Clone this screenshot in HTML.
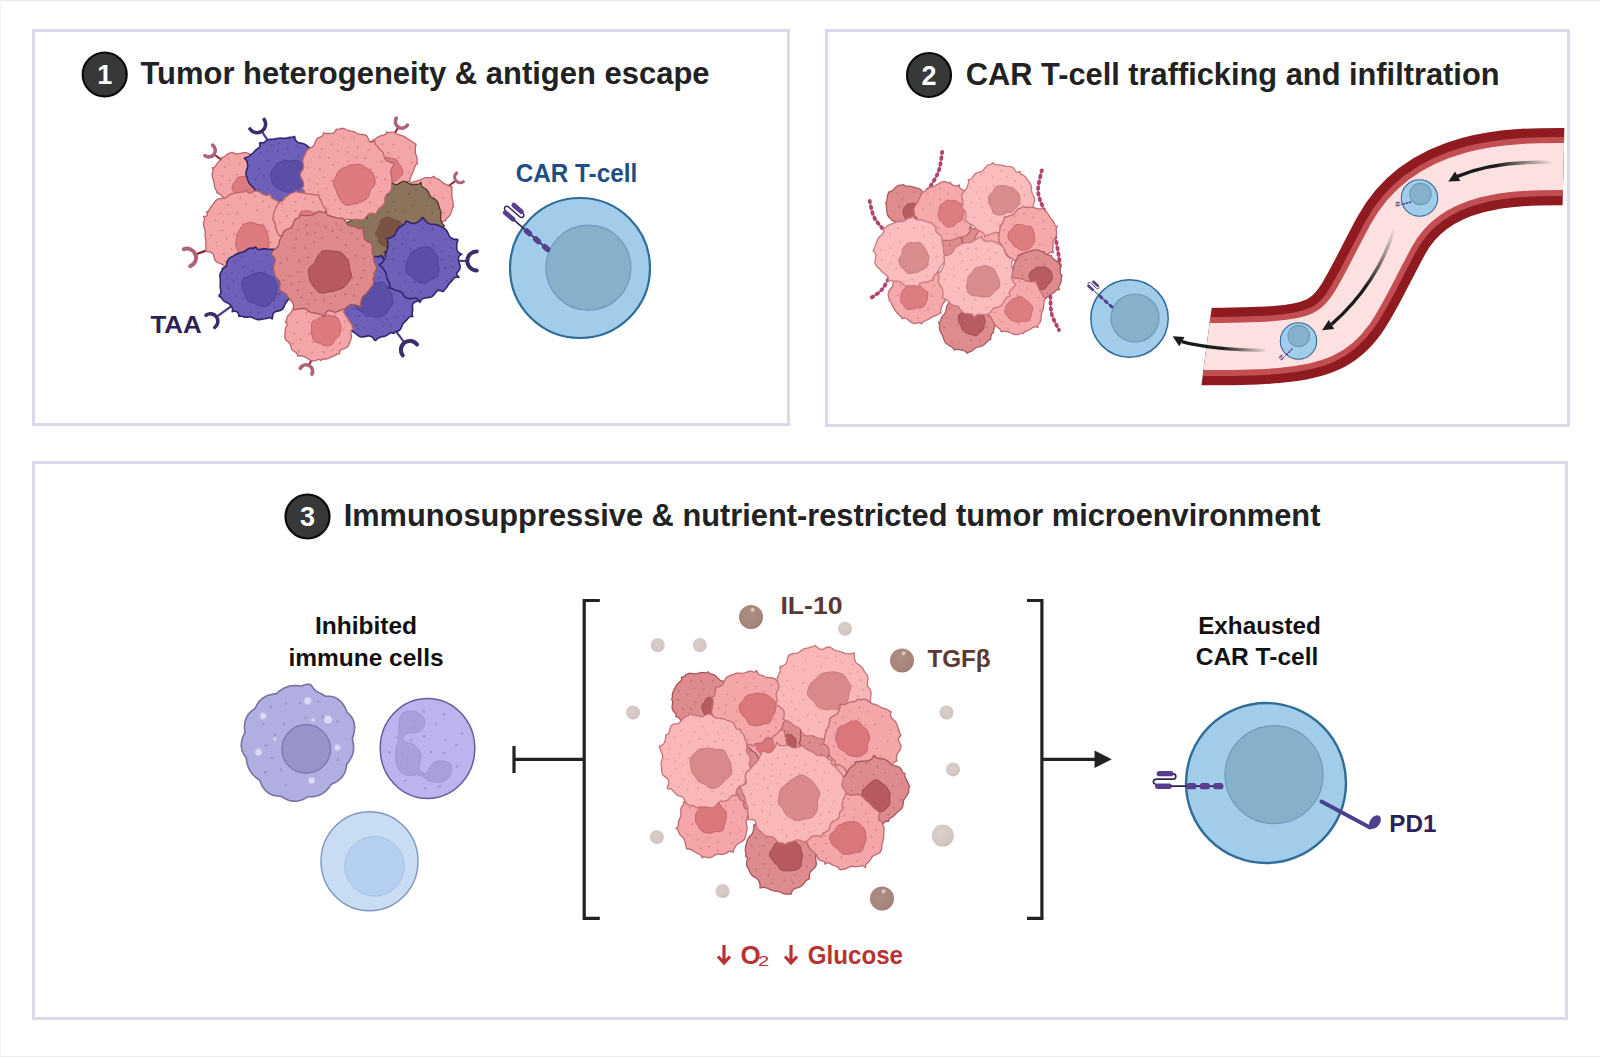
<!DOCTYPE html><html><head><meta charset="utf-8"><style>html,body{margin:0;padding:0;background:#fff;}#c{position:relative;width:1600px;height:1057px;overflow:hidden;background:#fff;}.box{position:absolute;box-sizing:border-box;border:3px solid #dbd8e9;background:#fff;}svg{position:absolute;left:0;top:0;}</style></head><body><div id="c"><div style="position:absolute;left:0;top:0;width:1600px;height:1px;background:#e9e9e9"></div><div style="position:absolute;left:0;top:0;width:1px;height:1057px;background:#f3f3f3"></div><div style="position:absolute;left:0;top:1056px;width:1600px;height:1px;background:#ececec"></div><div class="box" style="left:32px;top:29px;width:758px;height:397px"></div><div class="box" style="left:825px;top:29px;width:745px;height:398px"></div><div class="box" style="left:32px;top:461px;width:1536px;height:559px"></div><svg width="1600" height="1057" viewBox="0 0 1600 1057"><defs><linearGradient id="fadeR" gradientUnits="userSpaceOnUse" x1="1553" y1="162" x2="1460" y2="178"><stop offset="0" stop-color="#1b1b1b" stop-opacity="0"/><stop offset="0.6" stop-color="#1b1b1b" stop-opacity="1"/></linearGradient><linearGradient id="fadeM" gradientUnits="userSpaceOnUse" x1="1394" y1="228" x2="1335" y2="318"><stop offset="0" stop-color="#1b1b1b" stop-opacity="0"/><stop offset="0.6" stop-color="#1b1b1b" stop-opacity="1"/></linearGradient><linearGradient id="fadeL" gradientUnits="userSpaceOnUse" x1="1268" y1="350" x2="1185" y2="340"><stop offset="0" stop-color="#1b1b1b" stop-opacity="0"/><stop offset="0.55" stop-color="#1b1b1b" stop-opacity="1"/></linearGradient><radialGradient id="ballD" cx="0.45" cy="0.4" r="0.65"><stop offset="0" stop-color="#ac8c84"/><stop offset="0.8" stop-color="#a6847b"/><stop offset="1" stop-color="#98736a"/></radialGradient><radialGradient id="ballL" cx="0.45" cy="0.4" r="0.65"><stop offset="0" stop-color="#d9cfcb"/><stop offset="0.8" stop-color="#d3c6c2"/><stop offset="1" stop-color="#bfb0ab"/></radialGradient></defs><circle cx="104.7" cy="74.5" r="22" fill="#383838" stroke="#0a0a0a" stroke-width="2.2"/><text x="104.7" y="84.1" font-family='"Liberation Sans", sans-serif' font-size="27.0" font-weight="bold" fill="#ffffff" text-anchor="middle" >1</text><text x="140.4" y="84.4" font-family='"Liberation Sans", sans-serif' font-size="32.0" font-weight="bold" fill="#222222" text-anchor="start" textLength="569.2" lengthAdjust="spacingAndGlyphs" >Tumor heterogeneity &amp; antigen escape</text><circle cx="929.0" cy="75.0" r="22" fill="#383838" stroke="#0a0a0a" stroke-width="2.2"/><text x="929.0" y="84.6" font-family='"Liberation Sans", sans-serif' font-size="27.0" font-weight="bold" fill="#ffffff" text-anchor="middle" >2</text><text x="965.8" y="84.6" font-family='"Liberation Sans", sans-serif' font-size="32.0" font-weight="bold" fill="#222222" text-anchor="start" textLength="533.7" lengthAdjust="spacingAndGlyphs" >CAR T-cell trafficking and infiltration</text><circle cx="307.5" cy="516.5" r="22" fill="#383838" stroke="#0a0a0a" stroke-width="2.2"/><text x="307.5" y="526.1" font-family='"Liberation Sans", sans-serif' font-size="27.0" font-weight="bold" fill="#ffffff" text-anchor="middle" >3</text><text x="343.7" y="526.0" font-family='"Liberation Sans", sans-serif' font-size="32.0" font-weight="bold" fill="#222222" text-anchor="start" textLength="976.7" lengthAdjust="spacingAndGlyphs" >Immunosuppressive &amp; nutrient-restricted tumor microenvironment</text><g><line x1="224.3" y1="162.0" x2="214.0" y2="154.3" stroke="#8a2232" stroke-width="2.0"/><path d="M212.7,145.2 A6.5,6.5 0 0 1 204.9,155.6" fill="none" stroke="#b06378" stroke-width="3.6" stroke-linecap="round"/><line x1="269.4" y1="142.8" x2="261.8" y2="131.3" stroke="#4d3d80" stroke-width="2.2"/><path d="M264.2,119.5 A8.5,8.5 0 0 1 250.0,128.9" fill="none" stroke="#3d2c6c" stroke-width="3.6" stroke-linecap="round"/><line x1="391.3" y1="138.6" x2="398.4" y2="127.2" stroke="#8a2232" stroke-width="2.0"/><path d="M407.4,125.1 A6.5,6.5 0 0 1 396.3,118.2" fill="none" stroke="#b06378" stroke-width="3.6" stroke-linecap="round"/><line x1="445.7" y1="188.3" x2="455.6" y2="180.7" stroke="#8a2232" stroke-width="2.0"/><path d="M463.3,181.7 A5.5,5.5 0 0 1 456.6,173.0" fill="none" stroke="#b06378" stroke-width="3.2" stroke-linecap="round"/><line x1="209.2" y1="249.4" x2="195.5" y2="254.5" stroke="#8a2232" stroke-width="2.2"/><path d="M183.9,249.2 A9.0,9.0 0 0 1 190.2,266.1" fill="none" stroke="#b06378" stroke-width="4.0" stroke-linecap="round"/><line x1="456.3" y1="260.9" x2="467.3" y2="260.9" stroke="#4d3d80" stroke-width="2.2"/><path d="M476.8,270.4 A9.5,9.5 0 0 1 476.8,251.4" fill="none" stroke="#3d2c6c" stroke-width="4.0" stroke-linecap="round"/><line x1="233.6" y1="304.5" x2="216.5" y2="316.9" stroke="#4d3d80" stroke-width="2.2"/><path d="M206.0,315.2 A7.5,7.5 0 0 1 214.8,327.4" fill="none" stroke="#3d2c6c" stroke-width="3.6" stroke-linecap="round"/><line x1="396.2" y1="331.7" x2="404.5" y2="342.7" stroke="#4d3d80" stroke-width="2.2"/><path d="M402.7,355.3 A9.0,9.0 0 0 1 417.1,344.5" fill="none" stroke="#3d2c6c" stroke-width="4.0" stroke-linecap="round"/><line x1="312.3" y1="358.5" x2="308.9" y2="365.4" stroke="#8a2232" stroke-width="2.0"/><path d="M300.2,368.4 A6.5,6.5 0 0 1 311.9,374.1" fill="none" stroke="#b06378" stroke-width="3.6" stroke-linecap="round"/><path d="M262.9,177.0 L262.8,177.7 L263.1,178.4 L264.2,179.3 L263.1,179.9 L262.2,180.5 L261.9,181.1 L261.6,181.8 L261.5,182.5 L261.4,183.1 L261.2,183.8 L261.1,184.5 L260.9,185.2 L260.7,185.8 L260.5,186.5 L260.3,187.2 L260.2,187.9 L260.4,188.8 L260.1,189.5 L259.1,189.7 L258.5,190.2 L258.0,190.7 L257.6,191.3 L257.2,191.8 L256.8,192.4 L256.5,193.0 L256.1,193.6 L255.6,194.1 L255.2,194.7 L254.7,195.2 L254.3,195.8 L253.7,196.2 L253.1,196.6 L252.5,197.0 L251.9,197.3 L251.2,197.6 L250.6,197.8 L249.9,198.0 L249.2,198.2 L248.5,198.4 L247.9,198.6 L247.2,198.8 L246.6,199.2 L246.1,199.7 L245.7,200.6 L245.5,202.4 L244.4,201.4 L243.6,201.3 L243.0,201.6 L242.3,202.0 L241.6,202.4 L241.0,202.7 L240.2,203.1 L239.5,203.3 L238.8,203.4 L238.0,203.5 L237.2,203.5 L236.5,203.3 L235.8,203.1 L235.0,202.9 L234.3,202.6 L233.6,202.2 L233.0,201.9 L232.3,201.5 L231.6,201.2 L231.0,200.9 L230.3,200.6 L229.7,200.3 L229.0,200.1 L228.4,199.8 L227.7,199.6 L227.0,199.3 L226.4,199.0 L225.7,198.7 L225.1,198.4 L224.5,198.1 L223.9,197.7 L223.3,197.2 L222.7,196.8 L222.2,196.4 L221.6,195.9 L221.1,195.4 L220.6,194.9 L220.0,194.5 L219.5,194.0 L218.9,193.6 L218.2,193.2 L217.1,193.1 L216.9,192.3 L216.8,191.5 L216.4,190.9 L216.1,190.2 L215.7,189.6 L215.4,188.9 L215.1,188.3 L214.9,187.6 L214.7,186.8 L214.5,186.1 L214.4,185.4 L214.3,184.7 L214.2,184.0 L214.1,183.3 L214.0,182.6 L213.8,181.9 L213.7,181.2 L213.5,180.5 L213.3,179.8 L213.0,179.1 L212.8,178.4 L212.6,177.7 L212.4,177.0 L212.3,176.3 L212.2,175.5 L212.2,174.8 L212.2,174.0 L212.3,173.3 L212.5,172.6 L212.7,171.9 L212.9,171.2 L213.1,170.5 L213.2,169.7 L212.8,168.8 L212.1,167.8 L213.8,167.6 L214.7,167.1 L215.2,166.6 L215.6,166.0 L215.9,165.4 L216.3,164.7 L216.7,164.1 L217.1,163.6 L217.5,163.0 L217.9,162.4 L218.4,161.9 L218.9,161.4 L219.5,161.0 L220.0,160.5 L220.6,160.1 L221.1,159.6 L221.6,159.1 L221.9,158.4 L221.8,157.1 L222.7,157.2 L223.6,157.2 L224.3,156.9 L224.8,156.5 L225.3,156.0 L225.9,155.5 L226.4,155.0 L227.0,154.5 L227.5,154.1 L228.2,153.7 L228.8,153.4 L229.5,153.2 L230.2,153.0 L230.9,152.7 L231.5,152.3 L232.2,152.2 L233.1,152.9 L233.9,153.2 L234.6,153.5 L235.3,153.6 L236.0,153.8 L236.7,153.9 L237.3,153.9 L238.0,153.9 L238.7,153.8 L239.3,153.6 L240.0,153.5 L240.7,153.3 L241.4,153.1 L242.2,152.9 L242.9,152.8 L243.7,152.7 L244.4,152.6 L245.2,152.6 L245.9,152.7 L246.6,152.8 L247.3,153.0 L248.0,153.2 L248.7,153.5 L249.4,153.8 L250.1,154.2 L250.7,154.5 L251.3,154.9 L252.0,155.2 L252.6,155.6 L253.3,156.0 L253.9,156.4 L254.5,156.8 L255.1,157.2 L255.8,157.6 L256.5,157.9 L257.6,158.0 L257.7,158.9 L257.9,159.8 L258.2,160.5 L258.5,161.2 L258.9,161.8 L259.2,162.5 L259.6,163.1 L259.9,163.8 L260.3,164.4 L260.6,165.1 L261.0,165.7 L261.4,166.3 L261.7,167.0 L262.1,167.6 L262.5,168.3 L262.8,168.9 L263.1,169.6 L263.3,170.4 L263.5,171.1 L263.6,171.8 L263.6,172.6 L263.6,173.3 L263.5,174.1 L263.4,174.8 L263.2,175.6 L263.1,176.3Z" fill="#f4a5a7" stroke="#b8656c" stroke-width="1.3" stroke-linejoin="round"/><g fill="#e0868a"><circle cx="228.3" cy="159.1" r="1.1"/><circle cx="238.1" cy="183.3" r="1.1"/><circle cx="229.8" cy="180.6" r="1.1"/><circle cx="220.7" cy="184.3" r="1.1"/><circle cx="243.7" cy="196.3" r="1.1"/><circle cx="222.4" cy="176.0" r="1.1"/><circle cx="254.7" cy="176.6" r="1.1"/><circle cx="247.2" cy="189.1" r="1.1"/><circle cx="239.7" cy="163.8" r="1.1"/><circle cx="237.1" cy="174.3" r="1.1"/><circle cx="251.3" cy="160.5" r="1.1"/><circle cx="224.8" cy="166.9" r="1.1"/><circle cx="247.0" cy="179.3" r="1.1"/><circle cx="256.4" cy="188.3" r="1.1"/></g><path d="M254.8,187.0 L254.6,187.7 L254.4,188.5 L254.3,189.2 L254.1,189.9 L253.9,190.6 L253.6,191.3 L253.2,191.9 L252.8,192.5 L252.4,193.1 L252.0,193.7 L251.6,194.4 L251.2,195.0 L250.8,195.7 L250.2,196.2 L249.6,196.6 L248.9,197.0 L248.1,197.2 L247.4,197.4 L246.7,197.7 L245.9,198.0 L245.2,198.3 L244.4,198.5 L243.6,198.7 L242.8,198.8 L241.9,198.7 L241.1,198.6 L240.3,198.4 L239.5,198.1 L238.8,197.8 L238.0,197.3 L237.4,196.8 L236.9,196.1 L236.5,195.3 L236.2,194.6 L235.9,193.8 L235.5,193.2 L235.0,192.6 L234.3,192.1 L233.7,191.6 L233.0,191.0 L232.5,190.3 L232.2,189.5 L232.1,188.7 L232.1,187.8 L232.3,187.0 L232.5,186.2 L232.7,185.4 L232.9,184.6 L233.2,183.9 L233.6,183.2 L234.1,182.6 L234.6,182.0 L235.1,181.4 L235.5,180.9 L235.9,180.2 L236.3,179.6 L236.7,178.9 L237.1,178.2 L237.7,177.6 L238.3,177.2 L239.1,176.9 L239.9,176.8 L240.7,176.7 L241.4,176.7 L242.2,176.6 L242.9,176.5 L243.6,176.5 L244.4,176.4 L245.1,176.4 L245.9,176.5 L246.6,176.5 L247.4,176.4 L248.3,176.4 L249.2,176.4 L250.1,176.5 L250.9,176.7 L251.7,177.2 L252.3,177.8 L252.9,178.4 L253.3,179.2 L253.7,179.9 L254.2,180.6 L254.6,181.3 L255.1,182.1 L255.4,182.9 L255.6,183.7 L255.6,184.5 L255.4,185.4 L255.1,186.2Z" fill="#dc7a7e" stroke="#c0646a" stroke-width="1"/><path d="M417.1,160.0 L417.1,160.8 L417.0,161.5 L417.0,162.3 L417.4,163.1 L417.6,164.0 L416.2,164.5 L415.5,165.2 L415.1,165.8 L414.9,166.5 L414.6,167.2 L414.4,167.9 L414.2,168.6 L414.0,169.4 L413.8,170.1 L413.6,170.8 L413.3,171.5 L413.0,172.1 L412.7,172.8 L412.4,173.5 L412.0,174.2 L411.7,174.8 L411.4,175.5 L411.0,176.2 L410.7,177.0 L410.4,177.7 L410.1,178.5 L409.9,179.3 L409.9,180.5 L410.3,182.1 L408.7,181.6 L407.8,181.7 L407.0,182.0 L406.2,182.3 L405.4,182.5 L404.6,182.7 L403.8,182.9 L403.0,183.0 L402.2,183.2 L401.5,183.3 L400.7,183.5 L400.0,183.8 L399.4,184.1 L398.7,184.5 L398.1,185.0 L397.6,185.7 L397.1,187.1 L396.3,187.0 L395.4,186.7 L394.6,186.7 L393.9,186.8 L393.1,187.0 L392.3,187.1 L391.6,187.2 L390.8,187.2 L390.0,187.2 L389.2,187.3 L388.4,187.3 L387.7,187.3 L386.9,187.4 L386.1,187.4 L385.3,187.4 L384.5,187.4 L383.7,187.3 L382.9,187.1 L382.1,186.9 L381.4,186.5 L380.7,186.1 L380.0,185.6 L379.4,185.1 L378.8,184.6 L378.2,184.1 L377.5,183.7 L376.6,183.7 L375.2,184.5 L375.1,183.2 L374.8,182.2 L374.3,181.6 L373.6,181.2 L372.9,180.9 L372.2,180.5 L371.5,180.2 L370.8,179.7 L370.2,179.3 L369.6,178.7 L369.1,178.1 L368.6,177.5 L368.2,176.8 L367.8,176.1 L367.5,175.4 L367.2,174.7 L366.9,174.0 L366.5,173.3 L366.2,172.6 L365.9,171.9 L365.5,171.2 L365.1,170.5 L364.6,169.9 L363.8,169.3 L362.2,169.0 L362.9,168.0 L363.4,167.0 L363.4,166.2 L363.3,165.4 L363.2,164.6 L363.0,163.9 L362.8,163.1 L362.6,162.4 L362.3,161.6 L362.1,160.8 L361.9,160.0 L361.7,159.2 L361.5,158.4 L361.4,157.5 L361.5,156.7 L361.6,155.9 L361.9,155.1 L362.2,154.4 L362.7,153.6 L363.2,153.0 L363.8,152.3 L364.4,151.7 L364.9,151.1 L365.5,150.4 L365.9,149.8 L366.1,149.1 L366.0,148.2 L365.0,146.8 L366.5,146.7 L367.3,146.3 L367.7,145.7 L368.0,145.0 L368.4,144.3 L368.8,143.6 L369.2,143.0 L369.7,142.4 L370.3,141.9 L370.9,141.4 L371.6,141.0 L372.2,140.6 L372.9,140.3 L373.6,139.9 L374.2,139.5 L374.9,139.1 L375.5,138.7 L376.1,138.3 L376.7,137.9 L377.3,137.5 L377.9,137.1 L378.6,136.8 L379.2,136.4 L379.9,136.1 L380.6,135.9 L381.3,135.7 L382.0,135.5 L382.8,135.3 L383.5,135.1 L384.2,134.9 L384.8,134.6 L385.5,134.1 L386.2,133.3 L386.7,131.6 L387.6,132.6 L388.4,132.7 L389.2,132.6 L390.0,132.4 L390.8,132.3 L391.6,132.2 L392.4,132.2 L393.2,132.3 L393.9,132.5 L394.7,132.8 L395.4,133.1 L396.2,133.5 L396.9,133.8 L397.6,134.1 L398.3,134.5 L399.0,134.7 L399.7,135.0 L400.5,135.2 L401.2,135.5 L402.0,135.7 L402.7,135.9 L403.4,136.2 L404.1,136.5 L404.8,136.9 L405.5,137.3 L406.2,137.7 L406.8,138.2 L407.5,138.6 L408.2,139.1 L408.8,139.5 L409.5,139.9 L410.2,140.4 L410.9,140.8 L411.6,141.2 L412.4,141.7 L413.0,142.2 L413.7,142.8 L414.4,143.3 L415.1,143.8 L416.1,144.2 L415.7,145.5 L415.5,146.5 L415.5,147.5 L415.4,148.4 L415.4,149.3 L415.3,150.1 L415.3,151.0 L415.3,151.8 L415.4,152.5 L415.5,153.3 L415.7,154.0 L416.0,154.7 L416.3,155.5 L416.5,156.2 L416.8,156.9 L417.0,157.7 L417.1,158.4 L417.2,159.2Z" fill="#f4a5a7" stroke="#b8656c" stroke-width="1.3" stroke-linejoin="round"/><g fill="#e0868a"><circle cx="387.2" cy="163.1" r="1.1"/><circle cx="397.0" cy="174.2" r="1.1"/><circle cx="393.3" cy="144.5" r="1.1"/><circle cx="380.0" cy="159.7" r="1.1"/><circle cx="375.1" cy="153.1" r="1.1"/><circle cx="411.6" cy="162.7" r="1.1"/><circle cx="383.0" cy="144.2" r="1.1"/><circle cx="408.9" cy="173.1" r="1.1"/><circle cx="392.2" cy="182.0" r="1.1"/><circle cx="398.4" cy="158.0" r="1.1"/><circle cx="388.3" cy="153.0" r="1.1"/><circle cx="385.6" cy="173.2" r="1.1"/><circle cx="379.9" cy="181.0" r="1.1"/><circle cx="375.8" cy="171.2" r="1.1"/><circle cx="410.1" cy="147.7" r="1.1"/><circle cx="369.6" cy="159.2" r="1.1"/><circle cx="400.0" cy="166.9" r="1.1"/></g><path d="M402.5,170.0 L402.8,170.9 L403.0,171.8 L402.9,172.7 L402.7,173.6 L402.3,174.5 L401.7,175.2 L401.1,175.9 L400.5,176.5 L399.9,177.2 L399.4,177.9 L398.8,178.5 L398.2,179.1 L397.6,179.7 L396.8,180.1 L396.1,180.5 L395.3,180.9 L394.6,181.3 L393.8,181.7 L393.0,182.0 L392.2,182.2 L391.3,182.3 L390.4,182.3 L389.6,182.2 L388.7,182.1 L387.9,182.0 L387.0,181.9 L386.2,181.8 L385.3,181.6 L384.5,181.3 L383.7,180.8 L383.1,180.2 L382.6,179.5 L382.2,178.7 L381.8,177.9 L381.3,177.3 L380.8,176.7 L380.2,176.1 L379.6,175.5 L379.1,174.9 L378.7,174.1 L378.5,173.3 L378.3,172.5 L378.3,171.6 L378.3,170.8 L378.3,170.0 L378.3,169.2 L378.3,168.4 L378.5,167.6 L378.8,166.8 L379.2,166.1 L379.5,165.3 L379.9,164.6 L380.1,163.8 L380.3,163.0 L380.5,162.0 L380.8,161.1 L381.1,160.2 L381.7,159.3 L382.4,158.7 L383.2,158.2 L384.0,157.8 L384.9,157.5 L385.9,157.3 L386.8,157.2 L387.8,157.3 L388.7,157.5 L389.6,157.8 L390.4,158.1 L391.2,158.4 L392.0,158.6 L392.8,158.7 L393.6,158.8 L394.5,158.9 L395.3,159.1 L396.1,159.5 L396.7,160.1 L397.2,160.8 L397.6,161.6 L398.0,162.3 L398.3,163.0 L398.8,163.6 L399.3,164.2 L399.8,164.8 L400.3,165.4 L400.7,166.1 L401.1,166.8 L401.5,167.6 L401.8,168.3 L402.1,169.2Z" fill="#dc7a7e" stroke="#c0646a" stroke-width="1"/><path d="M452.9,202.0 L453.0,202.7 L453.1,203.4 L453.1,204.2 L453.2,204.9 L453.6,205.7 L453.9,206.5 L453.0,207.1 L452.6,207.7 L452.3,208.4 L452.1,209.1 L451.9,209.8 L451.7,210.5 L451.5,211.2 L451.3,211.9 L451.1,212.5 L450.8,213.2 L450.5,213.9 L450.2,214.5 L449.9,215.2 L449.4,215.8 L449.0,216.4 L448.5,216.9 L448.0,217.4 L447.4,217.9 L446.9,218.4 L446.4,218.9 L446.0,219.5 L446.0,220.6 L445.1,220.7 L444.3,220.8 L443.6,221.1 L443.1,221.5 L442.5,222.0 L442.0,222.5 L441.5,223.0 L441.0,223.5 L440.4,224.0 L439.9,224.5 L439.3,224.9 L438.6,225.3 L438.0,225.6 L437.3,225.8 L436.6,226.0 L435.8,226.2 L435.1,226.3 L434.4,226.3 L433.7,226.4 L433.0,226.6 L432.3,227.1 L431.8,228.2 L430.9,227.0 L430.1,226.6 L429.4,226.4 L428.7,226.4 L428.0,226.4 L427.3,226.4 L426.6,226.3 L425.9,226.3 L425.2,226.2 L424.5,226.1 L423.9,226.0 L423.2,225.8 L422.5,225.6 L421.9,225.3 L421.2,225.1 L420.6,224.9 L419.9,224.6 L419.3,224.4 L418.6,224.2 L417.9,224.0 L417.3,223.8 L416.6,223.7 L415.9,223.5 L415.2,223.3 L414.5,223.0 L413.8,222.8 L413.1,222.4 L412.5,222.1 L412.0,221.6 L411.4,221.1 L411.0,220.6 L410.5,220.0 L410.2,219.3 L409.8,218.7 L409.6,218.0 L409.3,217.3 L409.0,216.7 L408.6,216.1 L408.1,215.6 L407.2,215.4 L406.1,215.2 L406.6,214.1 L406.5,213.4 L406.0,212.8 L405.5,212.3 L404.8,211.8 L403.9,211.4 L402.3,211.2 L402.6,210.2 L402.6,209.5 L402.3,208.7 L402.1,208.0 L401.8,207.3 L401.7,206.6 L401.5,205.8 L401.5,205.0 L401.5,204.3 L401.6,203.5 L401.6,202.8 L401.7,202.0 L401.8,201.3 L401.9,200.5 L402.0,199.8 L402.2,199.0 L402.3,198.3 L402.4,197.6 L402.6,196.8 L402.7,196.1 L402.9,195.4 L403.2,194.7 L403.5,194.0 L403.8,193.4 L404.1,192.7 L404.5,192.1 L404.9,191.4 L405.2,190.8 L405.4,190.1 L405.2,189.2 L404.7,188.0 L406.4,188.1 L407.2,187.8 L407.7,187.3 L408.2,186.7 L408.6,186.1 L409.0,185.5 L409.4,184.9 L409.9,184.4 L410.4,183.9 L410.9,183.4 L411.5,182.9 L412.1,182.5 L412.7,182.2 L413.4,181.9 L414.1,181.7 L414.8,181.4 L415.5,181.2 L416.2,181.1 L416.9,180.9 L417.5,180.7 L418.2,180.5 L418.8,180.3 L419.5,180.1 L420.1,179.8 L420.7,179.6 L421.3,179.3 L421.9,179.0 L422.6,178.7 L423.2,178.4 L423.9,178.2 L424.5,178.0 L425.2,177.8 L425.9,177.7 L426.6,177.6 L427.3,177.6 L428.0,177.6 L428.7,177.6 L429.4,177.6 L430.1,177.6 L430.8,177.6 L431.5,177.6 L432.3,177.3 L433.2,176.5 L434.0,176.3 L434.5,177.4 L435.1,177.9 L435.8,178.1 L436.4,178.4 L437.1,178.6 L437.8,178.9 L438.4,179.2 L439.0,179.6 L439.6,180.0 L440.2,180.4 L440.7,180.9 L441.3,181.3 L441.8,181.8 L442.4,182.2 L442.9,182.7 L443.5,183.1 L444.1,183.4 L444.7,183.8 L445.4,184.1 L446.1,184.4 L446.8,184.7 L447.5,185.1 L448.2,185.4 L448.9,185.8 L449.7,186.3 L450.5,186.6 L451.8,186.7 L452.2,187.4 L451.8,188.6 L451.7,189.5 L451.8,190.3 L451.8,191.1 L451.9,191.9 L451.9,192.7 L451.8,193.5 L451.8,194.3 L451.8,195.0 L451.8,195.7 L451.9,196.5 L451.9,197.1 L452.1,197.8 L452.2,198.5 L452.4,199.2 L452.5,199.9 L452.7,200.6 L452.8,201.3Z" fill="#f4a5a7" stroke="#b8656c" stroke-width="1.3" stroke-linejoin="round"/><g fill="#e0868a"><circle cx="423.6" cy="209.1" r="1.1"/><circle cx="427.2" cy="222.3" r="1.1"/><circle cx="418.4" cy="200.0" r="1.1"/><circle cx="436.1" cy="213.6" r="1.1"/><circle cx="411.0" cy="214.5" r="1.1"/><circle cx="407.4" cy="205.0" r="1.1"/><circle cx="442.7" cy="197.9" r="1.1"/><circle cx="412.3" cy="188.5" r="1.1"/><circle cx="429.9" cy="182.6" r="1.1"/><circle cx="422.0" cy="190.8" r="1.1"/><circle cx="444.2" cy="213.0" r="1.1"/><circle cx="409.5" cy="196.8" r="1.1"/><circle cx="434.3" cy="196.2" r="1.1"/><circle cx="426.7" cy="200.1" r="1.1"/></g><path d="M436.4,210.0 L436.3,210.8 L436.2,211.6 L436.2,212.4 L436.0,213.2 L435.8,213.9 L435.4,214.6 L434.9,215.3 L434.3,215.8 L433.8,216.4 L433.2,216.9 L432.6,217.4 L432.0,217.8 L431.4,218.2 L430.7,218.4 L430.0,218.7 L429.3,218.9 L428.7,219.1 L428.1,219.4 L427.5,219.8 L426.8,220.3 L426.1,220.9 L425.4,221.3 L424.6,221.6 L423.8,221.8 L422.9,221.8 L422.1,221.7 L421.3,221.5 L420.4,221.3 L419.7,221.0 L418.9,220.5 L418.2,220.0 L417.7,219.4 L417.2,218.6 L416.8,217.9 L416.4,217.2 L416.0,216.6 L415.4,216.0 L414.8,215.4 L414.2,214.8 L413.7,214.1 L413.4,213.3 L413.4,212.5 L413.5,211.6 L413.8,210.8 L414.1,210.0 L414.3,209.3 L414.5,208.5 L414.7,207.8 L414.8,207.1 L415.0,206.4 L415.2,205.6 L415.5,204.9 L415.8,204.2 L416.1,203.5 L416.4,202.8 L416.8,202.1 L417.2,201.4 L417.8,200.8 L418.5,200.3 L419.3,200.0 L420.1,199.9 L420.9,199.8 L421.7,199.7 L422.4,199.7 L423.2,199.5 L423.9,199.4 L424.6,199.3 L425.4,199.3 L426.1,199.3 L426.9,199.4 L427.6,199.5 L428.4,199.6 L429.2,199.7 L430.0,199.8 L430.8,200.0 L431.6,200.3 L432.2,200.7 L432.8,201.3 L433.3,202.0 L433.8,202.6 L434.3,203.3 L434.8,203.8 L435.4,204.4 L436.0,205.1 L436.5,205.8 L436.8,206.6 L436.9,207.5 L436.8,208.3 L436.6,209.2Z" fill="#dc7a7e" stroke="#c0646a" stroke-width="1"/><path d="M391.3,240.0 L391.3,240.8 L391.6,241.5 L392.6,242.4 L391.2,243.0 L390.6,243.7 L390.2,244.4 L389.9,245.1 L389.6,245.7 L389.3,246.4 L389.0,247.0 L388.6,247.7 L388.2,248.3 L387.8,248.9 L387.4,249.4 L386.9,250.0 L386.5,250.6 L386.1,251.1 L385.7,251.7 L385.4,252.3 L385.2,253.0 L385.3,253.9 L386.0,255.3 L385.3,255.6 L384.3,255.8 L383.8,256.3 L383.4,256.9 L383.0,257.5 L382.6,258.2 L382.2,258.8 L381.8,259.3 L381.2,259.9 L380.7,260.3 L380.1,260.7 L379.4,261.1 L378.8,261.4 L378.1,261.7 L377.4,261.9 L376.7,262.2 L376.0,262.4 L375.3,262.6 L374.6,262.8 L373.9,263.0 L373.3,263.2 L372.6,263.4 L371.9,263.6 L371.2,263.8 L370.6,263.9 L369.9,264.1 L369.2,264.2 L368.5,264.3 L367.8,264.4 L367.1,264.4 L366.4,264.4 L365.7,264.4 L365.0,264.4 L364.3,264.4 L363.6,264.4 L362.9,264.4 L362.2,264.4 L361.5,264.4 L360.8,264.4 L360.1,264.4 L359.3,264.5 L358.5,264.7 L357.5,265.5 L356.7,265.4 L356.3,264.3 L355.7,263.8 L355.1,263.3 L354.5,262.9 L353.9,262.5 L353.4,262.0 L352.8,261.5 L352.3,261.0 L351.8,260.5 L351.3,260.0 L350.8,259.6 L350.3,259.1 L349.7,258.7 L349.1,258.3 L348.5,257.9 L347.9,257.6 L347.3,257.2 L346.6,256.9 L346.0,256.5 L345.3,256.1 L344.7,255.6 L344.2,255.1 L343.6,254.6 L343.1,254.1 L342.4,253.6 L341.3,253.4 L341.9,252.2 L342.0,251.3 L342.0,250.5 L342.0,249.7 L342.0,249.0 L341.9,248.2 L341.9,247.5 L341.8,246.8 L341.7,246.1 L341.5,245.5 L341.4,244.8 L341.2,244.1 L341.0,243.5 L340.8,242.8 L340.5,242.1 L340.3,241.4 L340.1,240.7 L340.0,240.0 L339.8,239.3 L339.7,238.6 L339.6,237.8 L339.3,237.1 L338.6,236.2 L337.4,235.2 L338.9,234.7 L339.5,234.1 L339.8,233.4 L339.9,232.6 L340.0,231.9 L340.1,231.1 L340.1,230.3 L339.9,229.4 L339.1,228.2 L339.9,227.7 L340.8,227.2 L341.4,226.7 L341.9,226.1 L342.4,225.5 L343.0,224.9 L343.6,224.4 L344.2,224.0 L344.9,223.6 L345.6,223.2 L346.3,222.8 L347.0,222.5 L347.7,222.2 L348.4,221.9 L349.0,221.6 L349.6,221.2 L350.2,220.8 L350.8,220.5 L351.4,220.1 L351.9,219.7 L352.5,219.2 L353.0,218.8 L353.6,218.4 L354.2,218.0 L354.8,217.7 L355.4,217.4 L356.1,217.1 L356.7,216.9 L357.4,216.7 L358.1,216.5 L358.8,216.3 L359.5,216.2 L360.1,216.0 L360.8,215.7 L361.4,215.1 L362.0,213.7 L362.8,214.9 L363.6,215.4 L364.3,215.5 L365.0,215.6 L365.7,215.6 L366.4,215.6 L367.1,215.7 L367.8,215.9 L368.4,216.0 L369.1,216.2 L369.8,216.5 L370.4,216.7 L371.0,217.0 L371.7,217.2 L372.3,217.5 L373.0,217.7 L373.6,217.9 L374.3,218.0 L375.0,218.1 L375.8,218.1 L376.8,217.7 L378.0,216.9 L378.2,218.2 L378.6,218.8 L379.3,219.2 L379.9,219.5 L380.5,219.9 L381.1,220.3 L381.7,220.8 L382.2,221.3 L382.6,221.9 L383.0,222.5 L383.4,223.1 L383.8,223.7 L384.1,224.4 L384.5,225.0 L384.8,225.6 L385.2,226.2 L385.6,226.8 L386.1,227.3 L386.5,227.8 L387.1,228.4 L387.6,228.9 L388.2,229.4 L388.7,230.0 L389.3,230.5 L389.8,231.2 L390.2,231.8 L390.6,232.5 L391.0,233.2 L391.2,233.9 L391.4,234.7 L391.5,235.4 L391.6,236.2 L391.5,237.0 L391.5,237.7 L391.4,238.5 L391.3,239.2Z" fill="#8c735c" stroke="#4e3626" stroke-width="1.3"/><path d="M440.6,219.0 L440.8,220.1 L441.1,221.2 L441.6,222.3 L442.3,223.5 L443.6,224.8 L444.4,226.2 L442.8,227.1 L441.9,228.0 L441.1,229.0 L440.3,229.9 L439.4,230.8 L438.5,231.7 L437.6,232.5 L436.9,233.3 L436.2,234.2 L435.6,235.0 L435.1,235.9 L434.5,236.8 L433.9,237.6 L433.2,238.4 L432.5,239.2 L431.8,239.9 L431.1,240.6 L430.4,241.4 L429.8,242.2 L429.3,243.1 L428.8,244.0 L428.2,245.0 L427.6,245.8 L426.9,246.6 L426.1,247.2 L425.2,247.8 L424.4,248.5 L424.1,249.8 L422.7,249.6 L421.0,248.9 L419.8,248.8 L418.9,249.2 L418.2,249.9 L417.5,250.7 L416.8,251.7 L416.1,252.6 L415.3,253.5 L414.4,254.2 L413.5,254.6 L412.4,254.9 L411.4,255.0 L410.3,255.0 L409.2,254.9 L408.2,254.8 L407.1,254.8 L406.1,254.9 L405.1,255.0 L404.0,255.1 L403.0,255.2 L402.0,255.2 L400.9,255.2 L399.9,255.1 L398.9,255.0 L397.8,255.0 L396.7,255.2 L395.5,255.8 L394.1,257.2 L393.1,256.7 L392.2,255.8 L391.2,255.4 L390.1,255.1 L389.1,254.6 L388.2,253.9 L387.4,253.1 L386.6,252.3 L385.8,251.6 L384.7,251.3 L383.1,251.9 L382.9,250.3 L382.1,249.5 L381.1,249.2 L379.9,248.9 L378.8,248.6 L377.6,248.3 L376.6,247.7 L375.7,247.1 L374.9,246.3 L374.2,245.4 L373.5,244.5 L372.9,243.6 L372.2,242.7 L371.6,241.8 L370.9,240.9 L370.3,240.0 L369.8,239.0 L369.4,238.0 L369.1,236.9 L369.0,235.7 L368.9,234.6 L368.8,233.4 L368.7,232.3 L368.5,231.3 L368.2,230.3 L367.7,229.4 L367.1,228.4 L366.4,227.5 L365.9,226.5 L365.4,225.5 L365.2,224.4 L365.2,223.3 L365.3,222.2 L365.6,221.1 L366.0,220.1 L366.4,219.0 L366.7,218.0 L366.9,216.9 L366.9,215.9 L366.7,214.8 L365.9,213.7 L366.2,212.6 L367.4,211.8 L368.0,210.9 L368.5,209.9 L368.9,209.0 L369.3,208.0 L369.5,207.1 L369.6,206.0 L369.6,204.9 L369.6,203.7 L369.5,202.5 L369.5,201.3 L369.7,200.2 L370.1,199.2 L370.8,198.3 L371.6,197.5 L372.6,196.9 L373.6,196.3 L374.6,195.8 L375.5,195.2 L376.3,194.5 L377.0,193.8 L377.6,192.9 L378.0,191.8 L378.3,190.4 L377.9,188.3 L379.2,188.2 L380.7,188.2 L381.7,187.9 L382.7,187.5 L383.7,187.0 L384.7,186.6 L385.6,186.1 L386.6,185.6 L387.6,185.2 L388.5,184.8 L389.5,184.3 L390.3,183.5 L390.9,181.7 L392.4,183.0 L393.8,184.1 L395.0,184.5 L396.0,184.6 L397.0,184.5 L398.0,184.1 L398.9,183.6 L399.9,182.9 L400.9,182.3 L401.9,181.8 L403.0,181.4 L404.1,181.3 L405.1,181.5 L406.2,181.9 L407.2,182.5 L408.2,183.1 L409.1,183.7 L410.1,184.1 L411.0,184.4 L412.1,184.5 L413.1,184.6 L414.2,184.5 L415.3,184.5 L416.4,184.5 L417.6,184.4 L419.0,184.0 L421.0,182.3 L421.1,184.7 L421.6,186.1 L422.4,186.9 L423.3,187.5 L424.2,188.0 L425.1,188.5 L426.0,189.2 L426.8,189.9 L427.5,190.7 L428.1,191.6 L428.6,192.7 L429.0,193.7 L429.4,194.7 L429.9,195.7 L430.5,196.5 L431.3,197.2 L432.2,197.8 L433.2,198.3 L434.3,198.9 L435.3,199.5 L436.2,200.2 L437.0,201.1 L437.6,202.0 L438.0,203.0 L438.4,204.0 L438.7,205.1 L438.9,206.2 L439.2,207.2 L439.6,208.3 L440.0,209.3 L440.3,210.3 L440.7,211.4 L440.9,212.4 L441.0,213.5 L440.9,214.6 L440.8,215.8 L440.7,216.8 L440.6,217.9Z" fill="#8c735c" stroke="#4e3626" stroke-width="1.3" stroke-linejoin="round"/><g fill="#7b634e"><circle cx="394.7" cy="242.1" r="1.1"/><circle cx="404.9" cy="238.7" r="1.1"/><circle cx="413.2" cy="205.4" r="1.1"/><circle cx="408.8" cy="194.3" r="1.1"/><circle cx="393.0" cy="201.7" r="1.1"/><circle cx="405.6" cy="211.1" r="1.1"/><circle cx="416.2" cy="189.9" r="1.1"/><circle cx="386.4" cy="237.4" r="1.1"/><circle cx="387.6" cy="212.3" r="1.1"/><circle cx="382.2" cy="203.2" r="1.1"/><circle cx="394.8" cy="188.1" r="1.1"/><circle cx="376.0" cy="217.1" r="1.1"/><circle cx="425.9" cy="227.6" r="1.1"/><circle cx="390.8" cy="229.4" r="1.1"/><circle cx="391.6" cy="219.2" r="1.1"/><circle cx="403.6" cy="250.9" r="1.1"/><circle cx="432.5" cy="212.4" r="1.1"/><circle cx="426.4" cy="206.0" r="1.1"/><circle cx="388.3" cy="195.1" r="1.1"/><circle cx="380.7" cy="223.8" r="1.1"/><circle cx="414.6" cy="240.5" r="1.1"/><circle cx="378.8" cy="232.1" r="1.1"/><circle cx="404.3" cy="229.3" r="1.1"/><circle cx="422.9" cy="240.4" r="1.1"/><circle cx="409.6" cy="222.0" r="1.1"/><circle cx="426.0" cy="219.6" r="1.1"/><circle cx="371.7" cy="227.4" r="1.1"/><circle cx="427.9" cy="198.1" r="1.1"/><circle cx="395.4" cy="210.1" r="1.1"/><circle cx="398.2" cy="224.4" r="1.1"/><circle cx="414.5" cy="228.9" r="1.1"/><circle cx="375.2" cy="209.1" r="1.1"/></g><path d="M407.7,234.0 L408.0,235.2 L408.1,236.4 L408.1,237.6 L407.7,238.8 L407.2,239.9 L406.5,240.9 L405.8,241.9 L405.1,242.8 L404.5,243.8 L403.9,244.8 L403.2,245.8 L402.4,246.7 L401.4,247.4 L400.3,247.8 L399.1,248.0 L397.9,248.1 L396.7,248.2 L395.6,248.3 L394.6,248.4 L393.6,248.6 L392.6,248.8 L391.5,248.9 L390.5,248.9 L389.4,248.9 L388.4,248.8 L387.3,248.8 L386.2,248.8 L385.0,248.8 L383.8,248.7 L382.7,248.4 L381.6,247.9 L380.8,247.1 L380.1,246.1 L379.5,245.1 L379.0,244.1 L378.5,243.1 L378.0,242.1 L377.5,241.2 L377.0,240.2 L376.5,239.3 L376.1,238.3 L375.8,237.2 L375.4,236.2 L375.0,235.1 L374.7,234.0 L374.4,232.8 L374.3,231.7 L374.5,230.5 L374.9,229.4 L375.6,228.4 L376.4,227.5 L377.2,226.7 L377.9,225.8 L378.3,224.8 L378.8,223.7 L379.2,222.6 L379.7,221.4 L380.4,220.4 L381.3,219.6 L382.3,218.9 L383.4,218.4 L384.6,218.1 L385.7,217.8 L386.9,217.5 L388.1,217.5 L389.3,217.6 L390.4,217.9 L391.5,218.4 L392.6,219.0 L393.5,219.6 L394.5,220.1 L395.4,220.5 L396.4,220.7 L397.4,220.9 L398.4,221.2 L399.4,221.6 L400.3,222.1 L401.1,222.8 L401.9,223.5 L402.6,224.2 L403.4,225.0 L404.1,225.8 L404.9,226.6 L405.5,227.6 L406.0,228.5 L406.4,229.6 L406.7,230.7 L407.0,231.8 L407.3,232.9Z" fill="#7a5343" stroke="#6a4636" stroke-width="1"/><path d="M389.3,238.0 L389.3,238.6 L389.4,239.1 L389.4,239.7 L389.5,240.2 L389.5,240.8 L389.4,241.4 L389.4,241.9 L389.3,242.5 L389.2,243.1 L389.1,243.6 L389.0,244.2 L388.8,244.7 L388.6,245.3 L388.4,245.8 L388.2,246.3 L387.9,246.8 L387.7,247.3 L387.4,247.8 L387.0,248.3 L386.7,248.7 L386.4,249.2 L386.0,249.6 L385.6,250.0 L385.2,250.4 L384.8,250.8 L384.3,251.2 L383.9,251.5 L383.5,251.9 L383.0,252.2 L382.6,252.5 L382.1,252.8 L381.6,253.1 L381.1,253.3 L380.7,253.6 L380.2,253.9 L379.7,254.1 L379.2,254.3 L378.7,254.6 L378.3,254.8 L377.8,255.0 L377.3,255.2 L376.8,255.4 L376.3,255.6 L375.8,255.7 L375.3,255.9 L374.7,256.1 L374.2,256.2 L373.7,256.3 L373.2,256.5 L372.7,256.6 L372.1,256.6 L371.6,256.7 L371.1,256.8 L370.5,256.8 L370.0,256.8 L369.5,256.9 L368.9,256.8 L368.4,256.8 L367.8,256.8 L367.3,256.7 L366.8,256.6 L366.2,256.5 L365.7,256.4 L365.2,256.3 L364.7,256.1 L364.2,255.9 L363.7,255.7 L363.2,255.5 L362.7,255.3 L362.2,255.1 L361.7,254.8 L361.3,254.6 L360.8,254.3 L360.4,254.0 L359.9,253.7 L359.5,253.4 L359.0,253.1 L358.6,252.8 L358.2,252.4 L357.8,252.1 L357.4,251.8 L357.0,251.4 L356.6,251.0 L356.2,250.7 L355.8,250.3 L355.5,249.9 L355.1,249.5 L354.8,249.1 L354.4,248.6 L354.1,248.2 L353.8,247.8 L353.5,247.3 L353.2,246.9 L352.9,246.4 L352.7,245.9 L352.4,245.4 L352.2,244.9 L352.0,244.4 L351.8,243.9 L351.6,243.4 L351.5,242.9 L351.4,242.3 L351.3,241.8 L351.2,241.3 L351.1,240.7 L351.0,240.2 L351.0,239.6 L351.0,239.1 L351.0,238.5 L351.0,238.0 L351.1,237.5 L351.1,236.9 L351.2,236.4 L351.3,235.9 L351.4,235.3 L351.5,234.8 L351.6,234.3 L351.7,233.7 L351.9,233.2 L352.0,232.7 L352.2,232.2 L352.3,231.7 L352.5,231.2 L352.7,230.7 L352.9,230.2 L353.1,229.7 L353.3,229.2 L353.5,228.7 L353.7,228.2 L354.0,227.7 L354.2,227.2 L354.5,226.7 L354.8,226.3 L355.1,225.8 L355.4,225.3 L355.7,224.9 L356.0,224.4 L356.4,224.0 L356.7,223.6 L357.1,223.1 L357.5,222.7 L357.9,222.4 L358.4,222.0 L358.8,221.6 L359.3,221.3 L359.7,221.0 L360.2,220.7 L360.7,220.4 L361.2,220.2 L361.8,220.0 L362.3,219.8 L362.8,219.6 L363.4,219.4 L363.9,219.3 L364.5,219.2 L365.0,219.1 L365.6,219.0 L366.1,219.0 L366.7,218.9 L367.3,218.9 L367.8,218.9 L368.4,218.9 L368.9,219.0 L369.5,219.0 L370.0,219.1 L370.5,219.2 L371.1,219.2 L371.6,219.3 L372.1,219.4 L372.7,219.6 L373.2,219.7 L373.7,219.8 L374.2,220.0 L374.7,220.1 L375.2,220.3 L375.7,220.5 L376.2,220.6 L376.7,220.8 L377.2,221.0 L377.7,221.2 L378.1,221.5 L378.6,221.7 L379.1,222.0 L379.5,222.2 L380.0,222.5 L380.4,222.8 L380.8,223.1 L381.3,223.4 L381.7,223.7 L382.1,224.1 L382.5,224.4 L382.8,224.8 L383.2,225.2 L383.6,225.5 L383.9,225.9 L384.3,226.3 L384.6,226.8 L384.9,227.2 L385.2,227.6 L385.5,228.0 L385.8,228.5 L386.0,228.9 L386.3,229.4 L386.5,229.9 L386.8,230.3 L387.0,230.8 L387.2,231.3 L387.4,231.8 L387.6,232.3 L387.8,232.8 L388.0,233.3 L388.2,233.8 L388.4,234.3 L388.5,234.8 L388.7,235.3 L388.8,235.8 L389.0,236.4 L389.1,236.9 L389.2,237.5Z" fill="#8c735c"/><path d="M406.6,234.0 L407.2,235.1 L407.4,236.3 L407.1,237.4 L406.2,238.4 L405.3,239.2 L404.6,240.1 L404.4,241.1 L404.4,242.4 L404.4,243.7 L403.9,244.9 L403.0,245.6 L401.7,245.9 L400.4,246.1 L399.3,246.2 L398.2,246.5 L397.3,246.8 L396.3,247.0 L395.2,247.1 L394.3,247.1 L393.4,247.5 L392.5,248.1 L391.5,248.9 L390.5,249.4 L389.4,249.5 L388.3,249.1 L387.4,248.4 L386.5,247.7 L385.6,247.3 L384.6,247.1 L383.6,246.8 L382.7,246.3 L381.9,245.6 L381.2,244.9 L380.4,244.3 L379.4,243.7 L378.5,243.1 L377.8,242.2 L377.6,241.1 L377.8,239.9 L378.0,238.7 L377.9,237.8 L377.3,236.9 L376.3,236.1 L375.4,235.1 L374.9,234.0 L375.0,232.9 L375.5,231.8 L376.2,230.8 L376.7,229.9 L377.1,228.9 L377.4,228.0 L377.9,227.0 L378.4,226.1 L378.8,225.2 L379.2,224.1 L379.6,223.0 L380.1,221.9 L380.9,221.1 L382.0,220.7 L383.3,220.7 L384.5,220.6 L385.5,220.3 L386.3,219.6 L387.2,218.8 L388.2,218.1 L389.3,218.0 L390.4,218.2 L391.5,218.7 L392.6,219.2 L393.6,219.5 L394.5,219.9 L395.4,220.6 L396.1,221.5 L396.6,222.4 L397.3,223.2 L398.1,223.5 L399.2,223.5 L400.5,223.4 L401.8,223.6 L402.7,224.2 L403.3,225.1 L403.6,226.1 L404.0,227.1 L404.5,228.0 L405.0,228.9 L405.3,229.9 L405.5,230.9 L405.7,231.9 L406.1,232.9Z" fill="#7a5343"/><path d="M319.4,172.0 L317.9,173.0 L317.2,174.0 L316.9,174.9 L316.9,175.9 L317.0,176.9 L317.0,177.9 L317.1,178.9 L317.3,180.0 L317.9,181.2 L318.9,182.5 L317.1,183.1 L316.4,183.9 L316.1,184.9 L315.9,185.9 L315.8,187.0 L315.6,188.0 L315.3,189.1 L315.0,190.0 L314.4,190.9 L313.7,191.7 L312.9,192.4 L312.0,193.1 L311.1,193.7 L310.2,194.3 L309.4,194.9 L308.7,195.6 L308.1,196.4 L307.5,197.3 L307.0,198.2 L306.4,199.1 L305.8,199.9 L305.1,200.7 L304.3,201.4 L303.5,201.9 L302.6,202.4 L301.6,202.9 L300.7,203.3 L299.8,203.7 L298.8,204.2 L297.9,204.7 L297.0,205.2 L296.1,205.6 L295.1,206.0 L294.2,206.4 L293.3,207.0 L292.5,208.2 L291.1,206.8 L289.9,205.9 L288.8,205.3 L287.7,205.0 L286.8,204.9 L285.8,204.9 L284.9,205.1 L284.0,205.4 L283.0,205.8 L282.0,206.1 L281.0,206.4 L280.0,206.6 L279.0,206.7 L278.0,206.6 L277.1,206.3 L276.1,206.0 L275.2,205.7 L274.2,205.4 L273.3,205.0 L272.4,204.7 L271.4,204.4 L270.5,204.0 L269.6,203.6 L268.7,203.2 L267.9,202.8 L266.8,202.6 L265.4,203.1 L265.2,201.5 L264.9,200.2 L264.2,199.4 L263.5,198.9 L262.5,198.6 L261.4,198.4 L260.2,198.4 L258.5,198.7 L257.6,198.1 L257.4,196.9 L256.9,196.0 L256.5,195.0 L256.1,194.0 L255.9,192.9 L255.7,191.9 L255.4,190.9 L255.1,189.9 L254.7,189.1 L254.1,188.3 L253.4,187.6 L252.6,186.9 L251.8,186.2 L251.1,185.5 L250.3,184.7 L249.7,183.9 L249.2,183.0 L248.7,182.1 L248.3,181.1 L247.9,180.2 L247.5,179.2 L247.2,178.2 L246.8,177.2 L246.5,176.2 L246.2,175.2 L246.0,174.1 L246.0,173.1 L246.2,172.0 L246.4,171.0 L246.7,169.9 L247.1,168.9 L247.4,167.9 L247.6,166.9 L247.7,165.9 L247.7,164.8 L247.5,163.7 L247.3,162.6 L246.9,161.4 L246.1,160.0 L244.4,158.2 L246.1,157.6 L247.7,157.1 L248.8,156.4 L249.8,155.7 L250.7,154.9 L251.6,154.2 L252.4,153.5 L253.2,152.8 L253.9,152.1 L254.6,151.3 L255.3,150.6 L256.0,149.9 L256.8,149.3 L257.6,148.7 L258.4,148.1 L259.2,147.5 L259.9,146.8 L260.1,145.6 L259.5,143.2 L260.4,142.7 L261.6,142.5 L263.2,143.0 L264.1,142.6 L264.9,141.9 L265.6,141.2 L266.4,140.6 L267.3,140.1 L268.3,139.7 L269.3,139.5 L270.3,139.4 L271.4,139.4 L272.4,139.3 L273.4,139.3 L274.4,139.1 L275.3,138.9 L276.3,138.7 L277.2,138.5 L278.2,138.3 L279.1,138.2 L280.1,138.1 L281.1,138.2 L282.0,138.3 L283.0,138.4 L284.0,138.4 L284.9,138.4 L285.9,138.2 L286.9,138.0 L287.9,137.8 L289.0,137.6 L290.0,137.4 L291.1,137.3 L292.1,137.3 L293.2,137.1 L294.6,136.4 L294.9,138.5 L295.5,139.9 L296.2,140.8 L296.9,141.6 L297.7,142.2 L298.5,142.6 L299.4,142.9 L300.4,143.1 L301.4,143.3 L302.5,143.5 L303.5,143.8 L304.5,144.1 L305.4,144.6 L306.3,145.2 L307.1,145.8 L307.8,146.4 L308.6,147.1 L309.3,147.8 L310.1,148.6 L310.8,149.3 L311.5,150.0 L312.1,150.9 L312.6,151.7 L313.1,152.7 L313.4,153.7 L313.7,154.7 L313.9,155.7 L314.2,156.7 L314.5,157.6 L315.1,158.5 L315.9,159.2 L317.2,159.8 L319.5,160.1 L318.7,161.5 L318.6,162.6 L318.7,163.7 L318.9,164.7 L318.9,165.8 L318.7,166.9 L318.4,167.9 L318.1,169.0 L317.9,170.0 L318.1,171.0Z" fill="#6e60b8" stroke="#30256f" stroke-width="1.6" stroke-linejoin="round"/><g fill="#5b4ea5"><circle cx="298.9" cy="185.6" r="1.1"/><circle cx="272.2" cy="179.3" r="1.1"/><circle cx="287.5" cy="148.6" r="1.1"/><circle cx="268.3" cy="188.7" r="1.1"/><circle cx="280.3" cy="188.8" r="1.1"/><circle cx="308.5" cy="179.5" r="1.1"/><circle cx="292.5" cy="193.6" r="1.1"/><circle cx="291.5" cy="180.5" r="1.1"/><circle cx="282.9" cy="171.9" r="1.1"/><circle cx="305.3" cy="190.6" r="1.1"/><circle cx="298.9" cy="155.8" r="1.1"/><circle cx="259.4" cy="168.7" r="1.1"/><circle cx="310.7" cy="162.8" r="1.1"/><circle cx="284.4" cy="159.9" r="1.1"/><circle cx="260.8" cy="153.0" r="1.1"/><circle cx="255.1" cy="179.2" r="1.1"/><circle cx="297.7" cy="146.8" r="1.1"/><circle cx="280.3" cy="199.7" r="1.1"/><circle cx="267.6" cy="160.8" r="1.1"/><circle cx="278.1" cy="151.1" r="1.1"/><circle cx="271.4" cy="145.3" r="1.1"/><circle cx="295.7" cy="163.4" r="1.1"/><circle cx="277.2" cy="163.9" r="1.1"/><circle cx="258.8" cy="190.0" r="1.1"/><circle cx="295.9" cy="173.0" r="1.1"/><circle cx="311.1" cy="170.7" r="1.1"/><circle cx="278.9" cy="143.1" r="1.1"/><circle cx="263.7" cy="175.9" r="1.1"/><circle cx="282.4" cy="181.3" r="1.1"/></g><path d="M306.0,176.0 L306.3,177.2 L306.5,178.5 L306.5,179.7 L306.1,180.9 L305.4,182.0 L304.7,183.0 L303.8,183.9 L303.0,184.7 L302.2,185.6 L301.4,186.4 L300.6,187.2 L299.7,187.9 L298.9,188.7 L298.0,189.4 L297.2,190.1 L296.3,190.9 L295.4,191.8 L294.4,192.5 L293.3,193.1 L292.1,193.4 L290.8,193.5 L289.6,193.2 L288.4,192.8 L287.3,192.4 L286.2,191.9 L285.1,191.6 L284.0,191.3 L282.9,191.0 L281.9,190.6 L280.9,190.1 L279.9,189.5 L279.0,188.8 L278.0,188.2 L277.1,187.5 L276.0,186.9 L274.9,186.2 L273.9,185.4 L273.1,184.5 L272.5,183.4 L272.1,182.2 L271.9,180.9 L271.8,179.7 L271.6,178.4 L271.4,177.2 L271.1,176.0 L270.9,174.7 L270.9,173.5 L271.1,172.2 L271.5,171.0 L272.2,169.9 L272.9,168.9 L273.7,167.9 L274.5,167.0 L275.3,166.0 L276.1,165.1 L276.9,164.3 L277.8,163.6 L278.8,162.9 L279.8,162.4 L280.9,162.0 L282.0,161.5 L283.0,161.2 L284.1,160.8 L285.2,160.6 L286.3,160.5 L287.4,160.6 L288.5,160.8 L289.5,161.0 L290.6,161.1 L291.6,161.0 L292.8,160.8 L294.0,160.5 L295.4,160.2 L296.7,160.2 L298.0,160.4 L299.2,160.8 L300.4,161.5 L301.4,162.2 L302.3,163.1 L303.2,164.1 L304.0,165.1 L304.7,166.2 L305.2,167.4 L305.4,168.7 L305.4,170.0 L305.3,171.3 L305.3,172.5 L305.4,173.7 L305.6,174.8Z" fill="#5a4ea6" stroke="#4d4296" stroke-width="1"/><path d="M391.4,176.0 L391.7,177.3 L391.9,178.6 L391.9,179.9 L391.9,181.3 L391.7,182.6 L391.7,183.9 L391.7,185.3 L391.7,186.6 L391.7,188.0 L391.4,189.3 L390.9,190.6 L390.0,191.7 L388.9,192.7 L387.8,193.6 L386.7,194.6 L385.8,195.6 L385.3,196.7 L385.0,198.0 L384.9,199.5 L384.8,201.0 L384.6,202.4 L384.1,203.7 L383.4,204.8 L382.5,205.8 L381.4,206.7 L380.4,207.6 L379.4,208.5 L378.5,209.4 L377.7,210.5 L376.9,211.7 L376.5,213.3 L375.1,213.8 L373.1,213.3 L371.5,213.3 L370.1,213.5 L368.9,214.1 L367.9,214.8 L367.0,215.9 L366.2,217.0 L365.2,218.1 L364.2,219.1 L363.0,219.7 L361.7,219.9 L360.3,219.9 L358.8,219.7 L357.4,219.5 L356.1,219.4 L354.8,219.5 L353.5,219.6 L352.3,219.6 L351.0,219.6 L349.7,219.5 L348.5,219.3 L347.2,219.2 L346.0,220.0 L344.7,221.6 L343.5,219.9 L342.2,219.7 L340.9,220.1 L339.6,220.5 L338.3,220.6 L337.0,220.5 L335.8,219.9 L334.7,219.1 L333.6,218.2 L332.6,217.3 L331.5,216.7 L330.3,216.2 L329.1,216.0 L327.8,215.8 L326.5,215.6 L325.3,215.2 L324.1,214.8 L322.9,214.2 L321.8,213.7 L320.5,213.3 L319.1,213.0 L317.6,212.8 L315.8,212.9 L313.1,213.9 L312.7,212.3 L313.1,209.8 L313.1,208.0 L312.9,206.4 L312.7,204.9 L312.2,203.6 L311.4,202.7 L310.4,201.9 L309.2,201.2 L307.9,200.5 L306.7,199.7 L305.8,198.7 L305.3,197.5 L305.0,196.2 L304.9,194.8 L304.8,193.4 L304.7,192.1 L304.3,190.9 L303.5,189.8 L301.7,189.0 L302.9,187.3 L303.4,185.9 L303.5,184.6 L303.5,183.4 L303.3,182.1 L302.9,180.9 L302.3,179.7 L301.6,178.5 L300.9,177.3 L300.4,176.0 L300.2,174.7 L300.5,173.4 L301.1,172.1 L301.9,170.9 L302.7,169.8 L303.3,168.6 L303.6,167.4 L303.6,166.1 L303.4,164.8 L303.0,163.4 L302.8,162.0 L302.8,160.6 L303.0,159.3 L303.4,158.0 L304.0,156.8 L304.5,155.6 L305.0,154.4 L305.5,153.1 L306.1,151.9 L306.7,150.8 L307.6,149.7 L308.7,148.9 L309.9,148.2 L311.2,147.6 L312.4,146.9 L313.4,146.1 L314.1,145.0 L314.7,143.8 L315.1,142.4 L315.6,141.0 L316.3,139.7 L317.2,138.6 L318.3,137.8 L319.5,137.3 L320.8,136.8 L322.0,136.1 L322.9,135.1 L323.3,133.0 L325.0,133.2 L326.6,133.6 L328.0,133.5 L329.4,133.4 L330.8,133.3 L332.1,133.2 L333.4,132.9 L334.5,132.2 L335.4,130.4 L336.5,129.1 L337.9,129.4 L339.2,129.0 L340.6,128.5 L341.9,128.3 L343.3,128.5 L344.7,128.9 L346.0,129.5 L347.3,130.0 L348.6,130.5 L349.9,130.8 L351.2,131.1 L352.4,131.3 L353.7,131.6 L354.9,132.1 L356.1,132.7 L357.2,133.3 L358.4,133.8 L359.6,134.2 L360.8,134.4 L362.2,134.5 L363.5,134.5 L364.8,134.8 L366.0,135.3 L367.0,136.3 L367.7,137.5 L368.4,138.9 L368.9,140.3 L369.6,141.5 L370.5,142.2 L372.0,142.2 L374.8,140.8 L374.8,142.7 L375.2,144.2 L376.0,145.2 L376.9,146.0 L377.7,146.9 L378.5,147.8 L379.3,148.8 L380.2,149.6 L381.1,150.5 L381.9,151.4 L382.7,152.4 L383.3,153.5 L383.7,154.7 L384.0,156.0 L384.2,157.2 L384.7,158.3 L385.3,159.4 L386.4,160.3 L387.7,161.1 L389.3,161.9 L391.2,162.7 L394.1,163.4 L393.9,164.9 L392.6,166.6 L391.8,168.1 L391.3,169.5 L390.9,170.9 L390.7,172.2 L390.7,173.4 L391.0,174.7Z" fill="#f4a5a7" stroke="#b8656c" stroke-width="1.3" stroke-linejoin="round"/><g fill="#e0868a"><circle cx="370.9" cy="169.2" r="1.1"/><circle cx="319.8" cy="157.5" r="1.1"/><circle cx="360.5" cy="211.7" r="1.1"/><circle cx="368.5" cy="150.0" r="1.1"/><circle cx="331.8" cy="180.7" r="1.1"/><circle cx="348.7" cy="179.6" r="1.1"/><circle cx="357.1" cy="157.3" r="1.1"/><circle cx="347.0" cy="152.1" r="1.1"/><circle cx="337.9" cy="151.3" r="1.1"/><circle cx="328.8" cy="157.9" r="1.1"/><circle cx="348.2" cy="161.1" r="1.1"/><circle cx="335.4" cy="200.0" r="1.1"/><circle cx="336.2" cy="188.2" r="1.1"/><circle cx="353.9" cy="137.5" r="1.1"/><circle cx="320.6" cy="201.1" r="1.1"/><circle cx="355.1" cy="169.0" r="1.1"/><circle cx="333.4" cy="165.0" r="1.1"/><circle cx="381.7" cy="161.7" r="1.1"/><circle cx="318.3" cy="192.1" r="1.1"/><circle cx="324.3" cy="177.6" r="1.1"/><circle cx="331.2" cy="144.4" r="1.1"/><circle cx="357.8" cy="147.2" r="1.1"/><circle cx="356.7" cy="204.1" r="1.1"/><circle cx="339.9" cy="208.6" r="1.1"/><circle cx="340.4" cy="175.0" r="1.1"/><circle cx="367.8" cy="194.9" r="1.1"/><circle cx="343.7" cy="138.0" r="1.1"/><circle cx="369.9" cy="202.6" r="1.1"/><circle cx="380.9" cy="191.7" r="1.1"/><circle cx="308.3" cy="167.6" r="1.1"/><circle cx="377.0" cy="177.3" r="1.1"/><circle cx="351.5" cy="213.1" r="1.1"/><circle cx="348.5" cy="195.7" r="1.1"/><circle cx="368.4" cy="184.3" r="1.1"/><circle cx="319.9" cy="169.2" r="1.1"/><circle cx="309.6" cy="179.5" r="1.1"/><circle cx="385.0" cy="179.4" r="1.1"/><circle cx="365.2" cy="158.3" r="1.1"/><circle cx="358.4" cy="186.6" r="1.1"/><circle cx="327.8" cy="208.6" r="1.1"/><circle cx="362.0" cy="178.9" r="1.1"/><circle cx="321.7" cy="149.2" r="1.1"/><circle cx="326.8" cy="188.5" r="1.1"/><circle cx="309.3" cy="190.0" r="1.1"/><circle cx="358.0" cy="196.1" r="1.1"/><circle cx="363.1" cy="168.8" r="1.1"/><circle cx="343.5" cy="167.7" r="1.1"/><circle cx="317.5" cy="183.9" r="1.1"/></g><path d="M374.8,184.0 L374.2,185.4 L373.3,186.7 L372.3,187.9 L371.3,188.9 L370.4,190.0 L369.9,191.1 L369.6,192.3 L369.4,193.6 L369.2,195.0 L368.7,196.4 L368.0,197.5 L367.1,198.5 L366.0,199.3 L364.8,200.0 L363.6,200.6 L362.4,201.2 L361.2,201.8 L360.0,202.3 L358.7,202.8 L357.4,203.2 L356.0,203.4 L354.7,203.7 L353.3,204.1 L351.8,204.5 L350.3,204.9 L348.7,205.1 L347.1,205.2 L345.6,204.8 L344.2,204.1 L343.0,203.1 L342.0,201.9 L341.0,200.6 L340.2,199.3 L339.4,198.1 L338.7,196.9 L338.0,195.6 L337.5,194.3 L337.0,193.0 L336.6,191.7 L336.2,190.5 L335.7,189.2 L335.0,188.0 L334.3,186.8 L333.7,185.4 L333.3,184.0 L333.2,182.5 L333.5,181.1 L334.1,179.8 L334.9,178.5 L335.6,177.3 L336.2,176.1 L336.8,174.8 L337.3,173.5 L337.8,172.3 L338.6,171.1 L339.6,170.1 L340.8,169.4 L342.1,168.7 L343.3,168.2 L344.6,167.6 L345.7,167.0 L346.9,166.4 L348.1,165.8 L349.3,165.3 L350.6,164.9 L352.0,164.8 L353.3,164.6 L354.7,164.5 L356.1,164.4 L357.5,164.3 L358.9,164.3 L360.4,164.4 L361.7,164.8 L363.0,165.5 L364.2,166.3 L365.4,167.2 L366.5,168.0 L367.7,168.8 L368.9,169.6 L370.2,170.4 L371.4,171.4 L372.4,172.5 L373.2,173.8 L373.8,175.2 L374.3,176.6 L374.6,178.1 L374.9,179.6 L375.1,181.0 L375.1,182.5Z" fill="#dc7a7e" stroke="#c0646a" stroke-width="1"/><path d="M289.8,232.0 L289.8,233.2 L289.9,234.5 L290.2,235.7 L290.5,237.0 L290.7,238.3 L290.8,239.6 L290.7,240.9 L290.3,242.1 L289.7,243.2 L289.2,244.4 L289.5,245.8 L288.3,246.7 L285.9,247.2 L284.7,247.9 L284.0,248.9 L283.6,250.0 L283.3,251.1 L282.9,252.3 L282.4,253.4 L281.8,254.4 L281.1,255.3 L280.4,256.2 L279.6,257.2 L278.9,258.1 L278.3,259.2 L277.8,260.3 L277.5,261.7 L277.6,263.5 L277.3,265.0 L275.0,264.4 L273.4,264.3 L272.1,264.5 L270.8,264.7 L269.6,265.0 L268.5,265.5 L267.6,266.2 L266.8,267.1 L266.1,268.1 L265.3,269.2 L264.5,270.3 L263.6,271.2 L262.5,271.9 L261.4,272.4 L260.2,272.8 L259.1,273.1 L257.9,273.4 L256.7,273.7 L255.5,274.0 L254.3,274.3 L253.1,274.5 L251.9,274.5 L250.6,274.3 L249.4,274.0 L248.2,273.6 L247.0,273.3 L245.8,273.6 L244.5,275.2 L243.4,273.8 L242.3,273.3 L241.0,273.4 L239.8,273.7 L238.5,273.9 L237.3,273.8 L236.1,273.3 L235.1,272.7 L234.1,271.8 L233.1,270.9 L232.2,270.0 L231.3,269.2 L230.3,268.6 L229.3,268.1 L228.2,267.7 L227.1,267.2 L226.1,266.7 L225.0,266.2 L224.0,265.6 L223.0,265.0 L222.0,264.4 L220.9,263.9 L219.7,263.5 L218.6,263.0 L217.4,262.5 L216.3,261.8 L215.5,260.9 L214.8,259.9 L214.4,258.7 L214.1,257.4 L213.8,256.1 L213.5,254.9 L212.9,253.9 L212.1,253.1 L210.9,252.4 L209.4,251.8 L207.3,251.5 L205.5,250.9 L206.0,249.3 L206.0,248.0 L205.9,246.7 L205.8,245.4 L205.9,244.1 L206.0,242.8 L206.0,241.5 L205.8,240.3 L205.6,239.2 L205.4,238.0 L205.2,236.8 L205.1,235.6 L205.1,234.4 L205.2,233.2 L205.2,232.0 L205.1,230.8 L204.9,229.6 L204.5,228.4 L204.1,227.1 L203.7,225.8 L203.4,224.5 L203.4,223.2 L203.7,221.9 L204.1,220.7 L204.6,219.5 L204.4,218.2 L203.4,216.5 L206.3,216.2 L207.4,215.3 L207.4,213.9 L206.3,212.0 L208.1,211.5 L208.9,210.5 L209.5,209.4 L210.1,208.3 L210.8,207.2 L211.5,206.2 L212.3,205.3 L213.1,204.3 L213.8,203.2 L214.5,202.2 L215.3,201.2 L216.1,200.2 L217.2,199.5 L218.4,199.0 L219.7,198.7 L221.2,198.5 L222.6,198.4 L224.0,198.3 L225.2,198.1 L226.3,197.6 L227.2,197.0 L228.1,196.2 L229.0,195.4 L229.9,194.6 L230.9,194.0 L232.0,193.6 L233.2,193.3 L234.4,193.1 L235.6,193.0 L236.7,192.9 L237.9,192.7 L239.0,192.5 L240.1,192.2 L241.3,192.1 L242.4,192.0 L243.6,191.9 L244.7,191.6 L245.8,190.4 L247.0,191.0 L248.1,192.7 L249.2,193.2 L250.3,193.1 L251.5,192.6 L252.7,192.0 L254.0,191.4 L255.3,191.0 L256.6,190.9 L257.8,191.0 L258.9,191.5 L259.9,192.2 L260.9,192.9 L261.9,193.6 L263.0,194.3 L264.0,194.7 L265.2,195.1 L266.4,195.3 L267.8,195.2 L269.6,194.6 L270.9,194.8 L271.1,196.7 L271.8,197.8 L272.8,198.6 L273.8,199.2 L275.0,199.7 L276.1,200.2 L277.3,200.8 L278.3,201.6 L279.1,202.5 L279.7,203.6 L280.1,204.9 L280.4,206.2 L280.7,207.6 L281.0,208.8 L281.5,209.8 L282.3,210.7 L283.3,211.5 L284.5,212.2 L285.7,213.0 L286.8,213.8 L287.7,214.8 L288.3,215.9 L288.7,217.1 L288.8,218.4 L288.8,219.7 L288.8,221.0 L288.9,222.3 L289.1,223.5 L289.3,224.7 L289.6,225.9 L289.8,227.1 L289.9,228.3 L289.9,229.5 L289.8,230.8Z" fill="#f4a5a7" stroke="#b8656c" stroke-width="1.3" stroke-linejoin="round"/><g fill="#e0868a"><circle cx="234.4" cy="258.0" r="1.1"/><circle cx="226.3" cy="238.8" r="1.1"/><circle cx="263.1" cy="201.4" r="1.1"/><circle cx="262.5" cy="260.6" r="1.1"/><circle cx="257.2" cy="210.1" r="1.1"/><circle cx="274.1" cy="222.8" r="1.1"/><circle cx="257.1" cy="237.4" r="1.1"/><circle cx="216.4" cy="242.5" r="1.1"/><circle cx="223.3" cy="222.4" r="1.1"/><circle cx="210.9" cy="235.2" r="1.1"/><circle cx="244.3" cy="264.9" r="1.1"/><circle cx="281.8" cy="232.0" r="1.1"/><circle cx="271.2" cy="242.7" r="1.1"/><circle cx="220.7" cy="213.4" r="1.1"/><circle cx="268.5" cy="231.3" r="1.1"/><circle cx="231.2" cy="248.8" r="1.1"/><circle cx="215.5" cy="220.4" r="1.1"/><circle cx="245.9" cy="256.4" r="1.1"/><circle cx="242.3" cy="224.0" r="1.1"/><circle cx="248.0" cy="230.9" r="1.1"/><circle cx="224.0" cy="254.0" r="1.1"/><circle cx="237.4" cy="213.3" r="1.1"/><circle cx="242.7" cy="239.3" r="1.1"/><circle cx="276.8" cy="213.1" r="1.1"/><circle cx="240.0" cy="198.0" r="1.1"/><circle cx="252.9" cy="268.2" r="1.1"/><circle cx="263.4" cy="224.8" r="1.1"/><circle cx="270.1" cy="251.2" r="1.1"/><circle cx="225.4" cy="261.8" r="1.1"/><circle cx="254.9" cy="196.1" r="1.1"/><circle cx="254.2" cy="258.2" r="1.1"/><circle cx="246.2" cy="204.0" r="1.1"/><circle cx="233.2" cy="223.4" r="1.1"/><circle cx="257.8" cy="247.8" r="1.1"/><circle cx="282.2" cy="221.0" r="1.1"/><circle cx="222.2" cy="230.7" r="1.1"/><circle cx="228.2" cy="204.9" r="1.1"/><circle cx="234.1" cy="234.1" r="1.1"/><circle cx="279.2" cy="249.9" r="1.1"/><circle cx="252.5" cy="224.3" r="1.1"/><circle cx="269.3" cy="206.8" r="1.1"/><circle cx="228.8" cy="214.1" r="1.1"/></g><path d="M268.7,240.0 L268.9,241.2 L269.1,242.4 L269.2,243.7 L269.2,244.9 L268.9,246.1 L268.3,247.2 L267.4,248.2 L266.3,248.9 L265.2,249.6 L264.1,250.1 L263.1,250.7 L262.2,251.3 L261.4,252.0 L260.5,252.6 L259.7,253.3 L258.8,253.9 L257.9,254.6 L257.0,255.3 L256.0,256.1 L255.0,256.8 L253.8,257.5 L252.6,258.0 L251.4,258.2 L250.1,258.0 L248.9,257.7 L247.7,257.2 L246.6,256.7 L245.4,256.3 L244.2,256.0 L243.0,255.7 L241.7,255.3 L240.5,254.7 L239.5,253.9 L238.7,252.8 L238.1,251.7 L237.5,250.5 L237.1,249.3 L236.6,248.2 L236.2,247.1 L235.8,245.9 L235.6,244.7 L235.6,243.5 L235.8,242.3 L236.0,241.1 L236.3,240.0 L236.5,238.9 L236.7,237.8 L236.7,236.8 L236.8,235.6 L237.0,234.5 L237.3,233.5 L237.8,232.5 L238.4,231.5 L239.0,230.6 L239.6,229.6 L240.2,228.6 L240.8,227.6 L241.5,226.6 L242.3,225.6 L243.2,224.8 L244.3,224.2 L245.4,223.7 L246.6,223.3 L247.7,222.9 L248.9,222.6 L250.1,222.3 L251.4,222.3 L252.6,222.4 L253.8,222.8 L254.9,223.3 L256.0,223.8 L257.1,224.3 L258.2,224.5 L259.5,224.7 L260.8,224.8 L262.0,225.1 L263.2,225.6 L264.2,226.4 L265.0,227.5 L265.5,228.6 L265.9,229.9 L266.3,231.0 L266.7,232.2 L267.2,233.3 L267.6,234.3 L268.0,235.4 L268.3,236.5 L268.5,237.7 L268.6,238.8Z" fill="#dc7a7e" stroke="#c0646a" stroke-width="1"/><path d="M325.7,218.0 L325.4,218.7 L325.2,219.4 L325.0,220.1 L324.9,220.9 L324.7,221.6 L324.6,222.3 L324.5,223.0 L324.4,223.7 L324.2,224.4 L324.0,225.1 L323.8,225.7 L323.6,226.4 L323.3,227.1 L323.0,227.7 L322.7,228.3 L322.3,229.0 L322.1,229.7 L322.1,230.5 L322.6,231.6 L321.9,232.1 L320.9,232.3 L320.4,232.8 L320.0,233.4 L319.6,234.1 L319.3,234.7 L319.0,235.4 L318.6,236.1 L318.2,236.7 L317.7,237.3 L317.2,237.8 L316.6,238.3 L316.0,238.8 L315.4,239.2 L314.7,239.5 L314.0,239.8 L313.3,240.1 L312.6,240.3 L311.9,240.5 L311.1,240.6 L310.4,240.8 L309.7,241.0 L309.1,241.3 L308.4,241.5 L307.7,241.8 L307.1,242.1 L306.4,242.4 L305.8,242.8 L305.1,243.1 L304.4,243.4 L303.7,243.7 L303.0,244.0 L302.2,244.2 L301.5,244.4 L300.8,244.5 L300.0,244.7 L299.2,244.7 L298.5,244.8 L297.7,244.8 L296.9,244.8 L296.1,244.8 L295.4,244.8 L294.6,244.8 L293.7,244.9 L292.8,245.6 L291.8,245.8 L291.4,244.5 L290.8,243.8 L290.1,243.4 L289.5,242.9 L288.8,242.5 L288.2,242.0 L287.6,241.4 L287.1,240.9 L286.6,240.3 L286.1,239.7 L285.6,239.1 L285.1,238.6 L284.6,238.0 L284.0,237.5 L283.5,237.1 L282.9,236.6 L282.3,236.2 L281.6,235.9 L280.8,235.6 L279.8,235.5 L278.6,235.5 L278.7,234.4 L278.4,233.7 L277.9,233.1 L277.5,232.5 L277.1,231.8 L276.7,231.2 L276.4,230.5 L276.2,229.7 L276.0,229.0 L275.9,228.2 L275.8,227.4 L275.7,226.7 L275.6,225.9 L275.5,225.2 L275.3,224.5 L275.2,223.8 L275.0,223.1 L274.7,222.4 L274.5,221.7 L274.1,221.0 L273.6,220.3 L272.7,219.6 L272.8,218.8 L273.2,218.0 L273.3,217.2 L273.3,216.5 L273.3,215.7 L273.4,215.0 L273.6,214.2 L273.7,213.5 L274.0,212.7 L274.2,212.0 L274.5,211.3 L274.7,210.6 L275.0,209.9 L275.3,209.2 L275.6,208.5 L275.9,207.8 L276.2,207.1 L276.5,206.4 L276.8,205.8 L277.2,205.1 L277.6,204.5 L278.1,203.9 L278.6,203.4 L279.1,202.8 L279.7,202.3 L280.3,201.9 L280.9,201.5 L281.6,201.1 L282.2,200.7 L282.8,200.3 L283.4,199.9 L283.9,199.4 L284.4,198.9 L284.7,198.1 L284.6,196.7 L285.6,197.0 L286.4,196.8 L287.0,196.4 L287.5,195.9 L288.1,195.4 L288.6,194.9 L289.2,194.4 L289.9,194.0 L290.5,193.6 L291.2,193.3 L291.9,193.1 L292.6,192.9 L293.4,192.7 L294.1,192.5 L294.8,192.2 L295.4,191.5 L296.0,190.1 L297.0,191.7 L297.8,192.3 L298.5,192.5 L299.3,192.6 L300.0,192.7 L300.7,192.7 L301.4,192.8 L302.2,192.8 L302.9,192.9 L303.6,193.0 L304.3,193.1 L305.0,193.2 L305.7,193.4 L306.4,193.5 L307.1,193.7 L307.9,193.8 L308.6,194.0 L309.3,194.1 L310.1,194.2 L310.8,194.3 L311.6,194.4 L312.4,194.5 L313.2,194.7 L314.0,194.8 L314.8,195.0 L315.7,195.1 L316.6,195.1 L318.0,194.7 L318.9,194.9 L318.8,196.3 L319.1,197.2 L319.5,197.9 L319.9,198.7 L320.3,199.4 L320.7,200.1 L321.0,200.8 L321.3,201.6 L321.6,202.3 L321.9,203.0 L322.2,203.7 L322.6,204.4 L322.9,205.1 L323.3,205.7 L323.7,206.3 L324.2,207.0 L324.6,207.6 L325.0,208.3 L325.4,208.9 L325.8,209.6 L326.0,210.4 L326.3,211.1 L326.4,211.9 L326.5,212.6 L326.5,213.4 L326.5,214.2 L326.6,214.9 L327.0,215.7 L327.3,216.4 L326.2,217.3Z" fill="#f4a5a7" stroke="#b8656c" stroke-width="1.3" stroke-linejoin="round"/><g fill="#e0868a"><circle cx="300.1" cy="221.0" r="1.1"/><circle cx="295.3" cy="210.9" r="1.1"/><circle cx="313.0" cy="202.1" r="1.1"/><circle cx="306.5" cy="228.6" r="1.1"/><circle cx="314.9" cy="230.3" r="1.1"/><circle cx="286.9" cy="216.1" r="1.1"/><circle cx="295.4" cy="201.8" r="1.1"/><circle cx="304.2" cy="238.4" r="1.1"/><circle cx="291.0" cy="226.8" r="1.1"/><circle cx="290.5" cy="236.8" r="1.1"/><circle cx="282.2" cy="203.9" r="1.1"/><circle cx="308.8" cy="218.7" r="1.1"/><circle cx="320.8" cy="217.6" r="1.1"/><circle cx="305.4" cy="198.9" r="1.1"/><circle cx="314.5" cy="212.2" r="1.1"/><circle cx="279.8" cy="222.7" r="1.1"/></g><path d="M318.6,222.0 L318.6,222.7 L318.6,223.5 L318.7,224.3 L318.7,225.1 L318.6,225.9 L318.4,226.6 L318.0,227.3 L317.5,228.0 L317.0,228.5 L316.5,229.1 L315.9,229.7 L315.4,230.2 L314.8,230.8 L314.2,231.2 L313.5,231.6 L312.8,231.8 L312.0,232.0 L311.3,232.2 L310.6,232.4 L309.9,232.7 L309.2,233.1 L308.4,233.5 L307.6,233.8 L306.7,234.0 L305.9,233.9 L305.1,233.6 L304.4,233.2 L303.7,232.7 L303.0,232.2 L302.4,231.6 L301.9,231.1 L301.3,230.6 L300.8,230.0 L300.3,229.4 L299.9,228.8 L299.4,228.2 L299.0,227.6 L298.5,227.1 L298.0,226.4 L297.7,225.8 L297.4,225.0 L297.4,224.3 L297.5,223.5 L297.7,222.7 L298.0,222.0 L298.3,221.3 L298.4,220.7 L298.5,220.0 L298.5,219.3 L298.5,218.6 L298.6,217.8 L298.7,217.1 L298.9,216.3 L299.1,215.6 L299.4,214.7 L299.6,213.9 L300.0,213.1 L300.4,212.3 L301.0,211.6 L301.7,211.1 L302.6,210.9 L303.5,210.8 L304.4,210.8 L305.2,210.9 L306.0,210.9 L306.8,210.8 L307.6,210.8 L308.4,210.7 L309.2,210.7 L310.0,210.9 L310.7,211.2 L311.4,211.5 L312.1,211.9 L312.7,212.3 L313.3,212.8 L314.0,213.2 L314.5,213.6 L315.1,214.1 L315.5,214.7 L316.0,215.3 L316.4,215.9 L316.8,216.5 L317.2,217.1 L317.7,217.7 L318.1,218.3 L318.4,219.0 L318.6,219.7 L318.7,220.5 L318.7,221.3Z" fill="#dc7a7e" stroke="#c0646a" stroke-width="1"/><path d="M292.8,283.0 L293.2,284.0 L293.6,285.1 L293.9,286.2 L294.0,287.2 L294.0,288.3 L293.8,289.4 L293.5,290.4 L293.3,291.4 L293.4,292.6 L294.6,294.0 L293.4,294.8 L291.7,295.4 L290.7,296.1 L290.1,297.0 L289.5,297.9 L289.0,298.7 L288.3,299.5 L287.7,300.3 L287.0,301.1 L286.4,301.9 L285.8,302.7 L285.3,303.6 L284.9,304.5 L284.5,305.5 L284.1,306.5 L283.6,307.4 L283.1,308.3 L282.4,309.2 L281.6,309.8 L280.7,310.3 L279.6,310.7 L278.5,310.9 L277.4,311.1 L276.4,311.4 L275.4,311.7 L274.6,312.1 L273.8,312.8 L273.2,313.7 L272.7,315.0 L272.6,317.1 L272.2,318.9 L270.6,317.8 L269.4,317.8 L268.4,318.0 L267.3,318.2 L266.3,318.5 L265.3,318.6 L264.3,318.8 L263.2,319.0 L262.2,319.2 L261.2,319.4 L260.1,319.5 L259.1,319.6 L258.0,319.6 L257.0,319.4 L256.0,319.1 L255.0,318.7 L254.0,318.2 L253.0,317.8 L252.1,317.4 L251.1,317.1 L250.1,317.0 L249.1,317.0 L248.1,317.0 L247.0,317.1 L245.9,317.2 L244.8,317.1 L243.8,316.9 L242.8,316.6 L241.8,316.3 L240.7,316.1 L239.3,316.5 L238.7,315.4 L238.5,313.7 L237.9,312.7 L237.1,312.0 L236.3,311.5 L235.2,311.2 L233.9,311.3 L232.2,311.6 L232.6,309.6 L232.4,308.3 L231.9,307.4 L231.4,306.5 L230.9,305.6 L230.2,304.9 L229.5,304.2 L228.6,303.6 L227.7,303.1 L226.6,302.5 L225.6,302.0 L224.5,301.3 L223.6,300.6 L222.8,299.8 L222.2,298.9 L221.6,298.0 L220.8,297.1 L219.2,296.5 L219.2,295.3 L220.5,293.7 L220.9,292.5 L220.9,291.4 L220.8,290.3 L220.6,289.3 L220.4,288.3 L220.2,287.2 L220.2,286.2 L220.2,285.1 L220.2,284.1 L220.3,283.0 L220.4,282.0 L220.4,280.9 L220.3,279.9 L220.2,278.8 L220.1,277.7 L220.0,276.6 L219.9,275.5 L220.0,274.4 L220.3,273.4 L220.8,272.4 L221.4,271.4 L222.0,270.5 L222.5,269.6 L222.4,268.4 L223.5,267.7 L225.0,267.3 L225.8,266.5 L226.3,265.7 L226.6,264.7 L226.8,263.6 L227.0,262.5 L227.3,261.4 L227.7,260.4 L228.3,259.5 L229.0,258.7 L229.8,258.0 L230.7,257.4 L231.6,256.9 L232.6,256.4 L233.5,255.9 L234.4,255.3 L235.3,254.8 L236.1,254.3 L237.1,253.8 L238.0,253.4 L239.0,253.1 L239.9,252.8 L240.9,252.6 L241.9,252.3 L242.9,252.1 L243.8,251.7 L244.7,251.3 L245.5,250.8 L246.3,250.2 L247.2,249.5 L248.1,249.0 L249.0,248.5 L249.9,248.2 L251.0,248.1 L252.0,248.1 L253.0,248.1 L254.0,248.0 L254.9,247.1 L256.0,247.3 L257.0,248.9 L258.0,249.4 L258.9,249.6 L259.9,249.5 L260.9,249.3 L261.9,249.1 L262.9,248.9 L263.9,248.8 L264.9,248.8 L266.0,248.9 L267.0,249.0 L268.0,249.2 L269.0,249.3 L270.1,249.3 L271.2,249.4 L272.4,249.4 L273.5,249.4 L274.6,249.6 L275.8,249.8 L276.9,250.1 L278.0,250.3 L279.5,250.1 L281.6,249.1 L280.7,252.2 L280.7,254.0 L281.1,255.2 L281.6,256.2 L282.3,257.0 L283.1,257.7 L283.9,258.3 L284.8,258.9 L285.6,259.6 L286.4,260.3 L287.2,261.1 L287.9,261.9 L288.7,262.6 L289.8,263.2 L291.8,263.4 L290.8,265.2 L290.7,266.4 L291.0,267.5 L291.5,268.4 L292.2,269.3 L293.3,270.1 L295.1,270.6 L293.9,272.2 L293.2,273.5 L292.8,274.7 L292.5,275.8 L292.1,276.9 L291.9,278.0 L291.8,279.0 L291.8,280.0 L292.0,281.0 L292.3,282.0Z" fill="#6e60b8" stroke="#30256f" stroke-width="1.6" stroke-linejoin="round"/><g fill="#5b4ea5"><circle cx="251.5" cy="290.8" r="1.1"/><circle cx="275.5" cy="284.6" r="1.1"/><circle cx="265.4" cy="271.7" r="1.1"/><circle cx="255.5" cy="303.2" r="1.1"/><circle cx="277.8" cy="276.0" r="1.1"/><circle cx="233.7" cy="281.2" r="1.1"/><circle cx="275.6" cy="262.7" r="1.1"/><circle cx="274.0" cy="301.0" r="1.1"/><circle cx="228.9" cy="288.3" r="1.1"/><circle cx="279.4" cy="294.2" r="1.1"/><circle cx="261.7" cy="261.6" r="1.1"/><circle cx="253.1" cy="278.9" r="1.1"/><circle cx="266.9" cy="290.5" r="1.1"/><circle cx="267.2" cy="255.0" r="1.1"/><circle cx="254.6" cy="253.0" r="1.1"/><circle cx="266.8" cy="279.8" r="1.1"/><circle cx="243.1" cy="267.4" r="1.1"/><circle cx="285.0" cy="286.6" r="1.1"/><circle cx="243.2" cy="298.5" r="1.1"/><circle cx="252.7" cy="270.5" r="1.1"/><circle cx="266.8" cy="305.5" r="1.1"/><circle cx="244.3" cy="277.3" r="1.1"/><circle cx="250.4" cy="312.5" r="1.1"/><circle cx="242.0" cy="286.0" r="1.1"/><circle cx="241.7" cy="256.7" r="1.1"/><circle cx="231.9" cy="272.9" r="1.1"/><circle cx="235.0" cy="261.8" r="1.1"/><circle cx="235.4" cy="296.4" r="1.1"/><circle cx="284.2" cy="266.8" r="1.1"/><circle cx="258.9" cy="312.9" r="1.1"/></g><path d="M276.9,289.0 L276.7,290.2 L276.5,291.3 L276.4,292.5 L276.3,293.7 L276.2,294.9 L275.9,296.1 L275.4,297.2 L274.7,298.2 L273.9,299.1 L273.1,300.0 L272.3,300.8 L271.5,301.8 L270.7,302.7 L270.0,303.8 L269.1,304.7 L268.0,305.5 L266.9,306.1 L265.6,306.4 L264.4,306.5 L263.1,306.4 L261.8,306.3 L260.6,306.0 L259.4,305.7 L258.3,305.3 L257.2,304.8 L256.2,304.3 L255.2,303.8 L254.2,303.3 L253.2,303.0 L252.1,302.7 L250.9,302.4 L249.8,302.1 L248.8,301.5 L247.9,300.7 L247.2,299.7 L246.7,298.6 L246.3,297.5 L246.0,296.5 L245.5,295.4 L245.0,294.4 L244.5,293.4 L244.0,292.4 L243.6,291.3 L243.2,290.2 L242.9,289.0 L242.7,287.8 L242.4,286.5 L242.1,285.2 L241.8,283.8 L241.8,282.4 L242.0,281.0 L242.7,279.8 L243.6,278.8 L244.9,278.0 L246.2,277.4 L247.5,276.9 L248.7,276.4 L249.8,275.9 L250.8,275.3 L251.7,274.7 L252.8,274.2 L253.8,273.7 L254.9,273.4 L256.0,273.1 L257.2,272.9 L258.3,272.7 L259.4,272.6 L260.6,272.5 L261.7,272.6 L262.8,272.9 L263.9,273.3 L264.9,273.8 L266.0,274.3 L267.0,274.7 L268.1,275.0 L269.2,275.3 L270.4,275.7 L271.4,276.3 L272.4,277.0 L273.2,277.9 L273.9,278.9 L274.5,280.0 L275.1,281.0 L275.6,282.0 L276.2,283.1 L276.7,284.2 L277.1,285.4 L277.2,286.6 L277.2,287.8Z" fill="#5a4ea6" stroke="#4d4296" stroke-width="1"/><path d="M417.8,297.0 L418.2,298.2 L419.3,299.5 L419.1,300.7 L416.0,301.6 L414.3,302.5 L413.3,303.4 L412.7,304.4 L412.4,305.5 L412.4,306.6 L412.5,307.7 L412.7,308.9 L412.7,310.1 L412.6,311.2 L412.3,312.3 L412.1,313.5 L412.3,314.9 L412.8,316.4 L410.5,316.5 L409.3,317.1 L408.4,317.8 L407.7,318.7 L407.0,319.6 L406.3,320.4 L405.5,321.1 L404.7,321.9 L403.9,322.6 L403.2,323.4 L402.6,324.3 L402.1,325.4 L401.6,326.6 L401.2,327.8 L400.6,328.9 L399.9,329.9 L399.0,330.6 L397.9,331.1 L396.7,331.3 L395.5,331.6 L394.5,332.1 L393.9,333.5 L392.4,332.9 L391.0,332.6 L390.0,333.0 L389.1,333.7 L388.2,334.4 L387.2,335.1 L386.2,335.7 L385.1,336.1 L384.0,336.4 L382.9,336.6 L381.7,336.8 L380.6,337.1 L379.5,337.5 L378.3,338.0 L377.2,338.8 L376.0,340.2 L374.8,340.5 L373.6,338.5 L372.5,337.4 L371.4,336.7 L370.4,336.2 L369.3,335.9 L368.1,335.9 L366.9,336.1 L365.6,336.4 L364.3,336.7 L363.0,337.0 L361.7,337.0 L360.5,336.8 L359.4,336.3 L358.3,335.7 L357.4,334.9 L356.4,334.2 L355.4,333.4 L354.4,332.7 L353.5,332.1 L352.5,331.4 L351.6,330.6 L350.8,329.7 L350.1,328.7 L349.4,327.7 L348.6,326.9 L347.3,326.5 L344.9,327.2 L345.6,324.9 L345.4,323.5 L344.6,322.7 L343.6,322.0 L342.7,321.2 L341.9,320.3 L341.3,319.3 L341.0,318.1 L340.8,316.9 L340.8,315.6 L340.7,314.4 L340.6,313.2 L340.3,312.1 L339.9,311.0 L339.5,310.0 L339.1,309.0 L338.7,307.9 L338.4,306.9 L338.2,305.8 L338.0,304.7 L337.7,303.6 L337.3,302.6 L336.8,301.5 L336.1,300.4 L335.5,299.3 L335.0,298.2 L334.7,297.0 L334.7,295.8 L335.0,294.7 L335.6,293.5 L336.3,292.4 L337.0,291.4 L337.5,290.3 L337.8,289.3 L337.7,288.1 L337.3,286.8 L336.2,285.3 L333.7,283.3 L334.9,282.3 L336.6,281.7 L337.7,280.8 L338.5,279.9 L339.3,279.0 L340.2,278.1 L341.0,277.2 L341.7,276.3 L342.5,275.4 L343.2,274.6 L344.0,273.7 L344.9,273.0 L345.8,272.3 L346.7,271.6 L347.5,270.8 L348.1,269.9 L348.1,268.3 L347.8,266.3 L349.6,266.5 L350.6,265.9 L351.3,265.0 L352.2,264.2 L353.1,263.5 L354.2,263.1 L355.5,263.0 L356.7,262.9 L357.9,262.8 L358.9,262.3 L359.6,261.1 L359.6,258.1 L361.3,259.3 L362.7,259.7 L363.8,259.4 L364.8,258.9 L365.8,258.4 L366.9,258.0 L368.0,257.7 L369.2,257.5 L370.3,257.3 L371.4,257.1 L372.6,256.9 L373.7,256.6 L374.8,256.5 L376.0,256.5 L377.2,256.6 L378.3,256.8 L379.5,256.6 L380.8,255.4 L381.9,256.1 L382.7,258.2 L383.7,259.0 L384.8,259.2 L386.0,259.0 L387.2,258.8 L388.5,258.6 L389.7,258.6 L390.9,258.9 L391.9,259.3 L392.9,259.9 L393.9,260.6 L394.8,261.3 L395.8,262.0 L396.8,262.5 L397.8,263.1 L398.8,263.6 L399.8,264.2 L400.8,264.9 L401.7,265.6 L402.7,266.2 L404.2,266.3 L405.8,266.3 L405.4,268.4 L406.0,269.5 L407.0,270.2 L408.2,270.7 L409.5,271.2 L410.7,271.8 L411.7,272.6 L412.5,273.6 L413.0,274.7 L413.3,275.9 L413.5,277.2 L413.7,278.5 L413.9,279.7 L414.2,280.9 L414.6,282.0 L415.0,283.1 L415.4,284.2 L415.6,285.4 L415.8,286.5 L415.8,287.7 L415.9,288.9 L415.9,290.1 L416.1,291.2 L416.4,292.4 L416.8,293.5 L417.2,294.6 L417.6,295.8Z" fill="#6e60b8" stroke="#30256f" stroke-width="1.6" stroke-linejoin="round"/><g fill="#5b4ea5"><circle cx="385.0" cy="266.7" r="1.1"/><circle cx="389.3" cy="284.4" r="1.1"/><circle cx="386.0" cy="308.9" r="1.1"/><circle cx="367.5" cy="316.6" r="1.1"/><circle cx="404.7" cy="316.6" r="1.1"/><circle cx="376.5" cy="316.4" r="1.1"/><circle cx="358.0" cy="292.7" r="1.1"/><circle cx="352.6" cy="308.9" r="1.1"/><circle cx="371.9" cy="290.9" r="1.1"/><circle cx="345.3" cy="280.7" r="1.1"/><circle cx="373.7" cy="269.7" r="1.1"/><circle cx="352.0" cy="287.7" r="1.1"/><circle cx="345.7" cy="294.3" r="1.1"/><circle cx="353.1" cy="299.0" r="1.1"/><circle cx="408.1" cy="296.0" r="1.1"/><circle cx="402.6" cy="281.9" r="1.1"/><circle cx="398.0" cy="275.4" r="1.1"/><circle cx="368.6" cy="283.3" r="1.1"/><circle cx="390.4" cy="273.5" r="1.1"/><circle cx="382.5" cy="325.8" r="1.1"/><circle cx="391.8" cy="303.5" r="1.1"/><circle cx="386.5" cy="319.0" r="1.1"/><circle cx="383.2" cy="294.0" r="1.1"/><circle cx="400.5" cy="290.0" r="1.1"/><circle cx="374.6" cy="306.5" r="1.1"/><circle cx="373.3" cy="329.3" r="1.1"/><circle cx="364.5" cy="308.8" r="1.1"/><circle cx="350.5" cy="274.0" r="1.1"/><circle cx="347.0" cy="314.5" r="1.1"/><circle cx="361.9" cy="278.4" r="1.1"/><circle cx="364.6" cy="327.7" r="1.1"/><circle cx="391.4" cy="325.3" r="1.1"/><circle cx="359.7" cy="316.0" r="1.1"/><circle cx="366.8" cy="264.3" r="1.1"/><circle cx="378.9" cy="277.9" r="1.1"/><circle cx="393.4" cy="294.2" r="1.1"/><circle cx="396.4" cy="317.0" r="1.1"/><circle cx="356.7" cy="324.8" r="1.1"/></g><path d="M392.6,300.0 L392.7,301.3 L392.7,302.6 L392.4,303.9 L391.9,305.1 L391.1,306.2 L390.3,307.2 L389.4,308.2 L388.7,309.2 L388.0,310.2 L387.4,311.3 L386.8,312.4 L386.0,313.4 L385.2,314.3 L384.2,315.1 L383.1,315.7 L381.9,316.3 L380.8,316.8 L379.6,317.2 L378.4,317.5 L377.1,317.7 L375.9,317.7 L374.6,317.4 L373.4,317.0 L372.3,316.6 L371.1,316.3 L370.0,316.0 L368.8,315.9 L367.6,315.8 L366.4,315.5 L365.3,315.1 L364.3,314.4 L363.3,313.6 L362.5,312.8 L361.6,312.0 L360.6,311.3 L359.4,310.6 L358.2,309.9 L357.0,309.1 L355.9,308.1 L355.1,306.9 L354.6,305.6 L354.4,304.2 L354.3,302.8 L354.4,301.4 L354.5,300.0 L354.7,298.7 L355.1,297.3 L355.6,296.1 L356.2,294.9 L357.1,293.8 L357.9,292.8 L358.7,291.9 L359.4,290.9 L360.0,289.9 L360.6,288.8 L361.3,287.7 L362.1,286.8 L363.1,286.0 L364.2,285.5 L365.4,285.1 L366.6,284.8 L367.8,284.6 L368.9,284.3 L370.0,284.0 L371.1,283.8 L372.3,283.6 L373.4,283.5 L374.6,283.4 L375.8,283.3 L377.0,283.0 L378.3,282.7 L379.7,282.4 L381.2,282.2 L382.6,282.3 L383.9,282.8 L385.0,283.7 L385.9,284.8 L386.5,286.1 L387.1,287.3 L387.7,288.5 L388.4,289.6 L389.1,290.5 L389.9,291.5 L390.6,292.6 L391.2,293.7 L391.6,294.9 L391.9,296.2 L392.2,297.4 L392.4,298.7Z" fill="#5a4ea6" stroke="#4d4296" stroke-width="1"/><path d="M351.5,330.0 L351.1,330.8 L350.9,331.6 L350.8,332.4 L350.9,333.2 L351.1,334.1 L351.3,335.0 L351.4,335.8 L351.5,336.7 L351.4,337.6 L351.2,338.4 L351.0,339.2 L350.7,340.0 L350.3,340.8 L350.0,341.6 L349.7,342.4 L349.4,343.3 L349.1,344.1 L348.8,345.0 L348.4,345.7 L347.8,346.5 L347.1,347.1 L346.3,347.7 L345.4,348.2 L344.4,348.5 L343.4,348.9 L342.4,349.2 L341.5,349.6 L340.7,350.1 L340.1,350.7 L339.7,351.5 L339.7,352.8 L339.4,353.9 L338.1,353.8 L337.2,354.1 L336.4,354.6 L335.6,355.1 L334.7,355.5 L333.9,355.9 L333.0,356.3 L332.1,356.6 L331.3,357.0 L330.4,357.4 L329.6,357.9 L328.7,358.3 L327.8,358.6 L326.8,358.8 L325.8,359.0 L324.8,359.0 L323.8,359.0 L322.9,359.1 L321.9,359.4 L321.1,360.6 L320.0,359.8 L319.0,359.5 L318.0,359.6 L317.0,360.0 L316.0,360.4 L314.9,360.7 L313.9,360.9 L312.8,361.0 L311.8,360.9 L310.8,360.5 L309.9,360.0 L309.0,359.5 L308.1,358.9 L307.3,358.3 L306.5,357.7 L305.7,357.3 L304.8,356.9 L303.9,356.6 L303.0,356.3 L302.0,356.0 L301.1,355.8 L300.0,355.7 L298.6,356.0 L297.4,355.9 L297.4,354.3 L297.0,353.4 L296.3,352.8 L295.6,352.3 L294.8,351.8 L294.0,351.2 L293.2,350.7 L292.6,350.1 L292.0,349.4 L291.5,348.6 L291.2,347.8 L291.0,346.9 L290.8,346.0 L290.6,345.2 L290.3,344.4 L289.9,343.6 L289.4,343.0 L288.8,342.4 L288.1,341.8 L287.3,341.2 L286.6,340.5 L285.9,339.8 L285.4,339.1 L285.1,338.3 L284.9,337.5 L284.8,336.6 L284.9,335.8 L284.9,334.9 L285.0,334.1 L285.1,333.2 L285.1,332.4 L285.1,331.6 L285.1,330.8 L285.2,330.0 L285.3,329.2 L285.5,328.4 L285.8,327.6 L286.2,326.9 L286.6,326.1 L286.9,325.4 L287.0,324.6 L286.9,323.8 L286.3,322.8 L285.1,321.7 L286.3,321.1 L286.6,320.4 L286.7,319.5 L286.7,318.6 L286.9,317.8 L287.2,317.0 L287.7,316.2 L288.2,315.5 L288.8,314.9 L289.4,314.2 L290.0,313.6 L290.6,312.9 L291.1,312.1 L291.6,311.4 L292.0,310.7 L292.6,309.9 L293.2,309.2 L293.8,308.6 L294.5,308.0 L295.3,307.5 L296.1,306.9 L296.8,306.3 L297.4,305.6 L297.8,304.5 L297.7,302.8 L299.1,303.1 L300.1,302.7 L300.9,302.1 L301.7,301.5 L302.6,301.0 L303.6,300.6 L304.6,300.4 L305.7,300.4 L306.9,300.5 L308.0,300.7 L309.1,300.9 L310.2,301.0 L311.2,301.1 L312.2,301.0 L313.1,300.9 L314.1,300.8 L315.1,300.6 L316.0,300.5 L317.0,300.4 L318.0,300.4 L319.0,300.4 L320.0,300.5 L320.9,300.5 L321.9,300.5 L323.0,300.3 L324.1,299.6 L325.1,299.9 L325.9,300.7 L326.8,301.2 L327.7,301.5 L328.6,302.0 L329.4,302.5 L330.2,303.1 L330.9,303.7 L331.6,304.3 L332.4,304.9 L333.1,305.3 L334.0,305.6 L334.9,305.9 L335.9,306.0 L337.0,306.1 L338.0,306.3 L339.1,306.5 L340.0,306.9 L340.8,307.4 L341.5,308.0 L342.2,308.6 L343.0,309.1 L344.4,309.2 L344.0,310.6 L343.8,311.9 L344.0,312.8 L344.4,313.5 L344.9,314.2 L345.4,314.8 L346.0,315.5 L346.5,316.2 L346.9,316.9 L347.3,317.6 L347.7,318.3 L348.1,319.1 L348.4,319.8 L348.9,320.5 L349.3,321.2 L349.9,321.9 L350.5,322.7 L351.1,323.4 L351.6,324.2 L352.0,324.9 L352.2,325.8 L352.4,326.6 L352.8,327.4 L353.9,328.2 L352.4,329.2Z" fill="#f4a5a7" stroke="#b8656c" stroke-width="1.3" stroke-linejoin="round"/><g fill="#e0868a"><circle cx="294.5" cy="333.5" r="1.1"/><circle cx="340.1" cy="343.2" r="1.1"/><circle cx="312.2" cy="352.4" r="1.1"/><circle cx="300.5" cy="339.6" r="1.1"/><circle cx="335.1" cy="314.5" r="1.1"/><circle cx="309.3" cy="333.7" r="1.1"/><circle cx="335.5" cy="330.5" r="1.1"/><circle cx="323.7" cy="335.7" r="1.1"/><circle cx="306.6" cy="313.2" r="1.1"/><circle cx="323.7" cy="352.2" r="1.1"/><circle cx="293.1" cy="343.6" r="1.1"/><circle cx="343.6" cy="330.0" r="1.1"/><circle cx="326.1" cy="310.7" r="1.1"/><circle cx="297.3" cy="322.7" r="1.1"/><circle cx="331.7" cy="339.2" r="1.1"/><circle cx="309.0" cy="322.3" r="1.1"/><circle cx="320.0" cy="326.7" r="1.1"/><circle cx="298.8" cy="351.4" r="1.1"/><circle cx="315.3" cy="313.4" r="1.1"/><circle cx="345.0" cy="321.3" r="1.1"/><circle cx="328.8" cy="322.5" r="1.1"/><circle cx="316.8" cy="303.8" r="1.1"/><circle cx="312.5" cy="341.8" r="1.1"/><circle cx="330.0" cy="303.6" r="1.1"/><circle cx="302.5" cy="304.6" r="1.1"/><circle cx="332.7" cy="350.0" r="1.1"/><circle cx="322.3" cy="317.6" r="1.1"/></g><path d="M340.8,330.0 L340.5,331.0 L340.2,332.0 L339.9,333.0 L339.7,333.9 L339.4,334.9 L339.0,335.8 L338.5,336.6 L337.8,337.4 L337.0,338.0 L336.2,338.6 L335.5,339.2 L334.9,339.9 L334.4,340.7 L333.9,341.7 L333.3,342.7 L332.7,343.7 L331.9,344.5 L330.9,345.1 L329.9,345.5 L328.8,345.7 L327.7,345.8 L326.6,345.8 L325.5,345.7 L324.4,345.4 L323.3,345.1 L322.3,344.6 L321.4,344.2 L320.5,343.7 L319.5,343.3 L318.5,343.0 L317.5,342.7 L316.4,342.3 L315.3,341.9 L314.4,341.2 L313.7,340.3 L313.2,339.3 L312.8,338.2 L312.5,337.2 L312.3,336.1 L312.0,335.1 L311.8,334.1 L311.6,333.1 L311.5,332.0 L311.6,331.0 L311.7,330.0 L311.7,329.0 L311.7,328.0 L311.7,327.0 L311.5,325.9 L311.5,324.7 L311.6,323.6 L312.0,322.5 L312.6,321.6 L313.5,320.9 L314.5,320.4 L315.5,319.9 L316.5,319.5 L317.4,319.0 L318.2,318.4 L319.0,317.9 L319.8,317.4 L320.7,317.0 L321.7,316.6 L322.6,316.4 L323.6,316.1 L324.5,315.9 L325.5,315.6 L326.5,315.4 L327.6,315.2 L328.6,315.1 L329.7,315.2 L330.7,315.4 L331.8,315.7 L332.8,316.0 L333.9,316.3 L335.0,316.6 L336.1,317.1 L337.1,317.7 L338.0,318.4 L338.6,319.4 L339.1,320.5 L339.5,321.6 L339.8,322.6 L340.2,323.7 L340.5,324.7 L340.8,325.7 L341.1,326.8 L341.1,327.9 L341.1,328.9Z" fill="#dc7a7e" stroke="#c0646a" stroke-width="1"/><path d="M375.2,264.0 L375.9,265.5 L376.4,267.0 L376.5,268.5 L376.1,270.0 L375.2,271.4 L374.3,272.7 L374.1,274.1 L375.5,276.0 L373.4,277.0 L373.0,278.4 L373.3,280.0 L373.6,281.7 L373.5,283.3 L373.0,284.7 L372.2,286.0 L371.2,287.2 L370.2,288.4 L369.3,289.6 L368.5,290.8 L367.6,292.0 L366.7,293.2 L365.5,294.2 L364.4,295.1 L363.3,296.1 L362.3,297.2 L361.7,298.6 L361.3,300.2 L360.9,302.0 L360.7,304.0 L361.0,306.7 L357.9,305.5 L355.5,304.9 L353.5,304.6 L351.7,304.5 L350.2,304.7 L349.0,305.4 L347.9,306.3 L346.8,307.3 L345.7,308.2 L344.5,308.8 L343.1,309.3 L341.8,309.7 L340.5,310.1 L339.2,310.7 L337.9,311.4 L336.6,311.9 L335.2,312.2 L333.7,312.0 L332.2,311.5 L330.7,310.9 L329.3,310.5 L328.0,310.6 L326.7,311.6 L325.4,314.1 L324.0,316.8 L322.5,315.0 L321.1,314.5 L319.7,314.2 L318.3,313.8 L316.9,313.4 L315.5,313.1 L314.1,312.9 L312.7,312.8 L311.2,312.5 L309.9,312.0 L308.7,311.2 L307.5,310.2 L306.4,309.3 L305.1,308.6 L303.7,308.4 L302.1,308.5 L300.4,308.8 L298.6,309.0 L296.7,309.3 L294.5,310.0 L293.2,309.0 L293.5,306.0 L293.2,304.0 L292.5,302.5 L291.6,301.3 L290.6,300.3 L289.7,299.3 L288.8,298.2 L288.0,297.0 L287.3,295.8 L286.5,294.6 L285.5,293.7 L284.2,292.9 L282.8,292.2 L281.4,291.4 L280.3,290.4 L279.7,289.0 L279.6,287.4 L279.8,285.7 L280.1,284.1 L280.0,282.6 L279.6,281.3 L278.7,280.2 L277.6,279.1 L276.5,278.0 L275.6,276.7 L275.0,275.4 L274.6,274.0 L274.3,272.6 L274.0,271.2 L273.7,269.8 L273.4,268.3 L273.3,266.9 L273.5,265.4 L274.0,264.0 L274.6,262.6 L275.1,261.2 L275.2,259.8 L274.8,258.4 L273.7,256.8 L271.8,255.0 L271.2,253.3 L272.3,252.0 L273.3,250.7 L274.5,249.5 L275.9,248.4 L277.2,247.3 L278.2,246.2 L278.8,244.9 L279.1,243.5 L279.3,242.0 L279.6,240.6 L280.1,239.2 L280.8,237.9 L281.5,236.7 L282.1,235.4 L282.7,234.0 L283.3,232.6 L284.1,231.3 L285.1,230.3 L286.4,229.5 L287.9,228.9 L289.5,228.5 L290.8,227.9 L291.9,226.9 L292.6,225.6 L293.1,224.0 L293.6,222.2 L294.3,220.6 L295.3,219.4 L296.6,218.6 L298.0,218.0 L299.3,217.2 L300.2,215.6 L301.5,214.8 L303.6,215.7 L305.2,215.7 L306.7,215.5 L308.2,215.3 L309.7,215.3 L311.2,215.2 L312.6,214.9 L313.9,214.3 L315.2,213.4 L316.6,212.4 L318.0,211.7 L319.5,211.4 L321.0,211.7 L322.5,212.3 L324.0,212.6 L325.5,211.5 L326.9,214.1 L328.2,215.4 L329.5,215.9 L330.9,216.1 L332.2,216.3 L333.6,216.8 L334.9,217.3 L336.1,217.8 L337.5,218.1 L338.9,218.2 L340.4,218.2 L341.8,218.2 L343.2,218.7 L344.3,219.5 L345.2,220.8 L346.0,222.3 L346.7,223.7 L347.6,224.8 L348.7,225.5 L350.1,225.9 L351.6,226.1 L353.1,226.3 L354.5,226.7 L355.8,227.3 L357.0,228.0 L358.4,228.6 L360.6,228.5 L363.9,227.4 L362.8,230.4 L363.0,232.1 L363.5,233.5 L363.9,235.0 L364.1,236.6 L364.3,238.1 L364.8,239.4 L365.8,240.4 L367.1,241.2 L368.7,242.0 L370.3,242.9 L371.6,243.9 L372.3,245.2 L372.5,246.7 L372.5,248.2 L372.3,249.8 L372.3,251.3 L372.5,252.7 L372.9,254.1 L373.3,255.5 L373.6,256.9 L373.7,258.3 L373.8,259.7 L374.1,261.1 L374.5,262.6Z" fill="#de898c" stroke="#a9555c" stroke-width="1.3" stroke-linejoin="round"/><g fill="#c76b70"><circle cx="297.6" cy="272.0" r="1.1"/><circle cx="306.5" cy="225.1" r="1.1"/><circle cx="322.3" cy="250.6" r="1.1"/><circle cx="349.3" cy="269.1" r="1.1"/><circle cx="313.8" cy="241.8" r="1.1"/><circle cx="332.0" cy="251.6" r="1.1"/><circle cx="305.3" cy="247.9" r="1.1"/><circle cx="335.4" cy="296.3" r="1.1"/><circle cx="327.4" cy="270.3" r="1.1"/><circle cx="315.4" cy="300.2" r="1.1"/><circle cx="315.4" cy="274.0" r="1.1"/><circle cx="345.5" cy="294.2" r="1.1"/><circle cx="289.9" cy="275.9" r="1.1"/><circle cx="355.3" cy="255.7" r="1.1"/><circle cx="345.7" cy="244.9" r="1.1"/><circle cx="297.6" cy="290.4" r="1.1"/><circle cx="340.6" cy="279.9" r="1.1"/><circle cx="362.9" cy="245.8" r="1.1"/><circle cx="357.7" cy="238.8" r="1.1"/><circle cx="311.3" cy="293.2" r="1.1"/><circle cx="316.5" cy="263.3" r="1.1"/><circle cx="337.3" cy="237.4" r="1.1"/><circle cx="363.8" cy="270.3" r="1.1"/><circle cx="321.9" cy="238.4" r="1.1"/><circle cx="283.2" cy="280.0" r="1.1"/><circle cx="339.6" cy="257.6" r="1.1"/><circle cx="294.2" cy="248.0" r="1.1"/><circle cx="353.8" cy="295.7" r="1.1"/><circle cx="341.4" cy="229.8" r="1.1"/><circle cx="351.8" cy="233.3" r="1.1"/><circle cx="364.8" cy="258.5" r="1.1"/><circle cx="335.6" cy="264.4" r="1.1"/><circle cx="321.2" cy="282.6" r="1.1"/><circle cx="330.1" cy="278.4" r="1.1"/><circle cx="307.8" cy="257.5" r="1.1"/><circle cx="313.4" cy="285.2" r="1.1"/><circle cx="299.3" cy="261.3" r="1.1"/><circle cx="357.5" cy="284.7" r="1.1"/><circle cx="332.6" cy="230.9" r="1.1"/><circle cx="325.6" cy="226.7" r="1.1"/><circle cx="287.3" cy="259.1" r="1.1"/><circle cx="352.5" cy="277.9" r="1.1"/><circle cx="296.1" cy="238.8" r="1.1"/><circle cx="361.6" cy="277.9" r="1.1"/><circle cx="336.3" cy="223.8" r="1.1"/><circle cx="307.1" cy="233.7" r="1.1"/><circle cx="291.6" cy="283.9" r="1.1"/><circle cx="301.4" cy="297.4" r="1.1"/><circle cx="324.0" cy="299.9" r="1.1"/><circle cx="280.5" cy="262.9" r="1.1"/><circle cx="317.1" cy="223.8" r="1.1"/><circle cx="299.6" cy="281.9" r="1.1"/><circle cx="330.8" cy="303.9" r="1.1"/><circle cx="308.4" cy="303.9" r="1.1"/><circle cx="333.1" cy="286.5" r="1.1"/><circle cx="298.0" cy="229.8" r="1.1"/><circle cx="325.0" cy="259.3" r="1.1"/><circle cx="348.5" cy="259.9" r="1.1"/><circle cx="314.9" cy="232.5" r="1.1"/></g><path d="M350.8,272.0 L351.2,273.5 L351.4,275.0 L351.3,276.5 L350.9,278.0 L350.2,279.3 L349.3,280.6 L348.4,281.8 L347.6,283.0 L346.8,284.2 L345.9,285.4 L344.9,286.4 L343.8,287.4 L342.6,288.1 L341.3,288.7 L339.9,289.2 L338.6,289.7 L337.3,290.1 L336.0,290.6 L334.7,291.0 L333.4,291.3 L332.1,291.6 L330.7,291.7 L329.3,291.9 L327.9,292.1 L326.4,292.5 L324.8,292.8 L323.2,293.1 L321.5,293.1 L319.9,292.7 L318.4,292.0 L317.2,291.0 L316.1,289.8 L315.1,288.5 L314.2,287.3 L313.2,286.1 L312.3,284.9 L311.4,283.6 L310.6,282.3 L310.0,280.9 L309.5,279.4 L309.3,277.9 L309.0,276.5 L308.8,275.0 L308.5,273.5 L308.4,272.0 L308.4,270.5 L308.8,269.0 L309.5,267.6 L310.6,266.4 L311.8,265.4 L312.9,264.4 L313.9,263.5 L314.7,262.5 L315.3,261.3 L315.8,260.1 L316.3,258.8 L316.9,257.4 L317.6,256.1 L318.5,254.9 L319.5,253.8 L320.6,252.8 L321.9,251.9 L323.2,251.1 L324.7,250.6 L326.2,250.4 L327.7,250.4 L329.3,250.6 L330.7,250.9 L332.2,251.2 L333.6,251.3 L335.2,251.3 L336.7,251.4 L338.3,251.5 L339.8,251.9 L341.2,252.5 L342.5,253.5 L343.6,254.6 L344.6,255.8 L345.5,257.0 L346.4,258.2 L347.3,259.4 L348.1,260.7 L348.6,262.1 L349.0,263.5 L349.2,265.0 L349.3,266.5 L349.5,267.9 L349.8,269.2 L350.3,270.6Z" fill="#b65a60" stroke="#9a474e" stroke-width="1"/><path d="M458.4,260.0 L458.6,261.1 L458.9,262.2 L459.3,263.3 L459.7,264.4 L460.0,265.6 L460.1,266.8 L460.1,267.9 L459.7,269.0 L459.2,270.0 L458.5,271.0 L457.7,271.9 L457.0,272.9 L456.7,273.9 L457.1,275.3 L459.0,277.3 L455.9,277.2 L454.5,277.7 L453.6,278.4 L453.0,279.3 L452.4,280.2 L451.7,281.0 L451.0,281.8 L450.2,282.5 L449.5,283.3 L448.8,284.1 L448.2,285.0 L447.6,285.9 L447.0,286.8 L446.4,287.7 L445.7,288.5 L444.9,289.2 L444.2,290.0 L443.7,291.3 L442.5,291.4 L440.7,290.6 L439.3,290.4 L438.3,290.5 L437.3,290.9 L436.5,291.5 L435.8,292.3 L435.1,293.3 L434.3,294.3 L433.6,295.2 L432.7,296.0 L431.8,296.7 L430.8,297.1 L429.7,297.4 L428.6,297.5 L427.5,297.6 L426.4,297.7 L425.3,297.9 L424.3,298.1 L423.2,298.4 L422.1,299.0 L421.0,300.2 L419.8,302.5 L418.7,300.0 L417.7,298.9 L416.6,298.5 L415.5,298.3 L414.4,298.2 L413.3,298.2 L412.1,298.4 L410.9,298.5 L409.7,298.6 L408.5,298.5 L407.3,298.3 L406.3,297.8 L405.3,297.1 L404.5,296.2 L403.7,295.2 L403.0,294.1 L402.3,293.2 L401.5,292.4 L400.6,291.8 L399.6,291.3 L398.5,291.0 L397.3,290.7 L396.1,290.4 L395.0,290.0 L393.9,289.5 L392.9,288.9 L391.8,288.4 L390.3,288.1 L389.0,287.8 L389.7,285.6 L389.7,284.2 L389.3,283.0 L388.8,282.0 L388.2,281.1 L387.7,280.1 L387.2,279.1 L386.9,278.0 L386.6,276.9 L386.4,275.8 L386.2,274.7 L386.0,273.6 L385.7,272.6 L385.3,271.6 L384.7,270.7 L384.0,269.7 L383.3,268.8 L382.6,267.8 L381.7,266.8 L380.3,265.9 L379.2,264.8 L381.4,263.4 L382.6,262.2 L383.4,261.1 L384.1,260.0 L384.6,259.0 L385.0,257.9 L385.3,256.9 L385.5,255.9 L385.6,254.9 L385.7,253.9 L385.9,252.9 L386.2,251.9 L386.6,250.9 L386.9,250.0 L387.3,249.0 L387.6,248.1 L387.8,247.1 L387.8,246.0 L387.8,244.8 L387.8,243.7 L387.7,242.4 L387.6,241.1 L387.1,239.6 L387.3,238.3 L389.2,238.2 L390.5,237.8 L391.6,237.3 L392.6,236.8 L393.4,236.1 L394.2,235.4 L394.8,234.6 L395.3,233.6 L395.8,232.6 L396.3,231.5 L396.9,230.5 L397.5,229.5 L398.2,228.6 L399.0,227.9 L399.9,227.2 L400.8,226.5 L401.8,225.9 L402.7,225.3 L403.6,224.6 L404.5,223.8 L405.3,222.8 L405.8,221.0 L407.3,221.5 L408.8,222.3 L410.1,222.8 L411.3,223.1 L412.5,223.3 L413.6,223.4 L414.7,223.4 L415.7,223.1 L416.7,222.7 L417.7,222.1 L418.8,221.4 L419.9,220.6 L421.0,219.5 L422.2,217.5 L423.4,217.8 L424.4,219.9 L425.5,221.0 L426.5,222.0 L427.5,222.7 L428.4,223.3 L429.4,223.8 L430.4,224.1 L431.5,224.2 L432.6,224.3 L433.7,224.3 L434.9,224.4 L436.0,224.5 L437.1,224.8 L438.1,225.2 L439.1,225.6 L440.1,226.1 L441.1,226.6 L442.1,227.1 L443.1,227.7 L444.1,228.2 L445.0,228.9 L445.8,229.6 L446.6,230.5 L447.2,231.4 L447.7,232.5 L448.2,233.6 L448.6,234.7 L449.1,235.7 L449.7,236.5 L450.4,237.3 L451.3,238.0 L452.4,238.6 L453.6,239.1 L455.1,239.4 L457.5,239.4 L457.8,240.6 L457.0,242.3 L456.8,243.6 L456.8,244.9 L456.7,246.1 L456.7,247.3 L456.8,248.4 L456.9,249.4 L457.2,250.5 L457.7,251.5 L458.4,252.4 L459.9,253.3 L461.6,254.2 L459.6,255.6 L458.8,256.8 L458.5,257.9 L458.4,258.9Z" fill="#6e60b8" stroke="#30256f" stroke-width="1.6" stroke-linejoin="round"/><g fill="#5b4ea5"><circle cx="448.9" cy="256.1" r="1.1"/><circle cx="425.2" cy="283.6" r="1.1"/><circle cx="423.7" cy="248.0" r="1.1"/><circle cx="432.1" cy="255.0" r="1.1"/><circle cx="393.5" cy="248.8" r="1.1"/><circle cx="414.1" cy="239.9" r="1.1"/><circle cx="404.8" cy="261.2" r="1.1"/><circle cx="452.8" cy="267.4" r="1.1"/><circle cx="414.6" cy="282.2" r="1.1"/><circle cx="437.1" cy="276.4" r="1.1"/><circle cx="444.9" cy="239.0" r="1.1"/><circle cx="411.9" cy="290.7" r="1.1"/><circle cx="422.1" cy="263.5" r="1.1"/><circle cx="393.5" cy="259.6" r="1.1"/><circle cx="437.7" cy="288.5" r="1.1"/><circle cx="446.7" cy="280.7" r="1.1"/><circle cx="433.4" cy="244.7" r="1.1"/><circle cx="425.0" cy="271.2" r="1.1"/><circle cx="405.4" cy="281.4" r="1.1"/><circle cx="399.5" cy="273.2" r="1.1"/><circle cx="422.7" cy="228.3" r="1.1"/><circle cx="402.3" cy="244.0" r="1.1"/><circle cx="444.6" cy="268.0" r="1.1"/><circle cx="412.7" cy="260.4" r="1.1"/><circle cx="395.5" cy="239.6" r="1.1"/><circle cx="420.5" cy="291.8" r="1.1"/><circle cx="433.1" cy="229.2" r="1.1"/><circle cx="414.9" cy="267.9" r="1.1"/><circle cx="441.6" cy="259.7" r="1.1"/><circle cx="410.6" cy="249.1" r="1.1"/><circle cx="451.3" cy="248.2" r="1.1"/><circle cx="408.0" cy="233.0" r="1.1"/><circle cx="433.0" cy="267.1" r="1.1"/><circle cx="441.7" cy="251.6" r="1.1"/></g><path d="M438.0,265.0 L438.4,266.1 L438.7,267.2 L439.0,268.4 L439.0,269.6 L438.9,270.8 L438.6,271.9 L438.2,273.1 L437.8,274.2 L437.3,275.4 L436.6,276.4 L435.8,277.3 L434.8,278.1 L433.7,278.7 L432.5,279.1 L431.4,279.5 L430.3,280.0 L429.3,280.6 L428.3,281.2 L427.2,281.9 L426.1,282.5 L424.9,282.9 L423.6,283.0 L422.4,283.0 L421.1,282.8 L419.9,282.5 L418.7,282.2 L417.6,281.7 L416.5,281.1 L415.5,280.4 L414.6,279.5 L413.8,278.6 L413.1,277.7 L412.3,276.8 L411.4,276.2 L410.4,275.6 L409.2,275.0 L408.0,274.4 L407.0,273.5 L406.4,272.4 L406.0,271.2 L405.9,269.9 L406.1,268.6 L406.3,267.3 L406.5,266.2 L406.6,265.0 L406.7,263.9 L406.9,262.7 L407.2,261.6 L407.6,260.6 L408.1,259.6 L408.6,258.6 L409.0,257.6 L409.4,256.5 L409.8,255.4 L410.3,254.3 L410.9,253.3 L411.7,252.4 L412.6,251.7 L413.7,251.1 L414.7,250.6 L415.7,250.1 L416.8,249.5 L417.8,248.9 L418.8,248.3 L420.0,247.8 L421.1,247.4 L422.4,247.2 L423.6,247.1 L424.9,247.1 L426.2,247.1 L427.5,247.1 L428.8,247.3 L430.0,247.6 L431.2,248.1 L432.3,248.9 L433.2,249.9 L433.9,251.0 L434.6,252.1 L435.3,253.1 L436.0,254.1 L436.7,255.0 L437.4,256.0 L437.9,257.1 L438.1,258.3 L438.1,259.5 L437.9,260.7 L437.7,261.9 L437.6,262.9 L437.7,264.0Z" fill="#5a4ea6" stroke="#4d4296" stroke-width="1"/></g><text x="150.4" y="333.0" font-family='"Liberation Sans", sans-serif' font-size="24.0" font-weight="bold" fill="#2e2158" text-anchor="start" textLength="51.2" lengthAdjust="spacingAndGlyphs" >TAA</text><text x="515.7" y="181.9" font-family='"Liberation Sans", sans-serif' font-size="25.0" font-weight="bold" fill="#1f4e86" text-anchor="start" textLength="121.5" lengthAdjust="spacingAndGlyphs" >CAR T-cell</text><circle cx="580.0" cy="268.0" r="70.0" fill="#a1cdea" stroke="#2f6c98" stroke-width="2.2"/><circle cx="588.4" cy="267.7" r="42.5" fill="#86b1cb" stroke="#6e9bb8" stroke-width="1.2"/><g transform="translate(503.5,211.0) rotate(41.0) scale(1.000)"><path d="M1,-1.5 C-2.5,-2.5 -2.5,-6.3 2,-6.3 L16,-6.3 C19.5,-6.3 19.5,-11 16,-11" fill="#ffffff" stroke="#2b2152" stroke-width="1.4"/><rect x="0" y="-2.4" width="15" height="4.8" rx="2.4" fill="#593d8e"/><rect x="1.5" y="-13.6" width="15" height="4.8" rx="2.4" fill="#593d8e"/><line x1="14" y1="0" x2="61" y2="0" stroke="#2b2152" stroke-width="1.6"/><rect x="28.0" y="-2.8" width="9" height="5.6" rx="2.4" fill="#593d8e"/><rect x="40.0" y="-2.8" width="9" height="5.6" rx="2.4" fill="#593d8e"/><rect x="52.0" y="-2.8" width="9" height="5.6" rx="2.4" fill="#593d8e"/></g><g><path d="M942.2,151.8C941.6,155.1 940.8,165.3 938.5,171.5C936.2,177.7 932.1,183.9 928.7,188.7C925.3,193.4 919.8,198.1 918.0,200.0" fill="none" stroke="#cf7a98" stroke-width="1.4"/><path d="M942.2,151.8C941.6,155.1 940.8,165.3 938.5,171.5C936.2,177.7 932.1,183.9 928.7,188.7C925.3,193.4 919.8,198.1 918.0,200.0" fill="none" stroke="#b3436d" stroke-width="3.8" stroke-linecap="round" stroke-dasharray="1.4 4.4"/><path d="M869.7,201.0C870.5,203.9 871.7,212.9 874.6,218.2C877.5,223.5 883.8,229.7 886.9,233.0C890.0,236.3 892.0,237.2 893.0,238.0" fill="none" stroke="#cf7a98" stroke-width="1.4"/><path d="M869.7,201.0C870.5,203.9 871.7,212.9 874.6,218.2C877.5,223.5 883.8,229.7 886.9,233.0C890.0,236.3 892.0,237.2 893.0,238.0" fill="none" stroke="#b3436d" stroke-width="3.8" stroke-linecap="round" stroke-dasharray="1.4 4.4"/><path d="M1041.8,170.3C1041.2,173.8 1037.7,184.4 1038.1,191.2C1038.5,197.9 1041.6,203.8 1044.3,210.8C1047.0,217.8 1051.6,225.2 1054.1,233.0C1056.5,240.8 1058.0,251.4 1059.0,257.6C1060.0,263.8 1059.8,267.9 1060.0,270.0" fill="none" stroke="#cf7a98" stroke-width="1.4"/><path d="M1041.8,170.3C1041.2,173.8 1037.7,184.4 1038.1,191.2C1038.5,197.9 1041.6,203.8 1044.3,210.8C1047.0,217.8 1051.6,225.2 1054.1,233.0C1056.5,240.8 1058.0,251.4 1059.0,257.6C1060.0,263.8 1059.8,267.9 1060.0,270.0" fill="none" stroke="#b3436d" stroke-width="3.8" stroke-linecap="round" stroke-dasharray="1.4 4.4"/><path d="M895.0,270.0C894.1,271.2 891.6,273.9 889.4,277.2C887.2,280.4 885.1,286.0 882.0,289.5C878.9,293.0 872.8,296.7 870.9,298.1" fill="none" stroke="#cf7a98" stroke-width="1.4"/><path d="M895.0,270.0C894.1,271.2 891.6,273.9 889.4,277.2C887.2,280.4 885.1,286.0 882.0,289.5C878.9,293.0 872.8,296.7 870.9,298.1" fill="none" stroke="#b3436d" stroke-width="3.8" stroke-linecap="round" stroke-dasharray="1.4 4.4"/><path d="M1050.0,285.0C1050.1,287.0 1050.1,292.1 1050.4,297.0C1050.7,301.9 1050.3,308.6 1051.7,314.1C1053.1,319.6 1057.8,327.4 1059.0,330.0" fill="none" stroke="#cf7a98" stroke-width="1.4"/><path d="M1050.0,285.0C1050.1,287.0 1050.1,292.1 1050.4,297.0C1050.7,301.9 1050.3,308.6 1051.7,314.1C1053.1,319.6 1057.8,327.4 1059.0,330.0" fill="none" stroke="#b3436d" stroke-width="3.8" stroke-linecap="round" stroke-dasharray="1.4 4.4"/><path d="M929.4,206.0 L929.1,206.6 L929.0,207.3 L928.9,207.9 L928.9,208.5 L928.9,209.1 L928.8,209.8 L928.7,210.4 L928.6,211.0 L928.4,211.6 L928.1,212.2 L927.8,212.8 L927.5,213.3 L927.1,213.8 L926.7,214.3 L926.3,214.8 L925.9,215.3 L925.5,215.8 L925.1,216.2 L924.8,216.7 L924.4,217.2 L924.1,217.7 L923.8,218.2 L923.5,218.7 L923.2,219.3 L922.9,219.8 L922.7,220.4 L922.3,220.9 L922.0,221.5 L921.8,222.1 L921.8,223.1 L921.0,223.1 L920.2,223.1 L919.6,223.3 L918.9,223.5 L918.3,223.6 L917.7,223.8 L917.1,223.9 L916.5,224.0 L915.9,224.2 L915.4,224.3 L914.8,224.5 L914.3,224.7 L913.8,225.0 L913.2,225.2 L912.7,225.5 L912.2,225.9 L911.7,226.2 L911.2,226.5 L910.6,226.8 L910.0,227.1 L909.5,227.4 L908.9,227.6 L908.2,227.7 L907.6,227.9 L907.0,228.1 L906.4,228.6 L905.7,228.8 L905.1,228.0 L904.5,227.5 L903.9,227.3 L903.4,227.1 L902.8,226.9 L902.2,226.7 L901.6,226.5 L901.0,226.3 L900.5,226.1 L899.9,225.8 L899.4,225.6 L898.9,225.3 L898.4,224.9 L897.9,224.6 L897.4,224.2 L896.9,223.8 L896.5,223.4 L896.1,223.0 L895.7,222.5 L895.3,222.1 L894.9,221.7 L894.5,221.3 L894.0,221.0 L893.5,220.7 L892.9,220.5 L892.0,220.6 L891.6,220.1 L891.5,219.5 L891.1,219.0 L890.6,218.7 L890.1,218.3 L889.6,217.9 L889.2,217.5 L888.7,217.0 L888.4,216.5 L888.1,216.0 L887.8,215.4 L887.6,214.9 L887.4,214.3 L887.2,213.7 L887.1,213.1 L887.0,212.5 L887.0,211.9 L886.9,211.3 L886.8,210.7 L886.7,210.1 L886.7,209.5 L886.6,208.9 L886.5,208.4 L886.4,207.8 L886.4,207.2 L886.4,206.6 L886.4,206.0 L886.4,205.4 L886.4,204.8 L886.3,204.2 L886.0,203.6 L885.6,202.9 L886.3,202.4 L886.7,201.9 L886.9,201.3 L886.9,200.7 L887.0,200.1 L887.1,199.5 L887.1,198.9 L887.1,198.3 L887.2,197.6 L887.3,197.0 L887.4,196.3 L887.5,195.7 L887.7,195.1 L887.9,194.5 L888.2,193.9 L888.4,193.3 L888.4,192.5 L888.7,191.9 L889.7,191.8 L890.4,191.6 L891.0,191.3 L891.5,190.9 L892.0,190.6 L892.5,190.3 L893.0,189.9 L893.5,189.5 L894.0,189.1 L894.4,188.6 L894.8,188.2 L895.3,187.7 L895.7,187.3 L896.2,186.8 L896.7,186.4 L897.2,186.0 L897.7,185.7 L898.3,185.5 L898.9,185.3 L899.6,185.1 L900.2,185.1 L900.9,185.1 L901.5,185.1 L902.1,185.1 L902.8,185.0 L903.3,184.5 L904.0,185.0 L904.7,185.6 L905.3,185.9 L905.9,186.0 L906.4,186.1 L907.0,186.2 L907.6,186.2 L908.1,186.2 L908.7,186.2 L909.3,186.3 L909.8,186.3 L910.4,186.4 L911.0,186.4 L911.5,186.5 L912.1,186.7 L912.6,186.8 L913.2,186.9 L913.7,187.1 L914.3,187.3 L914.8,187.4 L915.4,187.6 L916.0,187.8 L916.5,187.9 L917.1,188.1 L917.7,188.3 L918.3,188.5 L918.8,188.7 L919.4,188.9 L919.9,189.2 L920.5,189.5 L920.9,189.9 L921.4,190.3 L921.8,190.8 L922.1,191.3 L922.5,191.8 L922.8,192.3 L923.1,192.8 L923.5,193.3 L924.2,193.5 L924.9,193.8 L924.4,194.8 L924.3,195.5 L924.5,196.1 L924.8,196.6 L925.1,197.1 L925.4,197.6 L925.7,198.1 L926.1,198.6 L926.4,199.1 L926.8,199.6 L927.1,200.1 L927.4,200.6 L927.7,201.2 L927.9,201.8 L928.1,202.3 L928.3,202.9 L928.5,203.5 L928.9,204.1 L929.6,204.7 L930.5,205.3Z" fill="#df8c8f" stroke="#a95a60" stroke-width="1.3" stroke-linejoin="round"/><g fill="#cb7479"><circle cx="920.9" cy="201.9" r="1.1"/><circle cx="920.1" cy="215.3" r="1.1"/><circle cx="902.1" cy="199.4" r="1.1"/><circle cx="906.6" cy="223.7" r="1.1"/><circle cx="912.4" cy="212.3" r="1.1"/><circle cx="907.6" cy="205.7" r="1.1"/><circle cx="899.0" cy="207.4" r="1.1"/><circle cx="898.9" cy="220.0" r="1.1"/><circle cx="914.3" cy="192.2" r="1.1"/><circle cx="896.6" cy="193.0" r="1.1"/></g><path d="M921.3,212.0 L920.9,212.6 L920.5,213.2 L920.2,213.7 L920.0,214.3 L919.8,214.9 L919.7,215.4 L919.4,216.0 L919.2,216.5 L918.8,217.0 L918.5,217.4 L918.1,217.9 L917.7,218.4 L917.3,218.8 L916.9,219.3 L916.4,219.6 L915.8,219.8 L915.2,219.9 L914.6,220.0 L914.0,220.0 L913.4,220.1 L912.9,220.3 L912.3,220.6 L911.7,220.9 L911.0,221.2 L910.3,221.4 L909.6,221.5 L909.0,221.4 L908.3,221.1 L907.7,220.7 L907.2,220.3 L906.7,219.9 L906.2,219.5 L905.7,219.0 L905.3,218.5 L904.9,217.9 L904.7,217.3 L904.4,216.7 L904.2,216.2 L903.9,215.6 L903.6,215.1 L903.3,214.5 L903.1,213.9 L902.9,213.3 L902.9,212.6 L903.0,212.0 L903.1,211.4 L903.2,210.8 L903.4,210.2 L903.5,209.6 L903.6,208.9 L903.8,208.3 L904.0,207.8 L904.4,207.3 L904.8,206.8 L905.3,206.4 L905.7,205.9 L906.1,205.5 L906.5,205.0 L907.0,204.6 L907.5,204.2 L908.1,203.9 L908.7,203.8 L909.3,203.7 L909.9,203.7 L910.5,203.7 L911.1,203.6 L911.7,203.4 L912.3,203.3 L912.9,203.1 L913.6,203.1 L914.2,203.3 L914.8,203.5 L915.3,203.9 L915.8,204.2 L916.3,204.5 L916.9,204.8 L917.5,205.0 L918.1,205.2 L918.7,205.5 L919.3,205.9 L919.8,206.3 L920.3,206.8 L920.8,207.3 L921.2,207.9 L921.5,208.5 L921.8,209.2 L921.9,209.9 L921.8,210.6 L921.6,211.3Z" fill="#b65c62" stroke="#9e4c52" stroke-width="1"/><path d="M987.6,248.0 L987.7,248.6 L987.8,249.1 L987.8,249.7 L987.8,250.3 L987.7,250.8 L987.5,251.4 L987.4,251.9 L987.1,252.4 L986.8,253.0 L986.5,253.4 L986.2,253.9 L985.8,254.4 L985.5,254.8 L985.2,255.3 L984.9,255.7 L984.7,256.2 L984.5,256.7 L984.4,257.2 L984.5,257.9 L985.0,258.9 L984.3,259.2 L983.8,259.5 L983.5,260.0 L983.3,260.5 L983.1,261.1 L982.9,261.7 L982.6,262.2 L982.3,262.7 L982.0,263.2 L981.6,263.7 L981.2,264.2 L980.8,264.6 L980.3,264.9 L979.8,265.3 L979.3,265.6 L978.8,266.0 L978.3,266.2 L977.8,266.5 L977.2,266.8 L976.7,267.0 L976.1,267.3 L975.6,267.5 L975.0,267.7 L974.4,267.8 L973.9,267.9 L973.3,268.0 L972.7,268.1 L972.1,268.2 L971.5,268.2 L970.9,268.2 L970.3,268.2 L969.7,268.2 L969.2,268.3 L968.6,268.3 L968.0,268.4 L967.4,268.7 L966.8,269.4 L966.1,270.0 L965.6,269.0 L965.0,268.7 L964.4,268.5 L963.9,268.4 L963.3,268.3 L962.7,268.1 L962.1,267.9 L961.6,267.7 L961.1,267.4 L960.6,267.0 L960.1,266.7 L959.7,266.2 L959.2,265.8 L958.8,265.4 L958.4,265.0 L958.0,264.6 L957.6,264.2 L957.1,263.9 L956.7,263.6 L956.2,263.3 L955.8,263.0 L955.2,262.7 L954.7,262.5 L953.9,262.5 L952.5,263.1 L952.9,261.9 L952.8,261.2 L952.5,260.6 L952.2,260.2 L951.9,259.7 L951.6,259.2 L951.3,258.7 L951.1,258.2 L950.9,257.7 L950.6,257.2 L950.4,256.6 L950.2,256.1 L950.0,255.6 L949.7,255.1 L949.5,254.6 L949.3,254.1 L949.1,253.6 L948.9,253.0 L948.7,252.5 L948.5,252.0 L948.3,251.4 L947.8,250.9 L947.4,250.4 L948.0,249.7 L948.3,249.1 L948.4,248.6 L948.6,248.0 L948.7,247.4 L948.8,246.9 L948.9,246.4 L948.9,245.8 L949.0,245.3 L949.0,244.7 L949.0,244.1 L949.0,243.6 L948.9,243.0 L948.9,242.4 L948.8,241.8 L948.8,241.2 L948.8,240.5 L948.9,239.9 L949.0,239.3 L949.2,238.8 L949.5,238.2 L949.7,237.7 L950.1,237.2 L950.5,236.8 L950.9,236.3 L951.4,235.9 L951.9,235.6 L952.3,235.2 L952.7,234.7 L952.7,233.9 L953.0,233.4 L954.0,233.6 L954.7,233.5 L955.2,233.3 L955.7,233.0 L956.1,232.6 L956.6,232.3 L957.0,231.9 L957.5,231.6 L957.9,231.3 L958.4,230.9 L958.8,230.6 L959.3,230.3 L959.8,230.0 L960.3,229.8 L960.8,229.5 L961.3,229.2 L961.8,229.0 L962.3,228.7 L962.9,228.5 L963.4,228.3 L964.0,228.1 L964.5,227.9 L965.1,227.7 L965.7,227.5 L966.2,227.4 L966.8,227.4 L967.4,227.3 L968.0,227.4 L968.6,227.4 L969.2,227.5 L969.8,227.5 L970.4,227.4 L971.0,227.0 L971.5,227.7 L972.0,228.2 L972.5,228.5 L973.1,228.7 L973.6,228.8 L974.2,228.9 L974.8,229.0 L975.3,229.1 L975.9,229.2 L976.5,229.3 L977.1,229.5 L977.7,229.6 L978.3,229.8 L978.9,229.9 L979.6,230.0 L980.4,229.8 L980.7,230.5 L980.9,231.2 L981.2,231.8 L981.6,232.4 L981.9,232.9 L982.2,233.4 L982.5,233.9 L982.8,234.4 L983.1,234.9 L983.4,235.4 L983.7,235.9 L984.0,236.4 L984.3,236.9 L984.6,237.3 L984.9,237.8 L985.2,238.3 L985.5,238.8 L985.7,239.3 L986.0,239.8 L986.3,240.3 L986.6,240.8 L987.3,241.1 L987.7,241.6 L987.0,242.4 L986.9,243.0 L986.9,243.6 L986.9,244.2 L987.0,244.7 L987.1,245.3 L987.2,245.8 L987.3,246.3 L987.4,246.9 L987.5,247.4Z" fill="#df8c8f" stroke="#a95a60" stroke-width="1.3" stroke-linejoin="round"/><g fill="#cb7479"><circle cx="971.7" cy="258.0" r="1.1"/><circle cx="965.2" cy="250.3" r="1.1"/><circle cx="973.4" cy="245.6" r="1.1"/><circle cx="978.2" cy="237.2" r="1.1"/><circle cx="960.2" cy="262.3" r="1.1"/><circle cx="954.9" cy="251.5" r="1.1"/><circle cx="979.4" cy="252.0" r="1.1"/><circle cx="956.9" cy="235.2" r="1.1"/><circle cx="962.5" cy="242.1" r="1.1"/></g><path d="M963.3,245.0 L963.4,245.5 L963.4,246.1 L963.4,246.6 L963.4,247.1 L963.4,247.6 L963.3,248.2 L963.1,248.7 L963.0,249.2 L962.9,249.7 L962.8,250.2 L963.0,250.9 L963.6,251.6 L962.5,251.8 L962.0,252.2 L961.7,252.6 L961.5,253.1 L961.2,253.6 L961.0,254.0 L960.7,254.5 L960.4,254.9 L960.1,255.3 L959.7,255.7 L959.4,256.1 L959.0,256.4 L958.6,256.8 L958.2,257.1 L957.8,257.4 L957.4,257.7 L957.0,258.1 L956.8,258.6 L956.8,259.4 L956.0,259.3 L955.5,259.4 L955.0,259.7 L954.6,260.0 L954.2,260.3 L953.8,260.6 L953.4,260.9 L952.9,261.2 L952.5,261.4 L952.0,261.5 L951.5,261.7 L951.0,261.8 L950.6,262.1 L950.2,262.8 L949.5,262.0 L948.9,261.7 L948.3,261.5 L947.8,261.4 L947.4,261.4 L946.9,261.4 L946.4,261.4 L945.9,261.5 L945.5,261.6 L945.0,261.8 L944.5,262.0 L944.0,262.2 L943.5,262.4 L943.0,262.6 L942.5,262.7 L941.9,262.8 L941.4,262.9 L940.8,262.9 L940.3,262.8 L939.8,262.7 L939.3,262.6 L938.8,262.4 L938.3,262.2 L937.8,262.0 L937.3,261.9 L936.7,261.9 L935.7,262.6 L935.8,261.3 L935.5,260.7 L935.2,260.3 L934.8,260.0 L934.3,259.7 L933.9,259.4 L933.5,259.1 L933.1,258.8 L932.7,258.4 L932.3,258.1 L931.9,257.7 L931.6,257.3 L931.2,256.9 L930.9,256.5 L930.6,256.1 L930.3,255.7 L929.9,255.3 L929.6,254.9 L929.3,254.5 L929.0,254.1 L928.6,253.6 L928.3,253.2 L927.9,252.8 L927.6,252.4 L927.2,251.9 L926.9,251.4 L926.6,251.0 L926.2,250.5 L925.6,250.1 L925.1,249.6 L925.7,248.9 L925.9,248.3 L926.1,247.7 L926.2,247.2 L926.3,246.6 L926.4,246.1 L926.6,245.5 L926.7,245.0 L926.9,244.5 L927.0,244.0 L927.2,243.5 L927.3,243.0 L927.4,242.5 L927.5,242.0 L927.6,241.5 L927.8,241.0 L927.9,240.5 L928.0,240.0 L928.2,239.5 L928.4,239.1 L928.6,238.6 L928.7,238.1 L928.9,237.6 L928.7,237.0 L929.0,236.5 L929.7,236.3 L930.1,236.0 L930.4,235.6 L930.7,235.2 L931.0,234.8 L931.3,234.4 L931.6,234.0 L931.8,233.6 L932.1,233.2 L932.4,232.8 L932.7,232.4 L933.1,232.0 L933.5,231.7 L933.9,231.4 L934.3,231.1 L934.7,230.8 L935.2,230.6 L935.6,230.4 L936.1,230.2 L936.5,230.0 L937.0,229.8 L937.4,229.6 L937.9,229.4 L938.3,229.1 L938.7,228.9 L939.1,228.6 L939.6,228.2 L940.0,227.9 L940.4,227.5 L940.9,227.2 L941.3,226.9 L941.8,226.5 L942.3,226.0 L942.7,225.0 L943.3,225.6 L943.9,226.0 L944.5,226.1 L945.0,226.3 L945.5,226.5 L946.0,226.7 L946.6,226.9 L947.0,227.1 L947.5,227.4 L948.0,227.6 L948.5,227.8 L949.0,228.0 L949.4,228.1 L949.9,228.3 L950.4,228.4 L950.9,228.5 L951.4,228.5 L951.9,228.6 L952.4,228.7 L952.9,228.8 L953.5,229.0 L954.0,229.1 L954.5,229.3 L955.0,229.5 L955.5,229.6 L956.4,229.4 L956.8,229.7 L956.8,230.5 L957.1,231.0 L957.5,231.4 L957.8,231.8 L958.2,232.1 L958.6,232.5 L959.0,232.9 L959.4,233.3 L959.7,233.7 L960.0,234.1 L960.3,234.5 L960.6,235.0 L960.9,235.4 L961.1,235.9 L961.2,236.4 L961.4,237.0 L961.5,237.5 L961.5,238.0 L961.6,238.5 L961.7,239.1 L961.7,239.6 L961.8,240.1 L961.9,240.6 L962.0,241.1 L962.1,241.5 L962.3,242.0 L962.4,242.5 L962.6,243.0 L962.8,243.5 L963.0,244.0 L963.1,244.5Z" fill="#df8c8f" stroke="#a95a60" stroke-width="1.3" stroke-linejoin="round"/><g fill="#cb7479"><circle cx="941.7" cy="257.2" r="1.1"/><circle cx="937.1" cy="246.6" r="1.1"/><circle cx="949.9" cy="245.0" r="1.1"/><circle cx="945.6" cy="237.0" r="1.1"/><circle cx="953.8" cy="255.1" r="1.1"/><circle cx="955.1" cy="234.2" r="1.1"/><circle cx="930.6" cy="239.7" r="1.1"/></g><path d="M1016.3,243.0 L1016.3,243.6 L1016.2,244.2 L1016.0,244.8 L1015.8,245.4 L1015.6,246.0 L1015.4,246.5 L1015.2,247.1 L1014.9,247.6 L1014.7,248.2 L1014.5,248.7 L1014.4,249.3 L1014.2,249.8 L1014.0,250.4 L1013.8,251.0 L1013.7,251.5 L1013.5,252.1 L1013.2,252.6 L1013.0,253.1 L1012.7,253.7 L1012.4,254.2 L1012.0,254.6 L1011.6,255.1 L1011.2,255.5 L1010.8,255.9 L1010.3,256.3 L1009.9,256.7 L1009.6,257.2 L1009.5,257.9 L1009.3,258.6 L1008.3,258.4 L1007.7,258.5 L1007.1,258.7 L1006.6,259.0 L1006.2,259.3 L1005.7,259.6 L1005.2,259.8 L1004.6,260.1 L1004.1,260.3 L1003.6,260.5 L1003.0,260.6 L1002.5,260.7 L1002.0,260.9 L1001.4,261.0 L1000.9,261.1 L1000.3,261.2 L999.8,261.4 L999.3,261.5 L998.8,261.7 L998.3,262.0 L997.8,262.2 L997.2,262.5 L996.7,262.7 L996.1,263.0 L995.6,263.2 L995.0,263.3 L994.4,263.5 L993.8,263.5 L993.2,263.5 L992.6,263.5 L992.1,263.5 L991.4,263.6 L990.7,264.3 L990.3,263.3 L989.9,262.4 L989.5,261.9 L989.0,261.4 L988.5,261.1 L988.1,260.8 L987.6,260.5 L987.1,260.3 L986.6,260.0 L986.1,259.9 L985.6,259.7 L985.0,259.6 L984.5,259.4 L983.9,259.2 L983.3,259.1 L982.8,258.8 L982.3,258.6 L981.7,258.3 L981.3,258.0 L980.8,257.6 L980.4,257.2 L979.9,256.8 L979.4,256.5 L978.7,256.3 L977.7,256.4 L978.1,255.3 L978.1,254.6 L977.9,254.0 L977.6,253.5 L977.3,253.0 L977.0,252.5 L976.8,252.0 L976.5,251.5 L976.3,250.9 L976.1,250.4 L975.9,249.8 L975.8,249.2 L975.7,248.7 L975.6,248.1 L975.5,247.5 L975.4,247.0 L974.9,246.5 L973.7,246.1 L975.0,245.3 L975.4,244.7 L975.6,244.1 L975.6,243.6 L975.5,243.0 L975.5,242.4 L975.4,241.9 L975.3,241.3 L975.2,240.7 L975.1,240.1 L975.1,239.5 L975.0,239.0 L975.1,238.4 L975.1,237.8 L975.2,237.2 L975.4,236.6 L975.6,236.1 L975.9,235.5 L976.1,235.0 L976.4,234.5 L976.7,234.0 L977.1,233.5 L977.4,233.0 L977.7,232.6 L978.0,232.1 L978.3,231.6 L978.6,231.1 L978.9,230.6 L979.2,230.1 L979.6,229.6 L979.9,229.2 L980.3,228.7 L980.7,228.3 L981.1,227.8 L981.5,227.4 L981.9,227.0 L982.2,226.4 L982.3,225.5 L983.1,225.5 L983.8,225.6 L984.4,225.4 L984.9,225.2 L985.4,224.9 L986.0,224.6 L986.5,224.3 L987.0,224.0 L987.5,223.8 L988.1,223.5 L988.6,223.3 L989.2,223.1 L989.7,222.8 L990.2,222.4 L990.7,221.7 L991.5,222.6 L992.1,223.0 L992.7,223.3 L993.3,223.5 L993.9,223.7 L994.5,223.9 L995.0,224.1 L995.5,224.3 L996.1,224.4 L996.6,224.5 L997.1,224.6 L997.7,224.6 L998.2,224.5 L998.8,224.5 L999.3,224.4 L999.9,224.3 L1000.5,224.3 L1001.1,224.3 L1001.7,224.3 L1002.2,224.4 L1002.8,224.5 L1003.3,224.7 L1003.9,225.0 L1004.3,225.3 L1004.8,225.6 L1005.2,226.0 L1005.7,226.4 L1006.1,226.8 L1006.6,227.1 L1007.3,227.1 L1007.7,227.4 L1007.7,228.3 L1008.0,228.9 L1008.3,229.3 L1008.7,229.7 L1009.1,230.0 L1009.5,230.4 L1009.9,230.8 L1010.3,231.2 L1010.7,231.6 L1011.1,232.0 L1011.5,232.4 L1011.8,232.9 L1012.1,233.3 L1012.4,233.8 L1012.7,234.3 L1013.0,234.8 L1013.2,235.3 L1013.5,235.8 L1013.8,236.3 L1014.1,236.8 L1014.5,237.3 L1014.9,237.8 L1015.5,238.2 L1016.6,238.6 L1016.2,239.3 L1016.1,240.0 L1016.1,240.6 L1016.2,241.2 L1016.3,241.8 L1016.4,242.4Z" fill="#f6a9aa" stroke="#c06c72" stroke-width="1.3" stroke-linejoin="round"/><g fill="#e58d90"><circle cx="997.4" cy="233.7" r="1.1"/><circle cx="992.3" cy="253.9" r="1.1"/><circle cx="985.2" cy="240.4" r="1.1"/><circle cx="980.3" cy="250.4" r="1.1"/><circle cx="1005.6" cy="246.5" r="1.1"/><circle cx="998.9" cy="241.9" r="1.1"/><circle cx="1007.7" cy="234.8" r="1.1"/><circle cx="1000.6" cy="253.2" r="1.1"/><circle cx="986.4" cy="230.7" r="1.1"/></g><path d="M973.9,212.0 L973.9,212.8 L974.0,213.7 L974.2,214.5 L974.6,215.4 L975.7,216.4 L975.5,217.3 L974.4,218.0 L973.9,218.7 L973.6,219.5 L973.4,220.3 L973.1,221.1 L972.7,221.9 L972.3,222.6 L971.9,223.4 L971.4,224.1 L971.0,224.8 L970.6,225.5 L970.3,226.3 L970.0,227.1 L969.8,227.9 L969.7,228.9 L969.6,229.9 L969.8,231.2 L969.9,232.3 L968.9,232.7 L968.3,233.4 L967.7,234.1 L967.1,234.7 L966.4,235.3 L965.6,235.7 L964.7,236.1 L963.8,236.4 L962.9,236.6 L961.9,236.8 L961.0,236.9 L960.1,237.1 L959.3,237.3 L958.5,237.5 L957.7,237.8 L956.9,238.1 L956.2,238.5 L955.5,238.9 L954.7,239.2 L954.0,239.6 L953.2,239.8 L952.4,240.1 L951.6,240.2 L950.7,240.3 L949.9,240.4 L949.1,240.4 L948.3,240.4 L947.4,240.4 L946.6,240.3 L945.8,240.3 L945.0,240.3 L944.2,240.3 L943.4,240.3 L942.6,240.2 L941.8,240.1 L941.0,240.0 L940.2,239.9 L939.4,239.7 L938.6,239.5 L937.7,239.7 L936.8,239.8 L936.4,238.5 L935.8,237.8 L935.1,237.3 L934.5,236.9 L933.8,236.6 L933.0,236.4 L932.2,236.2 L931.4,236.0 L930.6,235.9 L929.8,235.7 L928.9,235.5 L928.1,235.2 L927.3,234.9 L926.6,234.5 L925.9,234.1 L925.2,233.6 L924.4,233.2 L923.2,233.1 L921.6,233.5 L922.4,231.5 L922.5,230.4 L922.2,229.6 L921.8,228.8 L921.4,228.2 L920.9,227.5 L920.4,226.8 L920.0,226.1 L919.5,225.4 L919.1,224.7 L918.8,224.0 L918.5,223.2 L918.2,222.4 L918.0,221.6 L917.8,220.8 L917.6,220.0 L917.4,219.3 L917.2,218.5 L916.9,217.7 L916.4,216.9 L915.7,216.2 L914.4,215.5 L914.4,214.6 L914.6,213.7 L914.4,212.9 L914.1,212.0 L913.9,211.1 L913.8,210.2 L913.8,209.3 L913.9,208.4 L914.2,207.6 L914.5,206.7 L915.0,205.9 L915.5,205.1 L916.0,204.4 L916.5,203.6 L917.0,202.9 L917.5,202.2 L917.9,201.5 L918.3,200.7 L918.7,200.0 L919.0,199.2 L919.3,198.5 L919.7,197.7 L920.0,196.9 L920.4,196.2 L920.8,195.5 L921.2,194.7 L921.6,193.9 L921.6,192.9 L922.0,192.1 L923.3,192.1 L924.1,191.7 L924.8,191.2 L925.5,190.7 L926.1,190.2 L926.7,189.7 L927.4,189.1 L928.0,188.7 L928.7,188.2 L929.4,187.8 L930.2,187.4 L930.9,187.1 L931.7,186.8 L932.5,186.6 L933.3,186.3 L934.0,186.1 L934.8,185.8 L935.5,185.5 L936.3,185.1 L937.0,184.7 L937.7,184.3 L938.4,183.8 L939.2,183.3 L939.9,182.8 L940.7,182.4 L941.6,182.0 L942.4,181.8 L943.3,181.6 L944.1,181.6 L945.0,181.7 L945.9,181.9 L946.7,182.2 L947.5,182.5 L948.4,182.8 L949.2,182.8 L950.2,182.1 L950.8,183.4 L951.4,184.3 L952.2,184.7 L952.9,185.1 L953.7,185.3 L954.4,185.5 L955.2,185.7 L956.0,185.9 L956.9,186.0 L957.8,185.9 L959.3,184.9 L959.3,186.6 L959.7,187.6 L960.3,188.2 L960.9,188.7 L961.6,189.2 L962.2,189.6 L962.9,190.1 L963.7,190.4 L964.4,190.8 L965.2,191.2 L965.9,191.7 L966.6,192.1 L967.3,192.7 L967.9,193.3 L968.5,193.9 L968.9,194.6 L969.3,195.4 L969.6,196.2 L969.8,197.0 L970.0,197.9 L970.1,198.7 L970.3,199.6 L970.5,200.4 L970.7,201.2 L970.9,201.9 L971.2,202.6 L971.5,203.4 L971.9,204.1 L972.3,204.8 L972.6,205.6 L973.0,206.3 L973.2,207.1 L973.5,207.9 L973.6,208.7 L973.8,209.5 L973.8,210.4 L973.9,211.2Z" fill="#f6a9aa" stroke="#c06c72" stroke-width="1.3" stroke-linejoin="round"/><g fill="#e58d90"><circle cx="938.5" cy="228.3" r="1.1"/><circle cx="962.2" cy="195.7" r="1.1"/><circle cx="950.5" cy="208.8" r="1.1"/><circle cx="953.9" cy="226.4" r="1.1"/><circle cx="948.3" cy="193.9" r="1.1"/><circle cx="942.4" cy="218.3" r="1.1"/><circle cx="938.9" cy="208.3" r="1.1"/><circle cx="923.2" cy="221.6" r="1.1"/><circle cx="959.6" cy="206.4" r="1.1"/><circle cx="939.7" cy="199.2" r="1.1"/><circle cx="964.1" cy="219.6" r="1.1"/><circle cx="955.4" cy="234.5" r="1.1"/><circle cx="927.8" cy="193.9" r="1.1"/><circle cx="922.7" cy="208.9" r="1.1"/><circle cx="940.1" cy="188.3" r="1.1"/><circle cx="969.1" cy="206.5" r="1.1"/><circle cx="931.8" cy="223.3" r="1.1"/><circle cx="936.8" cy="236.2" r="1.1"/><circle cx="930.5" cy="204.3" r="1.1"/><circle cx="946.6" cy="234.0" r="1.1"/></g><path d="M963.9,213.0 L963.6,213.9 L963.4,214.7 L963.2,215.6 L962.9,216.4 L962.8,217.3 L962.6,218.1 L962.3,219.0 L961.9,219.8 L961.3,220.5 L960.5,221.0 L959.7,221.4 L958.8,221.7 L958.0,222.0 L957.3,222.3 L956.7,222.8 L956.1,223.5 L955.5,224.2 L954.8,224.8 L954.1,225.5 L953.3,226.0 L952.4,226.4 L951.5,226.7 L950.5,227.0 L949.5,227.2 L948.5,227.3 L947.4,227.3 L946.5,226.9 L945.6,226.4 L944.8,225.6 L944.2,224.8 L943.6,224.0 L943.0,223.2 L942.4,222.5 L941.7,221.9 L941.1,221.3 L940.4,220.7 L939.8,220.0 L939.3,219.2 L938.9,218.4 L938.7,217.5 L938.4,216.6 L938.3,215.7 L938.2,214.8 L938.2,213.9 L938.3,213.0 L938.5,212.1 L938.8,211.3 L939.1,210.5 L939.3,209.7 L939.5,208.8 L939.6,207.9 L939.8,207.0 L940.0,206.1 L940.4,205.3 L941.0,204.6 L941.7,204.0 L942.4,203.5 L943.2,203.0 L943.9,202.5 L944.6,202.0 L945.3,201.4 L946.1,200.9 L946.9,200.5 L947.8,200.3 L948.7,200.2 L949.7,200.3 L950.6,200.3 L951.4,200.4 L952.3,200.4 L953.2,200.4 L954.1,200.4 L955.0,200.5 L955.9,200.8 L956.7,201.2 L957.5,201.7 L958.3,202.2 L959.1,202.6 L960.0,203.0 L960.9,203.5 L961.7,204.0 L962.5,204.7 L963.1,205.5 L963.5,206.3 L963.8,207.3 L963.9,208.3 L964.0,209.3 L964.1,210.2 L964.1,211.2 L964.0,212.1Z" fill="#dc7d80" stroke="#c9696e" stroke-width="1"/><path d="M1034.7,200.0 L1034.6,201.0 L1034.4,202.1 L1034.0,203.1 L1033.6,204.1 L1033.3,205.1 L1033.0,206.1 L1032.7,207.0 L1032.5,208.0 L1032.4,209.0 L1032.4,210.1 L1032.8,211.3 L1032.3,212.2 L1031.0,212.9 L1030.3,213.6 L1029.8,214.5 L1029.9,215.7 L1030.8,217.3 L1028.7,217.3 L1027.8,218.0 L1027.3,218.8 L1027.0,219.9 L1026.8,220.9 L1026.5,222.0 L1026.1,222.9 L1025.5,223.8 L1024.8,224.6 L1023.9,225.2 L1022.9,225.6 L1021.9,226.0 L1020.8,226.4 L1019.8,226.7 L1018.9,227.1 L1017.9,227.5 L1017.1,227.9 L1016.2,228.4 L1015.4,228.8 L1014.5,229.3 L1013.7,229.7 L1012.7,230.0 L1011.8,230.3 L1010.9,230.5 L1010.0,230.8 L1009.1,231.2 L1008.3,231.6 L1007.4,232.0 L1006.5,232.5 L1005.7,233.0 L1004.8,233.4 L1003.8,233.7 L1002.9,233.9 L1001.9,233.9 L1000.9,233.7 L999.9,233.3 L998.9,233.0 L998.0,232.6 L997.1,232.4 L996.2,232.3 L995.2,232.4 L994.2,232.7 L993.2,233.1 L992.2,233.6 L991.1,234.0 L990.0,234.4 L988.9,234.7 L987.7,235.1 L986.4,235.8 L984.8,237.0 L984.5,234.7 L983.8,233.5 L983.0,232.8 L982.2,232.2 L981.3,231.7 L980.3,231.3 L979.4,230.8 L978.5,230.3 L977.6,229.8 L976.8,229.2 L976.0,228.5 L975.3,227.8 L974.6,227.1 L973.8,226.3 L973.0,225.7 L972.2,225.1 L971.3,224.5 L970.4,224.0 L969.4,223.4 L968.5,222.8 L967.6,222.1 L966.6,221.4 L965.4,221.0 L965.2,219.8 L965.7,218.3 L965.9,217.0 L965.9,215.8 L965.9,214.6 L965.8,213.6 L965.6,212.6 L965.3,211.7 L964.9,210.8 L964.3,209.9 L963.6,209.1 L962.3,208.3 L961.7,207.4 L962.5,206.1 L962.8,205.1 L962.8,204.0 L962.8,203.0 L962.7,202.0 L962.6,201.0 L962.4,200.0 L962.1,199.0 L961.9,197.9 L961.8,196.9 L961.8,195.8 L962.0,194.8 L962.4,193.8 L962.9,192.9 L963.6,192.0 L964.3,191.2 L965.1,190.3 L965.8,189.5 L966.4,188.7 L966.9,187.9 L967.2,187.0 L967.5,186.1 L967.8,185.1 L968.0,184.2 L968.3,183.2 L968.6,182.3 L968.7,181.2 L968.2,179.6 L969.8,179.5 L970.9,179.1 L971.7,178.5 L972.3,177.7 L972.9,176.9 L973.4,176.1 L974.0,175.3 L974.6,174.5 L975.3,173.8 L976.1,173.2 L977.0,172.8 L978.0,172.4 L979.0,172.2 L980.0,171.9 L980.9,171.6 L981.8,171.3 L982.6,170.7 L983.3,170.1 L984.0,169.2 L984.6,168.4 L985.3,167.4 L986.1,166.6 L986.9,165.8 L987.8,165.2 L988.8,164.8 L989.8,164.6 L990.8,164.3 L991.7,163.9 L992.6,162.6 L993.8,163.6 L994.9,164.4 L996.0,164.7 L997.0,164.8 L998.0,164.8 L999.0,164.9 L1000.0,165.0 L1001.0,165.1 L1002.0,165.4 L1002.9,165.6 L1003.9,165.8 L1004.9,166.0 L1005.9,166.2 L1006.9,166.3 L1007.9,166.3 L1008.9,166.4 L1010.0,166.5 L1011.0,166.7 L1011.9,167.0 L1012.8,167.6 L1013.6,168.3 L1014.3,169.1 L1014.9,170.0 L1015.5,170.9 L1016.2,171.7 L1017.0,172.2 L1018.1,172.3 L1020.1,171.3 L1020.2,172.8 L1020.7,173.8 L1021.5,174.4 L1022.4,174.8 L1023.4,175.3 L1024.3,175.9 L1025.1,176.5 L1025.8,177.3 L1026.4,178.1 L1027.0,178.9 L1027.6,179.8 L1028.2,180.6 L1028.7,181.5 L1029.3,182.3 L1029.9,183.2 L1030.4,184.1 L1030.9,185.0 L1031.2,186.0 L1031.4,187.0 L1031.4,188.1 L1031.5,189.1 L1031.5,190.2 L1031.6,191.2 L1031.8,192.1 L1032.1,193.1 L1032.5,194.0 L1033.0,195.0 L1033.5,195.9 L1034.0,196.9 L1034.4,197.9 L1034.7,199.0Z" fill="#fbbcbd" stroke="#c87a7e" stroke-width="1.3" stroke-linejoin="round"/><g fill="#eda1a3"><circle cx="1003.4" cy="187.2" r="1.1"/><circle cx="1004.0" cy="214.4" r="1.1"/><circle cx="971.2" cy="202.7" r="1.1"/><circle cx="992.8" cy="177.2" r="1.1"/><circle cx="990.4" cy="220.3" r="1.1"/><circle cx="974.0" cy="217.3" r="1.1"/><circle cx="1021.2" cy="187.7" r="1.1"/><circle cx="993.8" cy="185.6" r="1.1"/><circle cx="1021.3" cy="203.8" r="1.1"/><circle cx="979.9" cy="199.2" r="1.1"/><circle cx="1006.6" cy="177.0" r="1.1"/><circle cx="998.5" cy="200.2" r="1.1"/><circle cx="1007.5" cy="223.9" r="1.1"/><circle cx="988.8" cy="202.3" r="1.1"/><circle cx="1014.3" cy="219.4" r="1.1"/><circle cx="982.2" cy="207.3" r="1.1"/><circle cx="976.6" cy="192.1" r="1.1"/><circle cx="1001.0" cy="171.1" r="1.1"/><circle cx="997.3" cy="224.4" r="1.1"/><circle cx="1010.8" cy="207.9" r="1.1"/><circle cx="986.5" cy="188.7" r="1.1"/><circle cx="1012.8" cy="198.7" r="1.1"/><circle cx="1014.8" cy="181.0" r="1.1"/><circle cx="981.1" cy="174.6" r="1.1"/><circle cx="973.6" cy="181.8" r="1.1"/><circle cx="1018.9" cy="211.4" r="1.1"/><circle cx="992.7" cy="212.8" r="1.1"/><circle cx="1011.3" cy="188.0" r="1.1"/><circle cx="1025.2" cy="194.8" r="1.1"/></g><path d="M1019.8,200.0 L1019.7,201.1 L1019.6,202.2 L1019.5,203.3 L1019.1,204.3 L1018.6,205.3 L1017.9,206.2 L1017.1,206.9 L1016.2,207.6 L1015.5,208.3 L1014.8,209.1 L1014.2,209.9 L1013.6,210.7 L1012.9,211.5 L1012.1,212.0 L1011.2,212.4 L1010.1,212.5 L1009.1,212.6 L1008.1,212.6 L1007.2,212.7 L1006.3,213.0 L1005.4,213.4 L1004.5,213.9 L1003.5,214.3 L1002.5,214.7 L1001.4,214.9 L1000.3,215.0 L999.1,215.0 L998.0,214.9 L996.8,214.7 L995.7,214.4 L994.7,213.8 L993.8,213.1 L993.1,212.1 L992.6,211.0 L992.2,209.9 L991.9,208.8 L991.5,207.8 L991.0,206.9 L990.5,206.0 L989.9,205.1 L989.5,204.2 L989.1,203.2 L988.9,202.1 L988.8,201.1 L988.7,200.0 L988.6,198.9 L988.6,197.8 L988.8,196.8 L989.1,195.7 L989.7,194.8 L990.4,194.0 L991.3,193.2 L992.1,192.6 L992.8,191.9 L993.3,191.1 L993.8,190.1 L994.2,189.1 L994.7,188.1 L995.4,187.3 L996.3,186.6 L997.3,186.2 L998.3,185.9 L999.4,185.8 L1000.4,185.7 L1001.5,185.6 L1002.5,185.5 L1003.5,185.4 L1004.5,185.5 L1005.5,185.7 L1006.5,186.0 L1007.4,186.3 L1008.3,186.6 L1009.3,186.9 L1010.3,187.1 L1011.3,187.3 L1012.4,187.6 L1013.3,188.0 L1014.2,188.7 L1015.0,189.4 L1015.7,190.2 L1016.4,191.0 L1017.1,191.8 L1017.8,192.6 L1018.5,193.5 L1019.1,194.5 L1019.6,195.5 L1019.8,196.6 L1019.9,197.8 L1019.9,198.9Z" fill="#d98c8e" stroke="#c97c80" stroke-width="1"/><path d="M1056.4,235.0 L1056.1,235.8 L1055.8,236.6 L1055.4,237.3 L1054.9,238.1 L1054.5,238.8 L1054.0,239.5 L1053.7,240.2 L1053.4,240.9 L1053.2,241.6 L1053.0,242.3 L1053.0,243.1 L1053.0,243.9 L1053.0,244.7 L1053.0,245.6 L1053.1,246.4 L1053.0,247.3 L1052.9,248.1 L1052.8,249.0 L1052.7,249.9 L1053.0,251.1 L1053.5,252.5 L1051.6,252.1 L1050.5,252.4 L1049.7,252.8 L1049.0,253.2 L1048.4,253.7 L1047.8,254.2 L1047.2,254.8 L1046.6,255.3 L1046.1,255.9 L1045.5,256.4 L1045.0,257.0 L1044.4,257.6 L1043.8,258.1 L1043.1,258.6 L1042.5,259.0 L1041.8,259.4 L1041.1,259.8 L1040.4,260.2 L1039.6,260.5 L1038.9,260.8 L1038.2,261.1 L1037.4,261.4 L1036.7,261.7 L1035.9,262.1 L1035.2,262.3 L1034.4,262.6 L1033.6,262.8 L1032.8,262.9 L1032.0,263.0 L1031.2,262.9 L1030.4,262.8 L1029.6,262.7 L1028.8,262.4 L1028.0,262.2 L1027.2,261.9 L1026.5,261.8 L1025.7,261.8 L1024.9,262.4 L1024.1,262.3 L1023.4,261.6 L1022.7,261.3 L1021.9,261.3 L1021.1,261.4 L1020.2,261.4 L1019.4,261.5 L1018.5,261.5 L1017.7,261.4 L1016.9,261.3 L1016.1,261.0 L1015.3,260.7 L1014.6,260.4 L1013.9,260.0 L1013.2,259.5 L1012.5,259.1 L1011.9,258.6 L1011.2,258.2 L1010.5,257.7 L1009.8,257.2 L1009.2,256.7 L1008.5,256.2 L1007.9,255.7 L1007.4,255.1 L1006.8,254.4 L1006.4,253.7 L1006.0,253.0 L1005.6,252.2 L1005.3,251.5 L1005.1,250.7 L1004.8,249.9 L1004.4,249.2 L1004.0,248.6 L1003.1,248.1 L1001.9,247.8 L1002.4,246.7 L1002.3,245.9 L1001.8,245.2 L1001.3,244.5 L1000.8,243.9 L1000.2,243.2 L999.8,242.4 L999.4,241.7 L999.1,240.9 L998.9,240.0 L998.7,239.2 L998.7,238.4 L998.8,237.5 L998.9,236.7 L999.0,235.8 L999.1,235.0 L999.3,234.2 L999.4,233.4 L999.5,232.6 L999.6,231.7 L999.7,230.9 L999.9,230.1 L1000.0,229.3 L1000.1,228.5 L1000.3,227.7 L1000.2,226.8 L999.7,225.8 L1000.8,225.3 L1001.5,224.7 L1002.0,224.0 L1002.4,223.3 L1002.8,222.6 L1003.2,221.9 L1003.6,221.2 L1003.9,220.5 L1004.2,219.7 L1004.4,218.9 L1004.2,217.7 L1004.6,217.0 L1006.0,217.0 L1007.0,216.8 L1007.8,216.5 L1008.6,216.1 L1009.4,215.9 L1010.2,215.6 L1011.0,215.3 L1011.7,215.1 L1012.4,214.8 L1013.1,214.4 L1013.7,214.0 L1014.2,213.5 L1014.7,213.0 L1015.2,212.4 L1015.7,211.7 L1016.2,211.1 L1016.8,210.4 L1017.3,209.8 L1018.0,209.2 L1018.6,208.7 L1019.3,208.4 L1020.1,208.1 L1020.9,207.8 L1021.6,207.6 L1022.4,207.3 L1023.1,206.5 L1023.9,206.4 L1024.8,207.2 L1025.6,207.4 L1026.4,207.5 L1027.2,207.4 L1028.0,207.4 L1028.8,207.3 L1029.6,207.2 L1030.4,207.2 L1031.2,207.2 L1032.0,207.3 L1032.8,207.4 L1033.6,207.6 L1034.3,207.8 L1035.1,208.0 L1035.9,208.2 L1036.6,208.5 L1037.4,208.6 L1038.2,208.8 L1039.0,208.9 L1039.9,209.0 L1040.8,208.9 L1042.0,208.4 L1043.4,207.8 L1043.6,209.2 L1044.2,209.9 L1044.8,210.4 L1045.5,210.9 L1046.1,211.5 L1046.7,212.1 L1047.2,212.8 L1047.7,213.5 L1048.2,214.2 L1048.6,215.0 L1049.0,215.7 L1049.5,216.4 L1049.9,217.1 L1050.4,217.7 L1050.9,218.3 L1051.4,219.0 L1052.0,219.6 L1052.5,220.2 L1053.0,220.9 L1053.4,221.6 L1053.8,222.3 L1054.2,223.1 L1054.5,223.8 L1054.8,224.6 L1055.2,225.3 L1055.9,225.9 L1057.5,226.3 L1056.7,227.5 L1056.2,228.5 L1056.1,229.3 L1056.2,230.1 L1056.4,230.9 L1056.5,231.7 L1056.6,232.5 L1056.6,233.4 L1056.5,234.2Z" fill="#f6a9aa" stroke="#c06c72" stroke-width="1.3" stroke-linejoin="round"/><g fill="#e58d90"><circle cx="1016.8" cy="245.5" r="1.1"/><circle cx="1039.8" cy="244.9" r="1.1"/><circle cx="1024.6" cy="255.5" r="1.1"/><circle cx="1034.3" cy="233.6" r="1.1"/><circle cx="1033.2" cy="217.6" r="1.1"/><circle cx="1029.8" cy="246.1" r="1.1"/><circle cx="1018.7" cy="230.3" r="1.1"/><circle cx="1051.2" cy="237.9" r="1.1"/><circle cx="1005.9" cy="242.9" r="1.1"/><circle cx="1013.0" cy="237.0" r="1.1"/><circle cx="1011.7" cy="224.4" r="1.1"/><circle cx="1043.4" cy="220.7" r="1.1"/><circle cx="1024.0" cy="213.4" r="1.1"/><circle cx="1014.4" cy="216.3" r="1.1"/><circle cx="1029.5" cy="227.2" r="1.1"/><circle cx="1043.5" cy="228.8" r="1.1"/><circle cx="1004.4" cy="230.1" r="1.1"/><circle cx="1034.4" cy="255.1" r="1.1"/></g><path d="M1034.4,237.0 L1034.6,237.9 L1034.7,238.8 L1034.8,239.7 L1034.8,240.7 L1034.7,241.6 L1034.4,242.5 L1033.9,243.3 L1033.4,244.1 L1032.7,244.8 L1032.2,245.5 L1031.6,246.3 L1031.1,247.1 L1030.5,247.9 L1029.8,248.6 L1029.0,249.1 L1028.1,249.5 L1027.2,249.8 L1026.2,249.9 L1025.2,250.0 L1024.3,250.1 L1023.4,250.2 L1022.5,250.2 L1021.5,250.2 L1020.6,250.0 L1019.8,249.6 L1019.0,249.1 L1018.2,248.6 L1017.5,248.1 L1016.8,247.7 L1016.0,247.3 L1015.3,247.0 L1014.6,246.5 L1013.9,246.0 L1013.3,245.4 L1012.8,244.7 L1012.4,244.0 L1011.9,243.3 L1011.4,242.6 L1010.9,242.0 L1010.2,241.3 L1009.6,240.5 L1009.1,239.7 L1008.6,238.9 L1008.3,238.0 L1008.1,237.0 L1007.9,236.0 L1007.9,235.0 L1008.0,234.0 L1008.2,233.1 L1008.7,232.1 L1009.3,231.3 L1010.0,230.6 L1010.8,230.0 L1011.5,229.4 L1012.1,228.7 L1012.7,228.0 L1013.2,227.2 L1013.7,226.4 L1014.4,225.7 L1015.1,225.1 L1016.0,224.7 L1016.9,224.5 L1017.9,224.4 L1018.9,224.4 L1019.8,224.5 L1020.7,224.5 L1021.6,224.6 L1022.4,224.7 L1023.3,224.9 L1024.1,225.2 L1024.9,225.5 L1025.6,225.8 L1026.4,226.0 L1027.3,226.1 L1028.3,226.1 L1029.3,226.2 L1030.3,226.4 L1031.2,226.8 L1031.9,227.4 L1032.5,228.2 L1032.9,229.1 L1033.2,230.0 L1033.4,230.9 L1033.7,231.8 L1033.9,232.7 L1034.0,233.6 L1034.2,234.4 L1034.2,235.3 L1034.3,236.1Z" fill="#dc7d80" stroke="#c9696e" stroke-width="1"/><path d="M1061.6,275.0 L1062.2,275.7 L1061.4,276.4 L1061.2,277.1 L1061.2,277.8 L1061.3,278.6 L1061.3,279.3 L1061.3,280.0 L1061.2,280.8 L1061.1,281.5 L1061.0,282.2 L1060.7,282.9 L1060.5,283.6 L1060.2,284.2 L1059.8,284.9 L1059.5,285.5 L1059.1,286.1 L1058.8,286.8 L1058.6,287.5 L1058.7,288.4 L1059.5,289.7 L1057.8,289.6 L1056.9,289.8 L1056.3,290.3 L1055.8,290.7 L1055.2,291.2 L1054.7,291.7 L1054.2,292.2 L1053.6,292.6 L1053.1,293.0 L1052.5,293.5 L1051.9,293.9 L1051.3,294.2 L1050.8,294.6 L1050.2,295.0 L1049.6,295.5 L1049.1,295.9 L1048.5,296.3 L1048.0,296.7 L1047.4,297.1 L1046.8,297.5 L1046.2,297.9 L1045.6,298.3 L1044.9,298.6 L1044.2,298.8 L1043.5,299.0 L1042.9,299.2 L1042.2,299.4 L1041.5,299.7 L1040.9,300.6 L1040.2,300.4 L1039.3,299.5 L1038.6,299.1 L1037.9,298.9 L1037.2,298.8 L1036.5,298.8 L1035.8,298.8 L1035.1,298.8 L1034.5,298.8 L1033.8,298.9 L1033.1,299.0 L1032.3,299.0 L1031.6,299.1 L1030.9,299.1 L1030.2,299.1 L1029.5,299.0 L1028.8,298.8 L1028.1,298.7 L1027.4,298.4 L1026.7,298.1 L1026.1,297.8 L1025.5,297.4 L1024.9,297.1 L1024.3,296.6 L1023.7,296.2 L1023.1,295.8 L1022.6,295.4 L1022.0,294.9 L1021.5,294.5 L1020.9,294.0 L1020.4,293.6 L1019.9,293.1 L1019.4,292.6 L1018.9,292.1 L1018.4,291.6 L1017.7,291.3 L1016.6,291.3 L1017.1,290.0 L1017.2,289.0 L1017.1,288.3 L1016.9,287.6 L1016.8,286.9 L1016.6,286.2 L1016.4,285.6 L1016.2,285.0 L1015.9,284.4 L1015.6,283.8 L1015.2,283.3 L1014.8,282.7 L1014.4,282.2 L1014.0,281.6 L1013.5,281.0 L1013.0,280.5 L1012.6,279.8 L1012.2,279.2 L1011.8,278.5 L1011.4,277.9 L1010.8,277.2 L1009.5,276.5 L1010.4,275.7 L1011.1,275.0 L1011.4,274.3 L1011.7,273.6 L1011.9,272.9 L1012.1,272.2 L1012.3,271.5 L1012.6,270.9 L1012.8,270.2 L1012.9,269.5 L1013.1,268.9 L1013.3,268.2 L1013.4,267.5 L1013.6,266.8 L1013.7,266.1 L1013.9,265.4 L1014.1,264.8 L1014.3,264.1 L1014.5,263.4 L1014.8,262.7 L1015.1,262.1 L1015.4,261.4 L1015.7,260.8 L1016.1,260.2 L1016.5,259.6 L1016.9,259.0 L1017.3,258.4 L1017.7,257.7 L1018.0,257.0 L1018.1,256.1 L1018.2,255.0 L1019.3,255.2 L1020.1,254.9 L1020.7,254.5 L1021.3,254.1 L1021.9,253.7 L1022.6,253.4 L1023.3,253.0 L1024.0,252.8 L1024.7,252.6 L1025.4,252.4 L1026.1,252.2 L1026.8,252.0 L1027.5,251.9 L1028.2,251.8 L1028.9,251.6 L1029.6,251.4 L1030.2,251.2 L1030.9,251.0 L1031.6,250.8 L1032.3,250.6 L1033.0,250.4 L1033.7,250.2 L1034.4,250.0 L1035.1,249.9 L1035.8,249.8 L1036.5,249.8 L1037.2,249.9 L1037.9,250.1 L1038.6,250.3 L1039.3,250.5 L1040.0,250.8 L1040.6,251.2 L1041.3,251.5 L1041.9,251.8 L1042.6,252.0 L1043.3,251.8 L1044.1,251.6 L1044.4,252.8 L1044.9,253.4 L1045.5,253.8 L1046.1,254.1 L1046.7,254.3 L1047.3,254.6 L1047.9,254.9 L1048.5,255.2 L1049.1,255.4 L1049.7,255.7 L1050.5,255.8 L1051.6,255.4 L1051.6,256.6 L1051.9,257.3 L1052.3,257.8 L1052.8,258.3 L1053.3,258.7 L1053.8,259.1 L1054.4,259.5 L1054.9,259.9 L1055.5,260.3 L1056.1,260.7 L1056.7,261.2 L1057.3,261.6 L1057.9,262.1 L1058.4,262.6 L1058.9,263.2 L1059.3,263.8 L1059.7,264.4 L1060.0,265.1 L1060.2,265.8 L1060.3,266.5 L1060.4,267.2 L1060.4,268.0 L1060.4,268.7 L1060.3,269.5 L1060.3,270.2 L1060.2,270.9 L1060.2,271.6 L1060.2,272.3 L1060.2,273.0 L1060.4,273.6 L1060.8,274.3Z" fill="#df8c8f" stroke="#a95a60" stroke-width="1.3" stroke-linejoin="round"/><g fill="#cb7479"><circle cx="1025.7" cy="259.6" r="1.1"/><circle cx="1044.9" cy="264.3" r="1.1"/><circle cx="1050.6" cy="278.4" r="1.1"/><circle cx="1031.9" cy="271.2" r="1.1"/><circle cx="1039.1" cy="281.7" r="1.1"/><circle cx="1025.7" cy="293.1" r="1.1"/><circle cx="1022.5" cy="275.2" r="1.1"/><circle cx="1034.8" cy="293.3" r="1.1"/><circle cx="1021.1" cy="266.6" r="1.1"/><circle cx="1028.7" cy="285.6" r="1.1"/><circle cx="1042.1" cy="271.9" r="1.1"/><circle cx="1015.9" cy="280.1" r="1.1"/><circle cx="1037.5" cy="257.7" r="1.1"/><circle cx="1047.2" cy="293.2" r="1.1"/></g><path d="M1052.5,278.0 L1052.3,278.8 L1052.0,279.6 L1051.6,280.4 L1051.1,281.0 L1050.6,281.7 L1050.2,282.3 L1049.7,282.9 L1049.3,283.5 L1048.8,284.0 L1048.3,284.6 L1047.8,285.1 L1047.4,285.7 L1047.0,286.3 L1046.6,287.0 L1046.1,287.7 L1045.6,288.4 L1044.9,289.0 L1044.2,289.4 L1043.4,289.5 L1042.5,289.5 L1041.7,289.4 L1040.9,289.3 L1040.1,289.2 L1039.3,289.2 L1038.5,289.3 L1037.7,289.4 L1036.8,289.4 L1036.0,289.3 L1035.1,289.0 L1034.4,288.6 L1033.6,288.2 L1032.9,287.8 L1032.1,287.3 L1031.5,286.7 L1030.9,286.0 L1030.5,285.2 L1030.3,284.4 L1030.3,283.4 L1030.3,282.5 L1030.3,281.7 L1030.3,280.9 L1030.1,280.2 L1029.9,279.5 L1029.6,278.8 L1029.3,278.0 L1029.1,277.2 L1029.1,276.4 L1029.1,275.6 L1029.2,274.8 L1029.4,274.0 L1029.6,273.2 L1030.0,272.4 L1030.5,271.7 L1031.1,271.2 L1031.8,270.7 L1032.5,270.3 L1033.2,269.9 L1033.8,269.5 L1034.4,269.0 L1035.0,268.5 L1035.6,268.0 L1036.3,267.6 L1037.0,267.3 L1037.8,267.1 L1038.6,267.1 L1039.4,267.1 L1040.1,267.2 L1040.9,267.1 L1041.7,267.0 L1042.4,266.9 L1043.3,266.9 L1044.1,266.9 L1044.9,267.1 L1045.7,267.4 L1046.4,267.8 L1047.1,268.2 L1047.8,268.6 L1048.6,269.0 L1049.3,269.5 L1050.0,270.0 L1050.6,270.6 L1051.1,271.4 L1051.5,272.2 L1051.7,273.0 L1051.9,273.9 L1052.1,274.7 L1052.3,275.5 L1052.5,276.3 L1052.6,277.2Z" fill="#b65c62" stroke="#9e4c52" stroke-width="1"/><path d="M945.5,294.0 L945.3,294.8 L945.2,295.6 L945.1,296.3 L944.9,297.1 L944.9,297.9 L944.8,298.6 L944.9,299.4 L945.3,300.3 L945.2,301.1 L944.3,301.7 L943.8,302.4 L943.4,303.1 L943.0,303.8 L942.7,304.4 L942.4,305.1 L942.0,305.8 L941.7,306.5 L941.5,307.3 L941.2,308.0 L941.0,308.8 L940.8,309.6 L940.7,310.5 L940.7,311.5 L941.0,312.8 L940.2,313.2 L939.3,313.5 L938.6,314.0 L937.9,314.5 L937.2,314.9 L936.5,315.3 L935.7,315.6 L934.9,315.9 L934.1,316.2 L933.4,316.5 L932.7,316.8 L931.9,317.1 L931.3,317.5 L930.6,317.9 L929.9,318.3 L929.3,318.7 L928.6,319.1 L927.9,319.5 L927.2,319.9 L926.5,320.2 L925.8,320.5 L925.0,320.8 L924.3,321.1 L923.5,321.4 L922.8,321.9 L922.2,323.0 L921.4,324.0 L920.5,322.9 L919.6,322.6 L918.8,322.7 L918.0,322.9 L917.2,323.1 L916.3,323.3 L915.5,323.4 L914.6,323.5 L913.8,323.4 L913.0,323.2 L912.2,322.8 L911.4,322.4 L910.7,321.9 L910.0,321.4 L909.3,320.8 L908.6,320.3 L908.0,319.7 L907.3,319.3 L906.7,318.8 L906.0,318.5 L905.2,318.2 L904.4,318.0 L903.5,318.1 L902.1,318.8 L901.7,317.8 L901.3,317.0 L900.7,316.4 L900.1,315.9 L899.5,315.4 L898.9,314.8 L898.3,314.3 L897.8,313.7 L897.3,313.0 L896.8,312.4 L896.3,311.8 L895.8,311.1 L895.3,310.5 L894.8,309.8 L894.4,309.2 L893.9,308.5 L893.5,307.8 L893.1,307.1 L892.7,306.4 L892.4,305.7 L892.1,304.9 L891.8,304.2 L891.5,303.4 L891.2,302.7 L890.9,302.0 L890.3,301.3 L889.3,300.7 L889.0,299.9 L889.3,299.0 L889.1,298.1 L888.9,297.3 L888.6,296.5 L888.4,295.7 L888.2,294.8 L888.2,294.0 L888.3,293.2 L888.5,292.3 L888.9,291.5 L889.3,290.7 L889.8,289.9 L890.3,289.2 L890.8,288.5 L891.3,287.8 L891.8,287.1 L892.1,286.4 L892.5,285.7 L892.7,285.0 L893.0,284.2 L893.1,283.5 L893.2,282.7 L893.3,281.9 L893.1,280.9 L892.9,279.8 L893.9,279.5 L894.6,279.0 L895.1,278.4 L895.7,277.8 L896.2,277.2 L896.7,276.6 L897.3,276.0 L897.8,275.5 L898.3,274.9 L898.9,274.3 L899.4,273.7 L899.9,273.2 L900.5,272.6 L901.1,272.1 L901.7,271.6 L902.4,271.1 L903.1,270.8 L903.8,270.5 L904.6,270.2 L905.3,270.0 L906.1,269.9 L906.9,269.7 L907.7,269.6 L908.4,269.4 L909.2,269.2 L909.9,269.0 L910.6,268.7 L911.2,268.3 L911.9,267.9 L912.6,267.5 L913.3,267.1 L914.1,266.7 L914.8,266.4 L915.6,266.1 L916.4,265.9 L917.2,265.8 L918.0,265.8 L918.8,265.8 L919.6,265.9 L920.4,266.0 L921.2,266.0 L922.0,265.9 L922.9,265.5 L924.1,264.1 L924.6,265.6 L925.3,266.4 L926.0,266.7 L926.8,266.9 L927.6,267.2 L928.3,267.4 L929.1,267.7 L929.9,268.0 L930.6,268.4 L931.3,268.8 L932.0,269.2 L932.7,269.6 L933.5,269.9 L934.3,270.2 L935.2,270.3 L936.6,269.9 L937.8,269.8 L937.9,271.1 L938.4,271.8 L939.1,272.3 L939.8,272.8 L940.5,273.3 L941.1,274.0 L941.6,274.7 L942.0,275.5 L942.3,276.3 L942.5,277.2 L942.6,278.2 L942.7,279.1 L942.8,280.0 L942.8,280.9 L942.9,281.7 L943.1,282.5 L943.3,283.3 L943.6,284.0 L943.9,284.8 L944.2,285.5 L944.6,286.2 L945.0,286.9 L945.3,287.7 L945.5,288.4 L945.7,289.2 L945.8,290.0 L945.9,290.8 L945.8,291.6 L945.7,292.4 L945.6,293.2Z" fill="#f6a9aa" stroke="#c06c72" stroke-width="1.3" stroke-linejoin="round"/><g fill="#e58d90"><circle cx="909.3" cy="308.8" r="1.1"/><circle cx="907.6" cy="293.7" r="1.1"/><circle cx="918.3" cy="318.4" r="1.1"/><circle cx="924.2" cy="271.0" r="1.1"/><circle cx="931.9" cy="296.2" r="1.1"/><circle cx="926.9" cy="280.4" r="1.1"/><circle cx="933.9" cy="285.7" r="1.1"/><circle cx="904.5" cy="275.5" r="1.1"/><circle cx="913.2" cy="284.9" r="1.1"/><circle cx="924.3" cy="301.5" r="1.1"/><circle cx="897.8" cy="295.4" r="1.1"/><circle cx="902.6" cy="302.6" r="1.1"/><circle cx="900.6" cy="285.8" r="1.1"/><circle cx="913.3" cy="300.3" r="1.1"/><circle cx="920.0" cy="308.8" r="1.1"/><circle cx="928.3" cy="309.6" r="1.1"/><circle cx="915.5" cy="273.4" r="1.1"/><circle cx="922.1" cy="293.3" r="1.1"/></g><path d="M927.6,297.0 L927.4,297.9 L927.3,298.9 L927.1,299.8 L926.9,300.7 L926.6,301.6 L926.2,302.5 L925.8,303.3 L925.4,304.1 L924.9,304.9 L924.4,305.7 L923.7,306.4 L923.0,307.0 L922.1,307.3 L921.1,307.5 L920.1,307.6 L919.2,307.6 L918.3,307.6 L917.5,307.7 L916.7,307.9 L916.0,308.2 L915.2,308.5 L914.4,308.8 L913.6,308.9 L912.7,309.1 L911.9,309.1 L911.0,309.2 L910.0,309.3 L909.0,309.4 L908.0,309.3 L907.0,309.0 L906.2,308.6 L905.4,307.9 L904.8,307.2 L904.3,306.4 L903.8,305.6 L903.2,304.8 L902.6,304.1 L901.9,303.4 L901.4,302.6 L900.9,301.8 L900.7,300.8 L900.6,299.8 L900.7,298.9 L900.8,297.9 L900.9,297.0 L901.0,296.1 L901.1,295.2 L901.2,294.3 L901.4,293.4 L901.7,292.5 L902.2,291.7 L902.6,291.0 L903.2,290.2 L903.7,289.5 L904.2,288.8 L904.8,288.1 L905.5,287.6 L906.2,287.1 L907.0,286.7 L907.8,286.3 L908.6,286.0 L909.4,285.6 L910.2,285.2 L910.9,284.7 L911.7,284.2 L912.6,283.8 L913.5,283.6 L914.5,283.6 L915.4,283.8 L916.3,284.1 L917.1,284.5 L918.0,284.8 L918.8,285.2 L919.6,285.6 L920.3,286.1 L921.0,286.7 L921.6,287.3 L922.1,288.0 L922.7,288.6 L923.4,289.2 L924.1,289.7 L925.0,290.1 L925.9,290.7 L926.7,291.3 L927.4,292.1 L927.8,293.0 L927.9,294.0 L927.9,295.0 L927.7,296.0Z" fill="#dc7d80" stroke="#c9696e" stroke-width="1"/><path d="M943.6,252.0 L943.8,253.0 L944.1,254.0 L944.9,255.0 L946.8,256.2 L946.6,257.3 L945.6,258.2 L945.3,259.2 L945.1,260.2 L944.8,261.2 L944.4,262.1 L943.8,263.0 L943.1,263.8 L942.4,264.6 L941.6,265.4 L940.9,266.1 L940.3,266.9 L939.8,267.7 L939.3,268.6 L938.9,269.4 L938.5,270.3 L938.0,271.2 L937.5,272.0 L936.9,272.8 L936.3,273.5 L935.6,274.2 L934.9,274.8 L934.2,275.6 L933.7,276.4 L933.3,277.4 L933.2,278.8 L933.1,280.2 L931.7,280.1 L930.7,280.5 L929.8,281.0 L928.9,281.5 L928.0,281.8 L926.9,282.0 L925.9,282.1 L924.8,282.1 L923.8,282.2 L922.8,282.4 L921.9,282.6 L921.1,283.0 L920.2,283.5 L919.5,284.3 L918.8,285.5 L918.4,288.1 L917.0,286.6 L915.9,285.9 L914.8,285.7 L913.9,285.7 L912.9,285.7 L911.9,285.7 L911.0,285.8 L910.0,285.9 L909.0,286.0 L908.1,286.0 L907.1,286.0 L906.1,285.9 L905.2,285.6 L904.3,285.1 L903.4,284.5 L902.6,283.8 L901.8,283.1 L901.1,282.4 L900.3,281.9 L899.5,281.5 L898.6,281.2 L897.7,281.1 L896.7,281.2 L895.7,281.2 L894.6,281.2 L893.6,281.1 L892.6,280.9 L891.6,280.6 L890.6,280.4 L889.1,280.7 L888.2,280.3 L888.4,278.4 L888.1,277.3 L887.6,276.4 L886.9,275.8 L886.2,275.1 L885.4,274.6 L884.6,274.0 L883.9,273.4 L883.1,272.7 L882.4,272.0 L881.7,271.3 L881.1,270.6 L880.4,269.8 L879.7,269.1 L878.9,268.4 L878.1,267.7 L877.3,266.9 L876.6,266.1 L875.9,265.3 L875.4,264.3 L875.1,263.4 L874.9,262.3 L875.0,261.2 L875.2,260.1 L875.4,259.0 L875.7,257.9 L875.8,256.9 L875.9,255.9 L875.8,254.9 L875.6,254.0 L875.1,253.0 L874.5,252.0 L873.2,250.9 L873.5,249.9 L874.1,248.9 L874.4,247.9 L874.8,246.9 L875.1,246.0 L875.5,245.0 L875.9,244.1 L876.3,243.1 L876.6,242.2 L876.9,241.3 L877.3,240.3 L877.7,239.4 L878.1,238.5 L878.7,237.7 L879.3,236.9 L880.0,236.2 L880.8,235.5 L881.6,234.9 L882.3,234.2 L882.9,233.5 L883.4,232.7 L883.7,231.7 L883.5,230.3 L882.9,228.5 L884.4,228.5 L885.2,227.9 L885.9,227.2 L886.6,226.5 L887.4,225.9 L888.2,225.4 L889.1,224.9 L890.1,224.6 L891.0,224.2 L891.9,223.9 L892.8,223.5 L893.7,223.1 L894.5,222.7 L895.4,222.3 L896.3,222.0 L897.2,221.8 L898.2,221.7 L899.2,221.6 L900.1,221.6 L901.1,221.6 L902.0,221.6 L902.9,221.4 L903.7,221.1 L904.6,220.6 L905.4,220.1 L906.3,219.5 L907.2,218.9 L908.1,218.4 L909.0,218.0 L910.0,217.8 L911.0,217.6 L912.0,217.1 L913.1,216.5 L913.9,218.0 L914.8,218.8 L915.7,219.2 L916.6,219.5 L917.5,219.6 L918.5,219.7 L919.5,219.8 L920.4,219.8 L921.4,220.0 L922.4,220.2 L923.3,220.5 L924.3,220.8 L925.2,221.1 L926.1,221.5 L927.1,221.8 L928.1,222.0 L929.1,222.3 L930.1,222.6 L931.0,223.0 L932.0,223.5 L932.8,224.2 L933.5,224.9 L934.1,225.7 L934.8,226.5 L936.0,226.7 L936.1,228.0 L935.7,229.7 L935.8,230.9 L936.3,231.7 L936.9,232.5 L937.7,233.1 L938.5,233.7 L939.3,234.3 L940.1,235.0 L940.8,235.7 L941.3,236.6 L941.7,237.5 L942.0,238.5 L942.1,239.5 L942.2,240.5 L942.3,241.5 L942.4,242.5 L942.5,243.5 L942.7,244.4 L942.9,245.3 L943.2,246.3 L943.4,247.2 L943.5,248.2 L943.6,249.1 L943.6,250.1 L943.6,251.0Z" fill="#fbbcbd" stroke="#c87a7e" stroke-width="1.3" stroke-linejoin="round"/><g fill="#eda1a3"><circle cx="908.8" cy="247.1" r="1.1"/><circle cx="922.6" cy="227.3" r="1.1"/><circle cx="928.9" cy="264.4" r="1.1"/><circle cx="890.2" cy="263.4" r="1.1"/><circle cx="912.2" cy="279.1" r="1.1"/><circle cx="918.4" cy="242.1" r="1.1"/><circle cx="924.3" cy="253.3" r="1.1"/><circle cx="933.0" cy="234.1" r="1.1"/><circle cx="903.3" cy="264.8" r="1.1"/><circle cx="900.1" cy="242.2" r="1.1"/><circle cx="933.4" cy="248.1" r="1.1"/><circle cx="914.9" cy="254.0" r="1.1"/><circle cx="903.6" cy="281.1" r="1.1"/><circle cx="898.2" cy="228.3" r="1.1"/><circle cx="911.4" cy="267.0" r="1.1"/><circle cx="890.4" cy="247.6" r="1.1"/><circle cx="882.3" cy="260.4" r="1.1"/><circle cx="921.4" cy="269.5" r="1.1"/><circle cx="896.3" cy="268.7" r="1.1"/><circle cx="914.3" cy="228.1" r="1.1"/><circle cx="936.6" cy="257.1" r="1.1"/><circle cx="924.0" cy="235.8" r="1.1"/><circle cx="901.9" cy="255.8" r="1.1"/><circle cx="926.6" cy="276.4" r="1.1"/><circle cx="889.9" cy="233.6" r="1.1"/><circle cx="893.3" cy="255.3" r="1.1"/><circle cx="881.0" cy="249.8" r="1.1"/></g><path d="M928.7,258.0 L928.7,259.0 L928.5,260.0 L928.2,261.0 L928.0,262.0 L927.8,263.0 L927.7,264.1 L927.5,265.2 L927.1,266.2 L926.6,267.1 L925.8,267.9 L924.9,268.5 L923.9,269.0 L922.9,269.4 L922.0,269.9 L921.1,270.3 L920.3,270.9 L919.4,271.4 L918.5,271.8 L917.5,272.1 L916.5,272.4 L915.5,272.6 L914.5,272.8 L913.5,273.0 L912.4,273.3 L911.3,273.5 L910.1,273.7 L908.9,273.5 L907.9,273.2 L906.9,272.6 L906.0,271.8 L905.3,271.0 L904.5,270.1 L903.8,269.4 L903.0,268.6 L902.2,267.9 L901.5,267.1 L900.8,266.2 L900.2,265.3 L899.8,264.3 L899.4,263.3 L899.1,262.3 L898.9,261.2 L898.9,260.1 L899.1,259.0 L899.5,258.0 L900.0,257.0 L900.7,256.1 L901.3,255.3 L901.8,254.5 L902.0,253.6 L902.2,252.7 L902.2,251.7 L902.2,250.7 L902.4,249.6 L902.7,248.6 L903.3,247.6 L903.9,246.8 L904.6,246.0 L905.4,245.2 L906.2,244.5 L907.1,243.8 L908.0,243.2 L909.1,242.9 L910.2,242.7 L911.3,242.7 L912.4,242.7 L913.5,242.8 L914.5,242.8 L915.6,242.7 L916.7,242.6 L917.9,242.5 L919.0,242.6 L920.1,242.9 L921.1,243.5 L921.9,244.2 L922.7,245.1 L923.4,246.0 L924.1,246.8 L924.7,247.7 L925.3,248.5 L925.8,249.4 L926.3,250.3 L926.7,251.3 L927.0,252.2 L927.3,253.1 L927.7,254.1 L928.1,255.0 L928.4,256.0 L928.6,257.0Z" fill="#d98c8e" stroke="#c97c80" stroke-width="1"/><path d="M994.8,324.0 L994.9,324.8 L994.9,325.6 L994.8,326.4 L994.6,327.2 L994.3,327.9 L994.0,328.7 L993.7,329.4 L993.4,330.1 L993.3,330.9 L993.7,331.8 L993.4,332.6 L992.5,333.1 L992.0,333.7 L991.6,334.4 L991.4,335.1 L991.1,335.9 L990.9,336.6 L990.7,337.4 L990.6,338.2 L990.8,339.3 L989.9,339.7 L989.0,340.0 L988.4,340.5 L987.8,341.0 L987.3,341.6 L986.8,342.1 L986.2,342.7 L985.7,343.2 L985.1,343.8 L984.6,344.3 L984.0,344.8 L983.3,345.2 L982.7,345.6 L982.0,345.9 L981.3,346.2 L980.5,346.4 L979.8,346.6 L979.0,346.8 L978.3,346.9 L977.6,347.1 L976.9,347.4 L976.2,347.6 L975.6,348.0 L974.9,348.4 L974.3,348.9 L973.7,349.4 L973.0,349.9 L972.4,350.4 L971.7,350.9 L970.9,351.3 L970.2,351.7 L969.4,351.9 L968.6,352.2 L967.8,352.7 L967.0,353.3 L966.2,352.1 L965.4,351.4 L964.7,351.0 L963.9,350.7 L963.2,350.4 L962.5,350.2 L961.7,350.0 L961.0,349.9 L960.2,349.8 L959.5,349.7 L958.7,349.6 L957.9,349.5 L957.1,349.4 L956.3,349.4 L955.3,349.6 L954.2,350.1 L953.9,348.9 L953.3,348.2 L952.7,347.7 L952.1,347.2 L951.4,346.8 L950.7,346.4 L950.0,346.0 L949.3,345.6 L948.6,345.2 L947.9,344.8 L947.2,344.3 L946.6,343.8 L946.0,343.3 L945.5,342.7 L945.0,342.0 L944.6,341.3 L944.2,340.5 L944.0,339.8 L943.7,339.0 L943.5,338.2 L943.2,337.4 L943.0,336.7 L942.7,335.9 L942.4,335.2 L942.0,334.5 L941.7,333.9 L941.3,333.2 L940.8,332.5 L940.5,331.8 L940.1,331.1 L939.8,330.3 L939.6,329.5 L939.5,328.8 L939.4,328.0 L939.4,327.2 L939.5,326.4 L939.6,325.6 L939.6,324.8 L939.5,324.0 L938.8,323.2 L938.6,322.4 L939.8,321.7 L940.3,320.9 L940.7,320.2 L940.9,319.5 L941.2,318.8 L941.5,318.1 L941.8,317.4 L942.2,316.7 L942.7,316.1 L943.1,315.5 L943.6,314.9 L944.1,314.3 L944.5,313.7 L944.9,313.2 L945.3,312.5 L945.5,311.9 L945.7,311.2 L945.9,310.4 L946.0,309.7 L946.2,308.9 L946.3,308.0 L946.5,307.2 L946.7,306.4 L947.0,305.7 L947.4,305.0 L947.9,304.4 L948.4,303.7 L948.7,302.9 L948.7,301.6 L949.8,301.7 L951.0,302.0 L951.9,302.0 L952.7,301.7 L953.4,301.4 L954.1,301.1 L954.7,300.7 L955.3,300.2 L955.9,299.8 L956.6,299.3 L957.2,298.9 L957.9,298.4 L958.6,298.0 L959.3,297.7 L960.0,297.4 L960.7,297.0 L961.5,296.7 L962.1,296.0 L962.9,295.5 L963.8,296.1 L964.6,296.3 L965.4,296.3 L966.2,296.3 L967.0,296.2 L967.8,296.2 L968.6,296.3 L969.4,296.3 L970.2,296.4 L970.9,296.6 L971.7,296.9 L972.4,297.2 L973.2,297.5 L973.9,297.8 L974.6,298.1 L975.3,298.4 L976.0,298.7 L976.8,299.0 L977.5,299.1 L978.3,299.3 L979.1,299.4 L979.9,299.5 L980.7,299.7 L981.6,299.8 L982.4,300.1 L983.2,300.4 L983.9,300.8 L984.5,301.2 L985.1,301.8 L985.7,302.5 L986.1,303.2 L986.5,303.9 L986.9,304.6 L987.3,305.4 L987.7,306.0 L988.3,306.6 L989.5,306.7 L989.7,307.5 L989.4,308.7 L989.5,309.5 L989.8,310.3 L990.1,311.0 L990.4,311.7 L990.6,312.4 L990.9,313.1 L991.1,313.8 L991.3,314.6 L991.4,315.3 L991.6,316.0 L991.7,316.7 L991.9,317.4 L992.2,318.1 L992.5,318.8 L992.8,319.5 L993.2,320.2 L993.6,321.0 L993.9,321.7 L994.3,322.4 L994.6,323.2Z" fill="#df8c8f" stroke="#a95a60" stroke-width="1.3" stroke-linejoin="round"/><g fill="#cb7479"><circle cx="985.9" cy="327.4" r="1.1"/><circle cx="973.9" cy="310.9" r="1.1"/><circle cx="988.6" cy="316.2" r="1.1"/><circle cx="944.2" cy="327.6" r="1.1"/><circle cx="982.4" cy="309.8" r="1.1"/><circle cx="964.9" cy="328.2" r="1.1"/><circle cx="975.4" cy="302.2" r="1.1"/><circle cx="971.2" cy="340.0" r="1.1"/><circle cx="968.7" cy="321.3" r="1.1"/><circle cx="950.1" cy="308.3" r="1.1"/><circle cx="963.2" cy="315.4" r="1.1"/><circle cx="980.1" cy="340.6" r="1.1"/><circle cx="967.5" cy="302.0" r="1.1"/><circle cx="951.8" cy="341.7" r="1.1"/><circle cx="958.0" cy="324.4" r="1.1"/><circle cx="977.8" cy="321.2" r="1.1"/><circle cx="947.1" cy="317.8" r="1.1"/></g><path d="M985.0,322.0 L984.9,322.9 L984.7,323.8 L984.4,324.6 L984.2,325.5 L984.0,326.4 L983.8,327.3 L983.6,328.2 L983.3,329.0 L982.8,329.9 L982.3,330.6 L981.6,331.2 L980.9,331.8 L980.2,332.4 L979.5,333.1 L978.8,333.8 L978.1,334.5 L977.3,335.2 L976.4,335.6 L975.4,335.8 L974.4,335.7 L973.4,335.4 L972.5,335.0 L971.6,334.6 L970.7,334.4 L969.9,334.2 L969.0,334.0 L968.2,333.8 L967.3,333.5 L966.6,333.1 L965.8,332.7 L965.1,332.3 L964.3,331.8 L963.6,331.3 L962.9,330.8 L962.3,330.1 L961.8,329.4 L961.5,328.6 L961.3,327.7 L961.1,326.8 L960.9,326.0 L960.7,325.2 L960.3,324.5 L959.9,323.7 L959.4,322.9 L958.9,322.0 L958.6,321.1 L958.4,320.1 L958.3,319.1 L958.3,318.1 L958.4,317.1 L958.6,316.0 L958.9,315.1 L959.5,314.2 L960.2,313.5 L961.2,312.9 L962.2,312.5 L963.2,312.2 L964.1,312.0 L965.0,311.6 L965.7,311.1 L966.4,310.5 L967.1,309.9 L967.9,309.5 L968.8,309.2 L969.7,309.1 L970.7,309.2 L971.6,309.4 L972.4,309.6 L973.3,309.7 L974.1,309.9 L975.0,310.0 L975.8,310.2 L976.6,310.5 L977.4,310.9 L978.1,311.4 L978.9,311.8 L979.6,312.2 L980.5,312.6 L981.3,313.0 L982.1,313.5 L982.8,314.1 L983.4,314.9 L983.8,315.7 L984.1,316.6 L984.3,317.5 L984.5,318.4 L984.7,319.3 L984.9,320.2 L985.0,321.1Z" fill="#b65c62" stroke="#9e4c52" stroke-width="1"/><path d="M1043.7,306.0 L1043.6,306.8 L1043.4,307.6 L1043.3,308.3 L1043.1,309.1 L1042.9,309.9 L1042.6,310.6 L1042.3,311.3 L1042.1,312.1 L1041.8,312.8 L1041.6,313.5 L1041.5,314.3 L1041.3,315.0 L1041.3,315.8 L1041.2,316.6 L1041.2,317.5 L1041.1,318.3 L1041.0,319.2 L1040.9,320.1 L1040.7,320.9 L1040.4,321.7 L1040.0,322.4 L1039.5,323.1 L1038.9,323.7 L1038.3,324.3 L1037.8,324.9 L1037.5,325.7 L1037.9,327.3 L1036.2,326.8 L1034.9,326.6 L1034.1,326.9 L1033.3,327.2 L1032.7,327.6 L1032.0,328.1 L1031.4,328.5 L1030.8,329.0 L1030.1,329.4 L1029.5,329.8 L1028.8,330.2 L1028.1,330.5 L1027.3,330.8 L1026.6,331.1 L1025.9,331.3 L1025.1,331.6 L1024.5,332.0 L1023.9,332.7 L1023.3,333.6 L1022.3,333.1 L1021.5,333.2 L1020.8,333.5 L1020.0,333.8 L1019.2,334.1 L1018.4,334.4 L1017.6,334.6 L1016.8,334.7 L1016.0,334.7 L1015.2,334.6 L1014.4,334.5 L1013.6,334.2 L1012.8,333.9 L1012.0,333.5 L1011.3,333.2 L1010.6,332.8 L1009.8,332.5 L1009.1,332.2 L1008.4,332.0 L1007.6,331.9 L1006.8,331.7 L1006.0,331.6 L1005.2,331.5 L1004.4,331.4 L1003.6,331.3 L1002.6,331.3 L1001.5,331.8 L1000.8,331.2 L1000.5,330.1 L1000.0,329.4 L999.4,328.9 L998.8,328.3 L998.2,327.8 L997.6,327.2 L997.0,326.7 L996.5,326.1 L995.9,325.5 L995.3,325.0 L994.8,324.4 L994.3,323.7 L993.9,323.1 L993.4,322.4 L993.1,321.7 L992.7,321.0 L992.4,320.2 L992.1,319.5 L991.7,318.8 L991.3,318.1 L990.9,317.5 L990.4,316.8 L989.9,316.2 L989.3,315.5 L988.5,314.9 L987.4,314.4 L985.4,314.1 L986.0,313.0 L986.2,312.0 L986.1,311.2 L986.0,310.3 L986.0,309.4 L986.0,308.6 L986.1,307.7 L986.4,306.8 L986.7,306.0 L987.0,305.2 L987.3,304.4 L987.6,303.6 L987.9,302.8 L988.1,302.0 L988.3,301.2 L988.4,300.4 L988.5,299.6 L988.6,298.8 L988.7,298.0 L988.8,297.2 L989.1,296.4 L989.3,295.6 L989.7,294.9 L990.1,294.2 L990.5,293.5 L991.0,292.8 L991.5,292.2 L992.1,291.6 L992.6,291.0 L993.1,290.3 L993.6,289.7 L994.1,289.1 L994.6,288.5 L995.1,287.9 L995.6,287.3 L996.1,286.6 L996.4,285.8 L996.3,284.5 L997.0,284.0 L998.5,284.6 L999.5,284.6 L1000.4,284.5 L1001.1,284.3 L1001.9,284.0 L1002.6,283.7 L1003.3,283.4 L1003.9,283.1 L1004.5,282.6 L1005.1,282.1 L1005.7,281.6 L1006.3,281.1 L1006.9,280.5 L1007.6,280.0 L1008.2,279.5 L1008.9,279.1 L1009.6,278.7 L1010.3,278.1 L1011.0,276.9 L1011.7,276.2 L1012.7,277.5 L1013.6,278.0 L1014.4,278.2 L1015.2,278.3 L1016.0,278.4 L1016.8,278.4 L1017.6,278.4 L1018.4,278.5 L1019.2,278.5 L1019.9,278.6 L1020.7,278.7 L1021.5,278.9 L1022.3,279.1 L1023.0,279.4 L1023.7,279.7 L1024.4,280.0 L1025.2,280.3 L1025.9,280.6 L1026.6,280.9 L1027.3,281.2 L1028.1,281.4 L1028.9,281.5 L1029.8,281.6 L1030.7,281.7 L1031.6,281.7 L1032.6,281.7 L1033.8,281.6 L1035.4,280.9 L1035.9,281.6 L1036.1,282.8 L1036.5,283.6 L1037.0,284.4 L1037.5,285.1 L1037.9,285.9 L1038.2,286.7 L1038.6,287.6 L1038.9,288.4 L1039.2,289.2 L1039.5,289.9 L1039.9,290.6 L1040.3,291.3 L1040.8,292.0 L1041.3,292.7 L1041.7,293.3 L1042.2,294.0 L1042.7,294.7 L1043.1,295.4 L1043.5,296.2 L1043.9,296.9 L1044.6,297.6 L1046.1,298.1 L1044.9,299.3 L1044.3,300.3 L1044.1,301.1 L1044.0,302.0 L1043.9,302.8 L1043.8,303.6 L1043.8,304.4 L1043.7,305.2Z" fill="#f6a9aa" stroke="#c06c72" stroke-width="1.3" stroke-linejoin="round"/><g fill="#e58d90"><circle cx="1017.5" cy="303.2" r="1.1"/><circle cx="1009.4" cy="318.3" r="1.1"/><circle cx="1001.4" cy="305.8" r="1.1"/><circle cx="1001.4" cy="321.8" r="1.1"/><circle cx="1025.6" cy="305.6" r="1.1"/><circle cx="1003.2" cy="297.7" r="1.1"/><circle cx="1017.9" cy="313.7" r="1.1"/><circle cx="1029.8" cy="320.4" r="1.1"/><circle cx="1038.3" cy="297.8" r="1.1"/><circle cx="1026.6" cy="288.4" r="1.1"/><circle cx="1018.7" cy="324.2" r="1.1"/><circle cx="1007.9" cy="329.2" r="1.1"/><circle cx="1030.4" cy="312.4" r="1.1"/><circle cx="994.8" cy="312.5" r="1.1"/><circle cx="1008.7" cy="283.3" r="1.1"/><circle cx="1019.5" cy="281.7" r="1.1"/><circle cx="1017.5" cy="295.2" r="1.1"/><circle cx="1040.0" cy="310.7" r="1.1"/></g><path d="M1032.4,310.0 L1032.1,310.9 L1032.0,311.8 L1031.8,312.7 L1031.7,313.6 L1031.6,314.6 L1031.4,315.5 L1031.1,316.4 L1030.7,317.3 L1030.3,318.2 L1029.7,319.0 L1029.2,319.8 L1028.5,320.5 L1027.7,321.1 L1026.8,321.5 L1025.7,321.7 L1024.7,321.6 L1023.6,321.4 L1022.7,321.3 L1021.8,321.2 L1021.0,321.2 L1020.2,321.5 L1019.4,321.7 L1018.6,322.0 L1017.7,322.1 L1016.9,322.1 L1016.0,321.9 L1015.2,321.7 L1014.4,321.4 L1013.6,321.1 L1012.7,320.8 L1011.9,320.5 L1011.1,320.1 L1010.3,319.6 L1009.7,319.0 L1009.1,318.3 L1008.5,317.6 L1008.0,316.9 L1007.4,316.2 L1006.7,315.5 L1006.0,314.7 L1005.4,313.9 L1005.0,313.0 L1004.8,312.0 L1004.8,311.0 L1005.0,310.0 L1005.2,309.0 L1005.4,308.1 L1005.7,307.2 L1006.0,306.3 L1006.4,305.4 L1006.9,304.6 L1007.5,303.9 L1008.2,303.2 L1008.8,302.6 L1009.4,302.0 L1010.0,301.3 L1010.6,300.7 L1011.2,300.0 L1011.9,299.5 L1012.7,299.1 L1013.5,298.7 L1014.3,298.5 L1015.2,298.2 L1016.0,297.9 L1016.8,297.5 L1017.6,297.0 L1018.5,296.6 L1019.5,296.4 L1020.4,296.4 L1021.3,296.7 L1022.2,297.2 L1023.0,297.8 L1023.7,298.4 L1024.4,298.9 L1025.1,299.4 L1025.8,299.9 L1026.5,300.3 L1027.2,300.9 L1027.9,301.4 L1028.5,302.1 L1029.1,302.7 L1029.7,303.3 L1030.3,304.0 L1031.0,304.6 L1031.7,305.4 L1032.2,306.2 L1032.5,307.1 L1032.6,308.1 L1032.5,309.1Z" fill="#dc7d80" stroke="#c9696e" stroke-width="1"/><path d="M1011.7,277.0 L1011.8,278.0 L1012.0,279.0 L1012.4,280.0 L1012.9,281.1 L1013.5,282.3 L1014.4,283.5 L1016.0,284.9 L1015.3,285.9 L1013.9,286.7 L1012.9,287.6 L1012.2,288.4 L1011.4,289.3 L1010.7,290.1 L1010.1,291.0 L1009.6,291.9 L1009.3,292.9 L1009.3,294.0 L1010.0,295.6 L1009.5,296.6 L1007.8,296.8 L1006.8,297.4 L1006.1,298.1 L1005.4,298.9 L1004.8,299.7 L1004.3,300.6 L1003.8,301.6 L1003.3,302.5 L1002.8,303.5 L1002.2,304.5 L1001.5,305.3 L1000.7,306.0 L999.8,306.5 L998.7,306.9 L997.6,307.1 L996.5,307.3 L995.4,307.6 L994.4,307.9 L993.6,308.4 L992.8,309.1 L992.1,310.0 L991.4,311.0 L990.6,312.0 L989.8,312.9 L988.9,313.7 L987.9,314.2 L986.9,314.5 L985.8,314.6 L984.6,314.6 L983.5,314.5 L982.4,314.4 L981.3,314.3 L980.2,314.3 L979.1,314.4 L978.1,314.5 L977.0,314.8 L975.9,315.4 L974.7,317.0 L973.6,316.2 L972.7,314.8 L971.7,314.1 L970.6,313.8 L969.6,313.7 L968.5,313.6 L967.4,313.5 L966.3,313.5 L965.2,313.3 L964.2,313.0 L963.2,312.5 L962.3,311.8 L961.5,310.9 L960.8,310.0 L960.1,309.0 L959.5,308.1 L958.7,307.3 L957.9,306.6 L957.0,306.2 L956.0,305.9 L955.0,305.6 L953.8,305.3 L952.8,305.0 L951.7,304.5 L950.8,304.0 L950.0,303.3 L949.2,302.5 L948.5,301.7 L947.8,300.9 L947.0,300.1 L946.2,299.4 L945.1,298.8 L943.4,298.6 L942.3,297.9 L942.9,296.2 L943.0,294.9 L942.9,293.8 L942.8,292.6 L942.7,291.5 L942.6,290.4 L942.4,289.4 L942.0,288.4 L941.6,287.4 L940.9,286.5 L940.3,285.5 L939.6,284.6 L939.0,283.6 L938.6,282.5 L938.4,281.4 L938.4,280.3 L938.6,279.2 L938.8,278.1 L939.0,277.0 L938.9,275.9 L938.0,274.8 L937.4,273.6 L939.4,272.7 L940.3,271.7 L940.9,270.7 L941.3,269.8 L941.9,268.8 L942.4,267.9 L943.0,267.0 L943.5,266.1 L943.9,265.2 L944.2,264.2 L944.3,263.2 L944.4,262.1 L944.3,260.9 L944.3,259.7 L944.2,258.5 L943.9,257.0 L944.2,255.9 L945.9,255.7 L947.2,255.3 L948.3,254.9 L949.4,254.4 L950.4,253.9 L951.2,253.3 L952.0,252.7 L952.6,251.9 L953.1,251.0 L953.6,250.0 L954.2,249.1 L954.8,248.2 L955.5,247.4 L956.3,246.8 L957.2,246.2 L958.1,245.6 L959.0,245.2 L960.0,244.7 L960.9,244.2 L961.8,243.8 L962.8,243.4 L963.8,243.1 L964.8,242.8 L965.8,242.7 L966.9,242.6 L968.0,242.6 L969.0,242.6 L970.0,242.5 L971.0,242.3 L972.0,241.9 L972.9,241.4 L973.9,240.7 L974.9,240.0 L975.9,239.4 L977.0,238.8 L978.1,238.5 L979.2,238.1 L980.4,237.4 L981.6,236.7 L982.5,238.9 L983.4,240.1 L984.4,240.7 L985.4,241.1 L986.4,241.2 L987.5,241.2 L988.6,241.2 L989.8,241.1 L991.0,241.1 L992.1,241.2 L993.2,241.4 L994.3,241.8 L995.3,242.2 L996.4,242.7 L997.4,243.2 L998.4,243.7 L999.4,244.3 L1000.4,244.8 L1001.3,245.4 L1002.2,246.2 L1003.0,247.0 L1003.6,248.0 L1004.1,249.1 L1004.5,250.3 L1004.8,251.5 L1005.1,252.6 L1005.5,253.7 L1006.0,254.6 L1006.6,255.5 L1007.4,256.2 L1008.3,256.9 L1009.2,257.6 L1010.3,258.2 L1011.7,258.7 L1013.7,259.0 L1012.3,260.9 L1011.8,262.3 L1011.7,263.5 L1011.7,264.6 L1011.8,265.7 L1012.0,266.7 L1012.2,267.8 L1012.4,268.8 L1012.6,269.8 L1012.7,270.8 L1012.7,271.9 L1012.5,272.9 L1012.3,274.0 L1012.0,275.0 L1011.8,276.0Z" fill="#fbbcbd" stroke="#c87a7e" stroke-width="1.3" stroke-linejoin="round"/><g fill="#eda1a3"><circle cx="997.1" cy="287.0" r="1.1"/><circle cx="982.0" cy="279.0" r="1.1"/><circle cx="988.6" cy="249.8" r="1.1"/><circle cx="978.1" cy="257.2" r="1.1"/><circle cx="954.3" cy="266.5" r="1.1"/><circle cx="967.7" cy="292.2" r="1.1"/><circle cx="979.3" cy="291.9" r="1.1"/><circle cx="991.3" cy="299.2" r="1.1"/><circle cx="976.3" cy="248.6" r="1.1"/><circle cx="976.4" cy="268.2" r="1.1"/><circle cx="963.5" cy="299.4" r="1.1"/><circle cx="964.2" cy="280.5" r="1.1"/><circle cx="989.0" cy="289.5" r="1.1"/><circle cx="996.1" cy="252.7" r="1.1"/><circle cx="962.5" cy="261.1" r="1.1"/><circle cx="944.6" cy="279.6" r="1.1"/><circle cx="997.4" cy="266.2" r="1.1"/><circle cx="992.9" cy="274.0" r="1.1"/><circle cx="954.0" cy="275.7" r="1.1"/><circle cx="1005.9" cy="283.7" r="1.1"/><circle cx="984.9" cy="265.5" r="1.1"/><circle cx="966.9" cy="269.4" r="1.1"/><circle cx="986.2" cy="307.4" r="1.1"/><circle cx="968.0" cy="248.7" r="1.1"/><circle cx="975.6" cy="299.8" r="1.1"/><circle cx="1006.8" cy="268.6" r="1.1"/><circle cx="971.8" cy="307.8" r="1.1"/><circle cx="958.6" cy="288.3" r="1.1"/><circle cx="960.2" cy="253.4" r="1.1"/><circle cx="970.8" cy="260.3" r="1.1"/><circle cx="1003.6" cy="293.3" r="1.1"/><circle cx="989.7" cy="259.0" r="1.1"/></g><path d="M999.4,282.0 L999.6,283.2 L999.7,284.3 L999.7,285.5 L999.5,286.7 L999.0,287.8 L998.3,288.8 L997.4,289.6 L996.3,290.3 L995.2,290.9 L994.3,291.5 L993.6,292.2 L993.0,293.1 L992.4,294.0 L991.7,294.9 L990.9,295.7 L990.0,296.3 L988.9,296.7 L987.8,296.9 L986.7,296.9 L985.6,297.0 L984.6,297.0 L983.5,297.1 L982.5,297.1 L981.4,296.9 L980.4,296.7 L979.4,296.4 L978.4,296.2 L977.3,296.0 L976.2,295.9 L975.0,295.9 L973.7,295.8 L972.4,295.6 L971.1,295.2 L970.1,294.5 L969.2,293.6 L968.5,292.6 L967.9,291.4 L967.4,290.3 L967.0,289.1 L966.7,287.9 L966.6,286.7 L966.6,285.5 L966.8,284.3 L967.1,283.1 L967.3,282.0 L967.6,280.9 L967.7,279.8 L967.8,278.8 L967.9,277.7 L968.2,276.6 L968.7,275.7 L969.5,274.8 L970.3,274.0 L971.1,273.4 L971.9,272.6 L972.5,271.9 L973.1,271.0 L973.6,270.0 L974.3,269.1 L975.1,268.4 L976.1,267.8 L977.1,267.4 L978.2,267.2 L979.3,267.0 L980.3,266.8 L981.4,266.5 L982.4,266.2 L983.6,265.9 L984.7,265.8 L985.9,265.8 L987.0,266.0 L988.1,266.3 L989.2,266.6 L990.3,267.0 L991.4,267.4 L992.5,267.9 L993.5,268.6 L994.4,269.4 L995.0,270.4 L995.5,271.5 L995.9,272.6 L996.3,273.7 L996.7,274.7 L997.2,275.7 L997.7,276.7 L998.2,277.6 L998.7,278.7 L999.0,279.8 L999.2,280.9Z" fill="#d98c8e" stroke="#c97c80" stroke-width="1"/></g><clipPath id="vclip"><path d="M1565,100 L1562,230 L1300,420 L1199.5,400 L1214,290 L1300,100 Z"/></clipPath><g clip-path="url(#vclip)"><path d="M1568,166.6 C1520.3,166.6 1429.7,163.8 1390.9,236.1 C1335.5,339.2 1351.6,346.6 1195,346.6" fill="none" stroke="#8f1b20" stroke-width="77.4"/><path d="M1568,166.6 C1520.3,166.6 1429.7,163.8 1390.9,236.1 C1335.5,339.2 1351.6,346.6 1195,346.6" fill="none" stroke="#c24e52" stroke-width="59"/><path d="M1568,166.6 C1520.3,166.6 1429.7,163.8 1390.9,236.1 C1335.5,339.2 1351.6,346.6 1195,346.6" fill="none" stroke="#fde1e1" stroke-width="47"/></g><path d="M1553.8,162.5 C1515,161 1485,165 1457.4,176.4" fill="none" stroke="url(#fadeR)" stroke-width="3.4"/><path d="M1448.3,181.5 L1455.1,171.5 L1460.4,180.9 Z" fill="#1b1b1b"/><path d="M1394,228.6 C1385,262 1362,298 1331.4,324.5" fill="none" stroke="url(#fadeM)" stroke-width="3.4"/><path d="M1322.1,330.3 L1328.7,320.1 L1334.2,328.9 Z" fill="#1b1b1b"/><path d="M1265.5,350.5 C1230,350 1205,348 1181.9,341.7" fill="none" stroke="url(#fadeL)" stroke-width="3.4"/><path d="M1172.6,336.3 L1184.5,337.1 L1179.3,346.2 Z" fill="#1b1b1b"/><circle cx="1419.5" cy="198.0" r="18.2" fill="#a1cdea" stroke="#2f6c98" stroke-width="1.1"/><circle cx="1420.5" cy="194.0" r="10.7" fill="#86b1cb" stroke="#6e9bb8" stroke-width="1.2"/><g transform="translate(1396.0,206.0) rotate(-15.0) scale(0.260)"><path d="M1,-1.5 C-2.5,-2.5 -2.5,-6.3 2,-6.3 L16,-6.3 C19.5,-6.3 19.5,-11 16,-11" fill="#ffffff" stroke="#2b2152" stroke-width="1.4"/><rect x="0" y="-2.4" width="15" height="4.8" rx="2.4" fill="#593d8e"/><rect x="1.5" y="-13.6" width="15" height="4.8" rx="2.4" fill="#593d8e"/><line x1="14" y1="0" x2="61" y2="0" stroke="#2b2152" stroke-width="1.6"/><rect x="28.0" y="-2.8" width="9" height="5.6" rx="2.4" fill="#593d8e"/><rect x="40.0" y="-2.8" width="9" height="5.6" rx="2.4" fill="#593d8e"/><rect x="52.0" y="-2.8" width="9" height="5.6" rx="2.4" fill="#593d8e"/></g><circle cx="1298.5" cy="341.0" r="18.2" fill="#a1cdea" stroke="#2f6c98" stroke-width="1.1"/><circle cx="1298.8" cy="336.0" r="10.7" fill="#86b1cb" stroke="#6e9bb8" stroke-width="1.2"/><g transform="translate(1281.0,360.0) rotate(-45.0) scale(0.260)"><path d="M1,-1.5 C-2.5,-2.5 -2.5,-6.3 2,-6.3 L16,-6.3 C19.5,-6.3 19.5,-11 16,-11" fill="#ffffff" stroke="#2b2152" stroke-width="1.4"/><rect x="0" y="-2.4" width="15" height="4.8" rx="2.4" fill="#593d8e"/><rect x="1.5" y="-13.6" width="15" height="4.8" rx="2.4" fill="#593d8e"/><line x1="14" y1="0" x2="61" y2="0" stroke="#2b2152" stroke-width="1.6"/><rect x="28.0" y="-2.8" width="9" height="5.6" rx="2.4" fill="#593d8e"/><rect x="40.0" y="-2.8" width="9" height="5.6" rx="2.4" fill="#593d8e"/><rect x="52.0" y="-2.8" width="9" height="5.6" rx="2.4" fill="#593d8e"/></g><circle cx="1129.5" cy="318.5" r="38.7" fill="#a1cdea" stroke="#2f6c98" stroke-width="1.5"/><circle cx="1135.0" cy="318.0" r="24.0" fill="#86b1cb" stroke="#6e9bb8" stroke-width="1.2"/><g transform="translate(1087.5,285.0) rotate(42.0) scale(0.560)"><path d="M1,-1.5 C-2.5,-2.5 -2.5,-6.3 2,-6.3 L16,-6.3 C19.5,-6.3 19.5,-11 16,-11" fill="#ffffff" stroke="#2b2152" stroke-width="1.4"/><rect x="0" y="-2.4" width="15" height="4.8" rx="2.4" fill="#593d8e"/><rect x="1.5" y="-13.6" width="15" height="4.8" rx="2.4" fill="#593d8e"/><line x1="14" y1="0" x2="61" y2="0" stroke="#2b2152" stroke-width="1.6"/><rect x="28.0" y="-2.8" width="9" height="5.6" rx="2.4" fill="#593d8e"/><rect x="40.0" y="-2.8" width="9" height="5.6" rx="2.4" fill="#593d8e"/><rect x="52.0" y="-2.8" width="9" height="5.6" rx="2.4" fill="#593d8e"/></g><text x="366.0" y="634.4" font-family='"Liberation Sans", sans-serif' font-size="24.0" font-weight="bold" fill="#111111" text-anchor="middle" textLength="102.2" lengthAdjust="spacingAndGlyphs" >Inhibited</text><text x="366.0" y="665.6" font-family='"Liberation Sans", sans-serif' font-size="24.0" font-weight="bold" fill="#111111" text-anchor="middle" textLength="155.2" lengthAdjust="spacingAndGlyphs" >immune cells</text><text x="1259.5" y="634.0" font-family='"Liberation Sans", sans-serif' font-size="24.0" font-weight="bold" fill="#111111" text-anchor="middle" textLength="122.7" lengthAdjust="spacingAndGlyphs" >Exhausted</text><text x="1257.0" y="664.6" font-family='"Liberation Sans", sans-serif' font-size="24.0" font-weight="bold" fill="#111111" text-anchor="middle" textLength="122.6" lengthAdjust="spacingAndGlyphs" >CAR T-cell</text><path d="M306.9,684.3 L307.8,684.2 L308.5,684.3 L309.2,684.3 L309.8,684.5 L310.3,684.7 L310.7,685.0 L311.2,685.4 L311.5,685.7 L311.9,686.1 L312.2,686.6 L312.5,687.0 L312.9,687.5 L313.2,688.0 L313.6,688.5 L314.0,688.9 L314.4,689.4 L314.8,689.9 L315.4,690.3 L316.0,690.8 L316.6,691.2 L317.3,691.7 L318.1,692.1 L318.8,692.5 L319.6,692.9 L320.5,693.4 L321.3,693.8 L322.1,694.2 L323.0,694.7 L323.8,695.2 L324.7,695.7 L325.5,696.1 L326.7,696.2 L327.8,696.2 L329.0,696.2 L330.2,696.3 L331.3,696.5 L332.4,696.7 L333.5,697.0 L334.5,697.3 L335.5,697.8 L336.5,698.3 L337.5,698.9 L338.4,699.5 L339.3,700.2 L340.2,701.0 L341.1,701.9 L341.9,702.8 L342.7,703.7 L343.4,704.7 L344.1,705.8 L344.7,706.8 L345.3,707.9 L345.8,709.1 L346.3,710.2 L346.7,711.3 L347.1,712.4 L348.1,713.2 L348.9,714.0 L349.7,714.8 L350.5,715.7 L351.2,716.5 L351.8,717.4 L352.3,718.4 L352.8,719.3 L353.3,720.3 L353.7,721.4 L354.0,722.4 L354.2,723.5 L354.4,724.6 L354.5,725.7 L354.6,726.9 L354.6,728.1 L354.5,729.2 L354.4,730.4 L354.2,731.6 L354.0,732.8 L353.7,734.0 L353.4,735.2 L353.0,736.4 L352.6,737.6 L352.3,738.8 L352.6,739.9 L352.9,741.2 L353.1,742.4 L353.3,743.7 L353.5,745.0 L353.6,746.3 L353.6,747.7 L353.6,749.0 L353.5,750.4 L353.2,751.7 L353.0,753.0 L352.6,754.3 L352.1,755.6 L351.6,756.8 L351.0,758.0 L350.4,759.1 L349.7,760.2 L349.0,761.2 L348.3,762.2 L347.5,763.1 L346.8,764.1 L346.7,765.3 L346.5,766.4 L346.3,767.6 L346.0,768.7 L345.7,769.8 L345.4,770.9 L345.0,772.0 L344.5,773.1 L344.0,774.1 L343.4,775.1 L342.8,776.0 L342.1,776.9 L341.3,777.8 L340.5,778.6 L339.6,779.4 L338.7,780.2 L337.8,780.8 L336.8,781.5 L335.8,782.1 L334.7,782.7 L333.6,783.2 L332.4,783.8 L331.3,784.3 L330.5,785.3 L329.8,786.4 L329.0,787.4 L328.2,788.4 L327.3,789.4 L326.4,790.4 L325.4,791.3 L324.4,792.1 L323.4,792.9 L322.3,793.6 L321.2,794.2 L320.0,794.8 L318.9,795.3 L317.7,795.7 L316.5,796.0 L315.3,796.2 L314.1,796.4 L312.9,796.6 L311.7,796.7 L310.5,796.7 L309.3,796.7 L308.1,796.7 L307.0,797.4 L305.8,798.0 L304.7,798.6 L303.5,799.2 L302.4,799.7 L301.2,800.1 L300.0,800.5 L298.8,800.8 L297.5,801.0 L296.3,801.2 L295.1,801.2 L293.9,801.2 L292.7,801.1 L291.5,800.9 L290.3,800.7 L289.1,800.3 L287.9,799.9 L286.8,799.5 L285.6,798.9 L284.4,798.3 L283.3,797.7 L282.2,797.0 L281.1,796.3 L279.8,796.3 L278.5,796.2 L277.3,796.0 L276.0,795.8 L274.7,795.6 L273.5,795.2 L272.2,794.8 L271.1,794.4 L269.9,793.8 L268.8,793.2 L267.8,792.5 L266.8,791.7 L265.8,790.7 L264.9,789.7 L264.0,788.7 L263.2,787.5 L262.5,786.3 L261.8,785.0 L261.1,783.7 L260.5,782.3 L259.9,780.9 L259.1,779.9 L258.0,779.1 L256.9,778.3 L255.8,777.4 L254.8,776.5 L253.8,775.5 L252.9,774.5 L252.1,773.5 L251.3,772.5 L250.6,771.5 L249.9,770.4 L249.3,769.3 L248.7,768.2 L248.3,767.1 L247.8,765.9 L247.5,764.8 L247.2,763.6 L246.9,762.4 L246.7,761.3 L246.5,760.1 L246.4,758.9 L246.1,757.8 L245.4,756.8 L244.7,755.8 L244.0,754.7 L243.4,753.6 L242.9,752.5 L242.4,751.3 L242.0,750.1 L241.7,748.8 L241.5,747.5 L241.3,746.1 L241.3,744.7 L241.4,743.2 L241.6,741.8 L241.9,740.3 L242.3,738.8 L242.8,737.3 L243.4,735.9 L244.0,734.4 L244.6,733.0 L244.9,731.6 L244.7,730.1 L244.6,728.6 L244.5,727.1 L244.6,725.7 L244.7,724.3 L244.8,722.9 L245.1,721.6 L245.4,720.4 L245.8,719.2 L246.2,718.1 L246.7,717.0 L247.3,716.0 L247.9,715.0 L248.6,714.1 L249.3,713.2 L250.1,712.4 L250.9,711.6 L251.8,710.8 L252.7,710.1 L253.6,709.4 L254.6,708.8 L255.3,707.9 L255.8,706.9 L256.3,705.8 L256.9,704.8 L257.5,703.8 L258.2,702.8 L258.9,701.8 L259.7,700.8 L260.7,699.9 L261.7,699.0 L262.7,698.2 L263.9,697.4 L265.1,696.8 L266.4,696.1 L267.7,695.6 L269.1,695.1 L270.5,694.7 L271.9,694.4 L273.4,694.1 L274.8,693.9 L276.2,693.7 L277.3,692.8 L278.4,691.8 L279.5,691.0 L280.6,690.1 L281.8,689.4 L282.9,688.7 L284.2,688.0 L285.5,687.4 L286.8,686.9 L288.2,686.4 L289.6,686.1 L291.0,685.8 L292.5,685.7 L293.9,685.6 L295.3,685.5 L296.6,685.6 L298.0,685.7 L299.2,685.8 L300.5,686.0 L301.6,686.0 L302.8,685.5 L303.9,685.1 L305.0,684.8 L306.0,684.5Z" fill="#b1aee2" stroke="#77739f" stroke-width="1.6"/><g fill="#9995cc"><circle cx="325.1" cy="750.3" r="1.3"/><circle cx="265.1" cy="772.5" r="1.3"/><circle cx="299.8" cy="764.1" r="1.3"/><circle cx="283.8" cy="724.2" r="1.3"/><circle cx="285.9" cy="785.1" r="1.3"/><circle cx="300.2" cy="703.0" r="1.3"/><circle cx="263.3" cy="724.0" r="1.3"/><circle cx="315.2" cy="736.8" r="1.3"/><circle cx="300.6" cy="734.9" r="1.3"/><circle cx="305.7" cy="718.0" r="1.3"/><circle cx="313.7" cy="760.4" r="1.3"/><circle cx="287.6" cy="755.3" r="1.3"/><circle cx="275.1" cy="734.8" r="1.3"/><circle cx="323.0" cy="716.8" r="1.3"/><circle cx="318.1" cy="701.8" r="1.3"/><circle cx="270.5" cy="706.9" r="1.3"/><circle cx="265.8" cy="745.8" r="1.3"/><circle cx="337.5" cy="721.4" r="1.3"/><circle cx="272.3" cy="758.0" r="1.3"/><circle cx="312.2" cy="782.7" r="1.3"/><circle cx="286.0" cy="703.7" r="1.3"/><circle cx="285.9" cy="741.4" r="1.3"/><circle cx="281.1" cy="769.6" r="1.3"/><circle cx="337.9" cy="760.0" r="1.3"/></g><circle cx="306.2" cy="749" r="24.3" fill="#9893c8" stroke="#7a74b0" stroke-width="1.2"/><circle cx="307.7" cy="700.8" r="3.6" fill="#dedcf3" stroke="#c4c1ea" stroke-width="1.2"/><circle cx="263.1" cy="716.0" r="3.2" fill="#dedcf3" stroke="#c4c1ea" stroke-width="1.2"/><circle cx="328.0" cy="719.5" r="4.0" fill="#dedcf3" stroke="#c4c1ea" stroke-width="1.2"/><circle cx="258.4" cy="752.3" r="3.5" fill="#dedcf3" stroke="#c4c1ea" stroke-width="1.2"/><circle cx="337.3" cy="747.7" r="3.0" fill="#dedcf3" stroke="#c4c1ea" stroke-width="1.2"/><circle cx="311.6" cy="780.5" r="3.2" fill="#dedcf3" stroke="#c4c1ea" stroke-width="1.2"/><circle cx="313.0" cy="720.0" r="1.6" fill="#dedcf3" stroke="#c4c1ea" stroke-width="1.2"/><circle cx="274.8" cy="739.0" r="1.6" fill="#dedcf3" stroke="#c4c1ea" stroke-width="1.2"/><ellipse cx="427.5" cy="748.4" rx="47.3" ry="50" fill="#bdb3ee" stroke="#665c9a" stroke-width="1.5"/><path d="M399.1,721.9C399.9,717.7 400.9,714.2 403.8,712.5C406.6,710.8 412.7,710.4 416.2,711.7C419.8,713.0 424.0,717.2 424.8,720.3C425.6,723.4 424.1,728.1 420.9,730.5C417.6,732.9 408.2,732.7 405.3,734.4C402.4,736.1 402.2,738.8 403.8,740.6C405.3,742.4 411.8,742.9 414.7,745.3C417.6,747.6 420.1,750.8 420.9,754.7C421.7,758.6 418.6,765.6 419.4,768.8C420.2,771.9 423.0,774.6 425.6,773.4C428.2,772.2 431.1,763.5 435.0,761.7C438.9,759.9 446.3,760.8 449.0,762.5C451.7,764.2 452.2,768.8 451.4,771.9C450.6,775.0 447.9,779.7 444.4,781.2C440.9,782.8 434.5,782.3 430.3,781.2C426.1,780.2 423.6,776.0 419.4,775.0C415.2,774.0 409.1,776.6 405.3,775.0C401.5,773.4 398.3,769.8 396.7,765.6C395.1,761.4 395.5,754.7 395.9,750.0C396.3,745.3 398.6,742.2 399.1,737.5C399.6,732.8 398.3,726.1 399.1,721.9Z" fill="#a99fdb" stroke="#a097d4" stroke-width="1"/><g fill="#a197d6"><circle cx="389.5" cy="752.4" r="1.3"/><circle cx="456.7" cy="766.5" r="1.3"/><circle cx="445.7" cy="740.1" r="1.3"/><circle cx="456.4" cy="745.0" r="1.3"/><circle cx="444.1" cy="714.6" r="1.3"/><circle cx="443.0" cy="767.7" r="1.3"/><circle cx="435.9" cy="724.1" r="1.3"/><circle cx="419.5" cy="755.9" r="1.3"/><circle cx="406.6" cy="764.7" r="1.3"/><circle cx="430.9" cy="752.0" r="1.3"/><circle cx="422.6" cy="772.8" r="1.3"/><circle cx="414.0" cy="727.4" r="1.3"/><circle cx="411.1" cy="740.4" r="1.3"/><circle cx="462.0" cy="733.6" r="1.3"/><circle cx="443.9" cy="753.0" r="1.3"/><circle cx="424.4" cy="736.3" r="1.3"/><circle cx="402.4" cy="753.9" r="1.3"/><circle cx="425.2" cy="788.2" r="1.3"/><circle cx="405.3" cy="780.7" r="1.3"/><circle cx="423.5" cy="711.4" r="1.3"/><circle cx="397.5" cy="737.4" r="1.3"/><circle cx="439.5" cy="786.4" r="1.3"/></g><ellipse cx="369.5" cy="861.2" rx="48.5" ry="49.5" fill="#c8dcf4" stroke="#7f96c0" stroke-width="1.4"/><circle cx="374.5" cy="866.3" r="29.8" fill="#b4cff0" stroke="#a9c2e6" stroke-width="1"/><path d="M514,759.3 H584.2 M514,746 V773" stroke="#222" stroke-width="3.2" fill="none"/><path d="M599.8,600.5 H584.2 V918.4 H599.8" stroke="#222" stroke-width="3.2" fill="none"/><path d="M1027,600.5 H1041.9 V918.4 H1027 M1041.9,759.3 H1096" stroke="#222" stroke-width="3.2" fill="none"/><path d="M1111.8,759.3 L1094.5,750.5 L1094.5,768 Z" fill="#222"/><circle cx="751.0" cy="617.0" r="12" fill="url(#ballD)"/><circle cx="752.6" cy="609.8" r="2.1" fill="#dcc2bc"/><circle cx="902.0" cy="660.5" r="12" fill="url(#ballD)"/><circle cx="903.6" cy="653.3" r="2.1" fill="#dcc2bc"/><circle cx="882.0" cy="898.5" r="12" fill="url(#ballD)"/><circle cx="883.6" cy="891.3" r="2.1" fill="#dcc2bc"/><circle cx="657.7" cy="645.0" r="7" fill="url(#ballL)"/><circle cx="699.8" cy="645.0" r="7" fill="url(#ballL)"/><circle cx="845.0" cy="628.7" r="7" fill="url(#ballL)"/><circle cx="633.0" cy="712.5" r="7" fill="url(#ballL)"/><circle cx="946.5" cy="712.5" r="7" fill="url(#ballL)"/><circle cx="953.0" cy="769.4" r="7" fill="url(#ballL)"/><circle cx="656.8" cy="837.0" r="7" fill="url(#ballL)"/><circle cx="942.8" cy="835.6" r="11" fill="url(#ballL)"/><circle cx="722.6" cy="891.0" r="7" fill="url(#ballL)"/><text x="780.4" y="614.0" font-family='"Liberation Sans", sans-serif' font-size="24.0" font-weight="bold" fill="#5b3832" text-anchor="start" textLength="62.2" lengthAdjust="spacingAndGlyphs" >IL-10</text><text x="927.4" y="666.8" font-family='"Liberation Sans", sans-serif' font-size="24.0" font-weight="bold" fill="#5b3832" text-anchor="start" textLength="63.2" lengthAdjust="spacingAndGlyphs" >TGFβ</text><g><path d="M727.5,700.0 L727.3,700.8 L727.1,701.5 L726.9,702.3 L726.8,703.1 L726.9,703.9 L727.4,704.7 L728.8,705.8 L727.7,706.4 L727.1,707.1 L726.9,707.9 L726.8,708.7 L726.7,709.5 L726.5,710.3 L726.3,711.1 L725.9,711.8 L725.5,712.5 L725.0,713.2 L724.6,713.9 L724.6,714.8 L724.9,716.0 L722.8,715.6 L721.6,715.7 L720.9,716.1 L720.2,716.5 L719.7,717.1 L719.3,717.7 L718.8,718.3 L718.4,719.0 L718.0,719.6 L717.6,720.3 L717.1,720.9 L716.6,721.5 L716.1,722.1 L715.5,722.6 L714.8,723.0 L714.1,723.4 L713.4,723.8 L712.7,724.1 L712.0,724.4 L711.3,724.8 L710.6,725.1 L709.9,725.4 L709.2,725.7 L708.5,726.1 L707.7,726.4 L707.0,726.7 L706.3,726.9 L705.5,727.1 L704.7,727.3 L703.9,727.4 L703.2,727.5 L702.4,727.6 L701.6,727.7 L700.8,727.8 L700.0,727.9 L699.2,728.1 L698.4,728.4 L697.5,728.9 L696.6,729.9 L695.7,729.7 L694.9,729.4 L694.1,729.3 L693.2,729.3 L692.3,729.2 L691.5,729.1 L690.6,728.8 L689.9,728.4 L689.1,728.0 L688.4,727.4 L687.8,726.8 L687.1,726.2 L686.5,725.5 L685.9,724.9 L685.3,724.3 L684.8,723.7 L684.1,723.2 L683.5,722.7 L682.9,722.1 L682.3,721.6 L681.7,721.1 L681.1,720.6 L680.6,720.0 L680.1,719.4 L679.6,718.8 L679.1,718.1 L678.6,717.5 L677.9,717.0 L676.8,716.8 L675.7,716.6 L676.3,715.3 L676.1,714.4 L675.7,713.7 L675.2,713.1 L674.6,712.5 L674.0,711.9 L673.5,711.2 L673.0,710.5 L672.7,709.8 L672.4,709.0 L672.2,708.2 L672.1,707.3 L672.1,706.5 L672.2,705.6 L672.3,704.8 L672.4,704.0 L672.6,703.1 L672.7,702.3 L672.7,701.6 L672.5,700.8 L672.0,700.0 L671.6,699.2 L672.2,698.4 L672.4,697.6 L672.4,696.8 L672.4,696.0 L672.4,695.2 L672.4,694.4 L672.5,693.6 L672.7,692.8 L673.0,692.1 L673.3,691.3 L673.6,690.6 L673.9,689.9 L674.3,689.1 L674.7,688.4 L675.1,687.7 L675.4,687.0 L675.8,686.4 L676.3,685.7 L676.7,685.0 L677.2,684.4 L677.7,683.8 L678.2,683.2 L678.8,682.7 L679.4,682.1 L680.0,681.6 L680.5,681.1 L681.1,680.5 L681.5,679.9 L681.7,678.9 L681.4,677.3 L682.2,676.9 L683.3,677.0 L684.0,676.6 L684.6,676.1 L685.2,675.5 L685.8,674.9 L686.5,674.4 L687.2,674.0 L688.0,673.7 L688.8,673.5 L689.6,673.4 L690.5,673.4 L691.4,673.4 L692.2,673.5 L693.1,673.6 L693.9,673.7 L694.7,673.8 L695.5,673.8 L696.2,673.7 L697.0,673.6 L697.7,673.4 L698.5,673.2 L699.2,673.0 L700.0,672.8 L700.8,672.7 L701.6,672.6 L702.4,672.5 L703.1,672.6 L703.9,672.6 L704.7,672.7 L705.5,672.8 L706.3,672.8 L707.2,672.6 L708.3,671.8 L708.9,672.7 L709.5,673.4 L710.2,673.7 L711.0,673.9 L711.8,674.1 L712.6,674.3 L713.4,674.6 L714.1,675.0 L714.8,675.4 L715.5,675.9 L716.1,676.4 L716.7,677.0 L717.3,677.6 L717.9,678.2 L718.4,678.7 L719.0,679.3 L719.6,679.8 L720.3,680.3 L721.0,680.7 L721.9,681.0 L723.1,681.1 L724.0,681.5 L724.1,682.5 L724.6,683.2 L725.1,683.9 L725.6,684.6 L726.1,685.3 L726.5,686.0 L726.8,686.8 L727.0,687.7 L727.2,688.5 L727.4,689.3 L727.5,690.2 L727.6,691.0 L727.7,691.9 L727.8,692.7 L727.9,693.5 L728.0,694.3 L728.1,695.1 L728.1,696.0 L728.1,696.8 L728.0,697.6 L727.9,698.4 L727.7,699.2Z" fill="#dd8b8e" stroke="#a5555b" stroke-width="1.3" stroke-linejoin="round"/><g fill="#c7727a"><circle cx="709.3" cy="715.8" r="1.1"/><circle cx="712.7" cy="681.3" r="1.1"/><circle cx="702.1" cy="721.7" r="1.1"/><circle cx="701.4" cy="681.2" r="1.1"/><circle cx="682.8" cy="709.1" r="1.1"/><circle cx="718.0" cy="707.9" r="1.1"/><circle cx="709.3" cy="699.5" r="1.1"/><circle cx="691.6" cy="680.9" r="1.1"/><circle cx="687.5" cy="694.5" r="1.1"/><circle cx="718.5" cy="698.6" r="1.1"/><circle cx="705.2" cy="707.7" r="1.1"/><circle cx="690.9" cy="709.1" r="1.1"/><circle cx="686.1" cy="719.4" r="1.1"/><circle cx="678.0" cy="699.9" r="1.1"/><circle cx="703.8" cy="689.0" r="1.1"/><circle cx="678.9" cy="691.4" r="1.1"/><circle cx="694.5" cy="688.3" r="1.1"/><circle cx="695.2" cy="702.2" r="1.1"/></g><path d="M722.1,708.0 L722.4,708.7 L722.6,709.5 L722.6,710.3 L722.6,711.0 L722.3,711.8 L721.9,712.4 L721.5,713.0 L721.0,713.6 L720.5,714.2 L720.0,714.7 L719.5,715.3 L719.0,715.8 L718.4,716.2 L717.8,716.6 L717.1,716.8 L716.3,716.9 L715.6,717.0 L715.0,717.2 L714.3,717.3 L713.7,717.5 L713.0,717.7 L712.3,717.7 L711.7,717.7 L711.0,717.6 L710.3,717.4 L709.7,717.2 L709.1,717.1 L708.4,717.0 L707.7,716.8 L707.0,716.7 L706.3,716.4 L705.7,716.0 L705.2,715.5 L704.8,714.9 L704.5,714.3 L704.2,713.7 L703.8,713.1 L703.5,712.5 L703.2,711.9 L702.9,711.3 L702.6,710.7 L702.4,710.0 L702.2,709.4 L702.0,708.7 L701.9,708.0 L701.8,707.3 L701.7,706.6 L701.8,705.8 L702.0,705.1 L702.4,704.5 L702.9,704.0 L703.4,703.4 L703.9,702.9 L704.2,702.4 L704.5,701.7 L704.8,701.0 L705.1,700.3 L705.5,699.6 L705.9,699.0 L706.5,698.5 L707.2,698.1 L707.9,697.8 L708.6,697.6 L709.4,697.4 L710.1,697.3 L710.9,697.3 L711.6,697.5 L712.4,697.8 L713.0,698.3 L713.6,698.8 L714.2,699.2 L714.7,699.6 L715.3,699.8 L715.9,700.0 L716.5,700.1 L717.2,700.3 L717.8,700.6 L718.4,700.9 L718.9,701.4 L719.3,701.9 L719.7,702.4 L720.1,702.9 L720.5,703.5 L720.8,704.1 L721.1,704.7 L721.3,705.3 L721.5,706.0 L721.7,706.6 L721.9,707.3Z" fill="#b65a60" stroke="#9c474d" stroke-width="1"/><path d="M820.1,750.0 L819.8,750.9 L819.5,751.7 L819.2,752.5 L818.9,753.3 L818.7,754.1 L818.6,754.9 L818.8,755.8 L819.6,756.9 L819.2,757.7 L818.6,758.4 L818.3,759.2 L818.1,760.0 L818.0,760.9 L817.7,761.7 L817.5,762.5 L817.2,763.4 L816.9,764.2 L816.5,765.0 L816.2,765.8 L815.9,766.7 L815.6,767.5 L815.3,768.4 L814.9,769.2 L814.5,770.0 L814.0,770.8 L813.4,771.5 L812.7,772.0 L811.9,772.5 L811.0,772.9 L810.1,773.2 L809.2,773.5 L808.4,773.9 L807.9,774.7 L808.0,776.3 L806.4,775.5 L805.4,775.5 L804.6,775.8 L803.9,776.4 L803.3,777.0 L802.6,777.6 L801.9,778.2 L801.1,778.6 L800.3,779.0 L799.5,779.2 L798.6,779.3 L797.7,779.4 L796.8,779.3 L795.9,779.3 L795.1,779.3 L794.2,779.3 L793.4,779.3 L792.5,779.5 L791.7,780.0 L790.9,781.3 L790.0,781.2 L789.1,780.2 L788.3,779.9 L787.4,779.7 L786.6,779.6 L785.7,779.6 L784.9,779.5 L784.0,779.5 L783.1,779.5 L782.2,779.5 L781.3,779.6 L780.4,779.6 L779.5,779.5 L778.5,779.4 L777.6,779.2 L776.8,778.9 L776.0,778.4 L775.3,777.8 L774.7,777.1 L774.1,776.3 L773.6,775.6 L773.1,774.8 L772.5,774.0 L772.0,773.3 L771.4,772.7 L770.7,772.2 L770.0,771.7 L769.3,771.3 L768.6,770.8 L767.8,770.4 L767.1,769.9 L766.4,769.3 L765.6,768.8 L764.5,768.5 L763.1,768.4 L764.0,766.7 L764.1,765.6 L763.9,764.7 L763.7,763.9 L763.4,763.1 L763.0,762.3 L762.7,761.6 L762.3,760.8 L762.0,760.0 L761.8,759.2 L761.7,758.3 L761.6,757.5 L761.6,756.6 L761.7,755.7 L761.8,754.9 L761.9,754.0 L761.9,753.2 L761.7,752.4 L761.3,751.6 L760.1,750.9 L759.3,750.0 L760.4,749.2 L760.5,748.3 L760.4,747.5 L760.3,746.6 L760.2,745.7 L760.3,744.9 L760.4,744.0 L760.7,743.2 L761.0,742.4 L761.4,741.6 L761.8,740.8 L762.2,740.1 L762.5,739.3 L762.9,738.5 L763.2,737.8 L763.6,737.0 L764.0,736.3 L764.4,735.5 L764.9,734.9 L765.4,734.2 L766.0,733.6 L766.6,733.0 L767.2,732.4 L767.8,731.8 L768.3,731.2 L768.8,730.6 L769.2,729.8 L769.6,729.0 L769.9,728.1 L770.2,727.2 L770.6,726.2 L770.9,725.2 L771.1,724.0 L771.0,722.2 L772.2,722.4 L773.4,722.4 L774.4,722.3 L775.3,722.1 L776.2,722.0 L777.1,721.8 L778.0,721.6 L778.9,721.4 L779.7,721.1 L780.5,720.6 L781.2,719.9 L781.8,718.6 L782.6,718.3 L783.6,718.6 L784.6,718.6 L785.5,718.4 L786.4,718.2 L787.3,718.2 L788.2,718.1 L789.1,718.2 L790.0,718.3 L790.9,718.4 L791.8,718.5 L792.7,718.7 L793.6,718.9 L794.4,719.1 L795.3,719.4 L796.1,719.8 L796.9,720.2 L797.7,720.7 L798.4,721.3 L799.1,721.9 L799.8,722.5 L800.5,723.0 L801.2,723.5 L801.9,724.0 L802.6,724.3 L803.4,724.5 L804.3,724.7 L805.2,724.8 L806.2,724.8 L807.5,724.4 L808.7,724.2 L808.8,725.6 L809.3,726.4 L809.8,727.1 L810.3,727.9 L810.7,728.7 L811.1,729.5 L811.5,730.3 L811.9,731.1 L812.3,731.8 L812.7,732.5 L813.2,733.2 L813.7,733.8 L814.2,734.4 L814.7,735.1 L815.2,735.7 L815.7,736.4 L816.1,737.2 L816.4,737.9 L816.7,738.7 L817.0,739.5 L817.2,740.3 L817.5,741.1 L817.9,741.8 L818.2,742.6 L818.7,743.3 L819.1,744.1 L819.5,744.9 L819.9,745.7 L820.2,746.5 L820.3,747.4 L820.4,748.3 L820.3,749.1Z" fill="#dd8b8e" stroke="#a5555b" stroke-width="1.3" stroke-linejoin="round"/><g fill="#c7727a"><circle cx="788.0" cy="732.6" r="1.1"/><circle cx="800.2" cy="752.9" r="1.1"/><circle cx="772.3" cy="759.2" r="1.1"/><circle cx="796.7" cy="762.2" r="1.1"/><circle cx="765.2" cy="752.0" r="1.1"/><circle cx="781.0" cy="760.6" r="1.1"/><circle cx="802.3" cy="728.8" r="1.1"/><circle cx="779.5" cy="736.2" r="1.1"/><circle cx="790.8" cy="740.0" r="1.1"/><circle cx="799.8" cy="744.2" r="1.1"/><circle cx="773.9" cy="729.9" r="1.1"/><circle cx="802.0" cy="768.5" r="1.1"/><circle cx="810.7" cy="758.5" r="1.1"/><circle cx="781.9" cy="746.5" r="1.1"/><circle cx="809.1" cy="748.1" r="1.1"/><circle cx="769.0" cy="737.9" r="1.1"/><circle cx="788.2" cy="774.9" r="1.1"/><circle cx="789.5" cy="757.4" r="1.1"/><circle cx="777.7" cy="773.2" r="1.1"/><circle cx="792.7" cy="748.2" r="1.1"/><circle cx="808.4" cy="738.2" r="1.1"/></g><path d="M795.8,744.0 L795.8,744.7 L795.7,745.4 L795.5,746.0 L795.3,746.7 L795.0,747.3 L794.7,747.9 L794.4,748.5 L794.2,749.1 L794.0,749.8 L793.7,750.5 L793.3,751.1 L792.9,751.6 L792.3,752.1 L791.7,752.4 L791.0,752.6 L790.3,752.8 L789.6,753.0 L789.0,753.2 L788.3,753.4 L787.7,753.5 L787.0,753.6 L786.3,753.6 L785.7,753.6 L785.0,753.5 L784.3,753.5 L783.6,753.5 L782.9,753.5 L782.2,753.5 L781.5,753.3 L780.9,752.9 L780.4,752.4 L780.0,751.7 L779.6,751.1 L779.3,750.5 L778.9,750.0 L778.4,749.5 L777.8,749.1 L777.1,748.7 L776.5,748.2 L776.0,747.6 L775.6,747.0 L775.3,746.3 L775.1,745.5 L775.0,744.8 L774.9,744.0 L775.0,743.2 L775.1,742.5 L775.4,741.8 L775.9,741.1 L776.4,740.5 L777.0,740.0 L777.5,739.5 L777.9,739.0 L778.3,738.4 L778.7,737.9 L779.1,737.3 L779.5,736.8 L780.0,736.3 L780.6,736.0 L781.2,735.7 L781.8,735.5 L782.5,735.2 L783.1,735.0 L783.7,734.9 L784.4,734.7 L785.0,734.7 L785.7,734.8 L786.3,734.9 L787.0,734.9 L787.6,734.9 L788.3,734.9 L789.0,734.7 L789.8,734.6 L790.6,734.6 L791.3,734.8 L792.0,735.1 L792.6,735.6 L793.1,736.1 L793.6,736.7 L794.1,737.2 L794.6,737.8 L795.1,738.3 L795.6,738.9 L796.0,739.6 L796.2,740.3 L796.2,741.1 L796.2,741.8 L796.1,742.6 L795.9,743.3Z" fill="#b65a60" stroke="#9c474d" stroke-width="1"/><path d="M787.7,745.0 L787.8,745.7 L787.9,746.3 L787.9,747.0 L787.8,747.6 L787.7,748.3 L787.5,748.9 L787.3,749.5 L787.0,750.1 L786.7,750.7 L786.4,751.3 L786.1,751.9 L785.8,752.4 L785.5,753.0 L785.2,753.5 L784.9,754.1 L784.6,754.6 L784.3,755.2 L784.0,755.7 L783.7,756.3 L783.4,756.8 L783.1,757.4 L782.9,758.0 L782.9,758.8 L783.3,760.0 L781.9,759.6 L781.1,759.7 L780.5,760.1 L780.0,760.4 L779.6,760.9 L779.1,761.3 L778.7,761.7 L778.3,762.2 L777.8,762.7 L777.4,763.2 L777.0,763.6 L776.5,764.1 L776.0,764.6 L775.5,765.0 L775.0,765.4 L774.5,765.7 L773.9,766.0 L773.3,766.2 L772.6,766.4 L772.0,766.5 L771.3,766.5 L770.7,766.5 L770.0,766.5 L769.4,766.5 L768.7,766.4 L768.1,766.4 L767.5,766.4 L766.8,766.4 L766.2,766.5 L765.6,766.8 L765.0,767.8 L764.4,767.2 L763.8,766.6 L763.2,766.4 L762.6,766.3 L762.0,766.2 L761.3,766.1 L760.7,766.0 L760.2,765.8 L759.6,765.7 L759.0,765.5 L758.4,765.2 L757.9,765.0 L757.3,764.8 L756.7,764.5 L756.2,764.3 L755.6,764.1 L755.0,763.9 L754.5,763.6 L753.9,763.4 L753.2,763.3 L752.5,763.3 L751.4,763.8 L751.0,763.2 L750.9,762.2 L750.6,761.6 L750.2,761.1 L749.8,760.6 L749.4,760.1 L749.1,759.6 L748.7,759.1 L748.4,758.6 L748.0,758.1 L747.7,757.6 L747.3,757.1 L746.9,756.7 L746.4,756.2 L745.9,755.8 L745.4,755.3 L744.9,754.9 L744.4,754.4 L743.9,753.9 L743.4,753.4 L742.9,752.9 L742.5,752.3 L742.2,751.7 L742.0,751.1 L741.8,750.4 L741.7,749.7 L741.6,749.0 L741.6,748.4 L741.4,747.7 L740.7,747.1 L740.8,746.4 L741.9,745.7 L742.5,745.0 L742.8,744.4 L743.0,743.7 L743.1,743.1 L743.2,742.5 L743.2,741.9 L743.3,741.2 L743.3,740.6 L743.4,740.0 L743.4,739.3 L743.5,738.7 L743.6,738.0 L743.8,737.4 L743.9,736.8 L744.2,736.2 L744.4,735.6 L744.7,735.0 L745.1,734.5 L745.4,733.9 L745.7,733.4 L746.1,732.8 L746.4,732.3 L746.5,731.6 L746.3,730.6 L746.9,730.2 L747.8,730.1 L748.5,729.8 L749.0,729.4 L749.5,729.0 L750.0,728.7 L750.5,728.3 L751.1,728.0 L751.7,727.8 L752.3,727.5 L752.9,727.3 L753.5,727.2 L754.2,727.0 L754.8,726.9 L755.4,726.8 L756.0,726.6 L756.5,726.5 L757.1,726.3 L757.6,726.1 L758.2,725.8 L758.7,725.5 L759.2,725.2 L759.7,724.7 L760.1,724.0 L760.4,722.4 L761.2,723.1 L761.9,723.5 L762.5,723.5 L763.2,723.5 L763.8,723.4 L764.4,723.3 L765.0,723.3 L765.6,723.3 L766.2,723.4 L766.9,723.4 L767.5,723.5 L768.1,723.6 L768.7,723.6 L769.3,723.7 L769.9,723.8 L770.6,723.9 L771.2,723.9 L771.8,724.1 L772.4,724.2 L773.0,724.3 L773.7,724.5 L774.3,724.7 L774.8,725.0 L775.4,725.3 L776.0,725.6 L776.5,725.9 L777.0,726.3 L777.5,726.7 L778.0,727.1 L778.5,727.4 L779.1,727.8 L779.6,728.2 L780.1,728.5 L780.6,728.9 L781.2,729.3 L781.8,729.6 L782.4,730.0 L783.0,730.2 L784.0,730.3 L784.6,730.8 L784.4,731.7 L784.5,732.4 L784.7,733.1 L784.9,733.8 L785.1,734.4 L785.2,735.1 L785.2,735.8 L785.3,736.4 L785.4,737.1 L785.7,737.6 L786.5,738.0 L786.6,738.7 L785.9,739.5 L785.8,740.2 L785.9,740.8 L786.1,741.3 L786.4,741.9 L786.7,742.5 L787.0,743.1 L787.2,743.7 L787.5,744.4Z" fill="#f5a6a8" stroke="#bb6a70" stroke-width="1.3" stroke-linejoin="round"/><g fill="#e28a8d"><circle cx="766.4" cy="729.7" r="1.1"/><circle cx="757.1" cy="746.6" r="1.1"/><circle cx="764.7" cy="750.2" r="1.1"/><circle cx="770.1" cy="741.0" r="1.1"/><circle cx="777.2" cy="755.8" r="1.1"/><circle cx="752.0" cy="752.6" r="1.1"/><circle cx="751.1" cy="736.6" r="1.1"/><circle cx="746.4" cy="744.2" r="1.1"/><circle cx="761.1" cy="739.0" r="1.1"/><circle cx="757.2" cy="760.2" r="1.1"/><circle cx="757.8" cy="727.9" r="1.1"/></g><path d="M773.9,745.0 L773.9,745.6 L773.9,746.2 L773.7,746.8 L773.5,747.4 L773.2,748.0 L773.0,748.6 L772.8,749.2 L772.7,749.8 L772.4,750.4 L772.1,751.0 L771.7,751.4 L771.1,751.8 L770.5,752.0 L769.8,752.1 L769.2,752.2 L768.6,752.4 L768.1,752.6 L767.5,752.8 L767.0,753.1 L766.5,753.4 L765.9,753.6 L765.3,753.8 L764.7,753.9 L764.0,754.1 L763.4,754.2 L762.7,754.3 L762.0,754.3 L761.3,754.3 L760.6,754.0 L760.0,753.6 L759.5,753.1 L759.1,752.5 L758.7,752.0 L758.4,751.4 L758.0,750.9 L757.6,750.4 L757.2,749.9 L756.8,749.4 L756.5,748.8 L756.3,748.2 L756.1,747.6 L756.0,746.9 L755.9,746.3 L755.9,745.6 L755.9,745.0 L756.1,744.4 L756.5,743.8 L756.9,743.3 L757.3,742.8 L757.7,742.3 L758.0,741.9 L758.2,741.4 L758.3,740.8 L758.4,740.2 L758.5,739.5 L758.7,738.9 L759.0,738.4 L759.5,737.9 L759.9,737.5 L760.5,737.1 L761.0,736.8 L761.5,736.4 L762.1,736.1 L762.7,735.8 L763.4,735.7 L764.0,735.6 L764.7,735.6 L765.3,735.7 L766.0,735.8 L766.6,735.9 L767.3,735.9 L767.9,736.0 L768.6,736.1 L769.2,736.4 L769.8,736.7 L770.3,737.2 L770.7,737.7 L771.1,738.2 L771.5,738.7 L771.9,739.2 L772.2,739.7 L772.6,740.3 L772.9,740.8 L773.1,741.4 L773.2,742.0 L773.4,742.6 L773.5,743.2 L773.7,743.8 L773.8,744.4Z" fill="#d9777b" stroke="#c4656a" stroke-width="1"/><path d="M768.5,790.0 L768.5,790.7 L768.4,791.3 L768.4,792.0 L768.3,792.7 L768.3,793.3 L768.5,794.1 L769.2,794.9 L768.2,795.4 L767.6,795.9 L767.3,796.5 L767.0,797.2 L766.8,797.8 L766.6,798.4 L766.4,799.1 L766.2,799.7 L765.9,800.3 L765.7,800.9 L765.4,801.5 L765.1,802.1 L764.7,802.7 L764.3,803.2 L764.0,803.8 L763.6,804.3 L763.2,804.9 L762.9,805.5 L762.6,806.1 L762.4,806.9 L762.5,808.1 L762.0,808.5 L761.2,808.7 L760.7,809.3 L760.3,809.9 L759.9,810.5 L759.4,811.1 L758.9,811.7 L758.4,812.2 L757.8,812.6 L757.1,813.0 L756.5,813.3 L755.8,813.5 L755.0,813.7 L754.3,813.8 L753.5,813.8 L752.7,813.8 L752.0,813.7 L751.2,813.7 L750.5,813.6 L749.8,813.6 L749.1,813.6 L748.4,813.6 L747.7,813.7 L747.0,813.9 L746.4,814.0 L745.7,814.2 L745.0,814.3 L744.3,814.5 L743.6,814.6 L742.9,814.7 L742.2,814.7 L741.4,814.8 L740.7,815.0 L739.8,815.7 L739.1,815.3 L738.6,814.3 L738.0,813.8 L737.4,813.3 L736.8,813.0 L736.2,812.6 L735.6,812.3 L735.0,811.9 L734.4,811.5 L733.8,811.2 L733.2,810.8 L732.7,810.5 L732.1,810.1 L731.5,809.7 L731.0,809.2 L730.5,808.8 L730.0,808.4 L729.4,808.0 L728.6,807.8 L727.2,808.3 L727.7,806.8 L727.9,805.7 L727.7,805.0 L727.4,804.4 L727.1,803.8 L726.8,803.3 L726.4,802.7 L726.0,802.2 L725.6,801.7 L725.1,801.2 L724.7,800.7 L724.2,800.2 L723.8,799.7 L723.3,799.2 L722.9,798.6 L722.5,798.0 L722.2,797.4 L721.9,796.8 L721.4,796.2 L720.6,795.7 L720.6,794.9 L721.2,794.1 L721.3,793.4 L721.4,792.7 L721.5,792.0 L721.5,791.3 L721.5,790.7 L721.5,790.0 L721.5,789.3 L721.5,788.7 L721.5,788.0 L721.4,787.3 L721.4,786.6 L721.4,785.9 L721.5,785.2 L721.5,784.5 L721.6,783.8 L721.7,783.2 L721.9,782.5 L722.1,781.8 L722.3,781.2 L722.5,780.5 L722.8,779.9 L723.1,779.2 L723.4,778.6 L723.7,778.0 L724.0,777.3 L724.2,776.7 L724.4,775.9 L724.4,775.0 L724.6,774.3 L725.5,774.1 L726.2,773.7 L726.8,773.3 L727.3,772.8 L727.9,772.4 L728.5,772.1 L729.2,771.8 L729.8,771.5 L730.5,771.2 L731.2,771.0 L731.9,770.8 L732.5,770.5 L733.1,770.3 L733.7,770.0 L734.3,769.7 L734.8,769.3 L735.4,768.9 L735.9,768.5 L736.4,768.0 L737.0,767.5 L737.5,767.0 L738.1,766.6 L738.7,766.1 L739.3,765.7 L740.0,765.3 L740.6,764.8 L741.3,764.0 L742.0,763.9 L742.8,764.5 L743.6,764.8 L744.3,765.1 L745.0,765.3 L745.7,765.5 L746.4,765.7 L747.1,765.9 L747.7,766.1 L748.4,766.3 L749.1,766.4 L749.7,766.6 L750.4,766.7 L751.1,766.9 L751.8,767.0 L752.4,767.1 L753.1,767.3 L753.8,767.5 L754.5,767.6 L755.1,767.8 L755.9,767.8 L756.9,767.5 L757.3,768.1 L757.6,769.0 L758.1,769.6 L758.6,770.1 L759.2,770.5 L759.7,770.9 L760.3,771.3 L760.8,771.7 L761.4,772.1 L762.0,772.6 L762.5,773.0 L763.1,773.4 L763.6,773.9 L764.1,774.4 L764.5,774.9 L765.0,775.5 L765.3,776.1 L765.6,776.7 L765.9,777.4 L766.1,778.1 L766.2,778.8 L766.4,779.5 L766.5,780.2 L766.5,780.9 L766.6,781.6 L766.7,782.3 L766.8,782.9 L767.0,783.6 L767.1,784.2 L767.3,784.8 L767.5,785.4 L767.7,786.1 L767.9,786.7 L768.0,787.4 L768.2,788.0 L768.3,788.7 L768.4,789.3Z" fill="#dd8b8e" stroke="#a5555b" stroke-width="1.3" stroke-linejoin="round"/><g fill="#c7727a"><circle cx="746.6" cy="786.9" r="1.1"/><circle cx="732.1" cy="774.3" r="1.1"/><circle cx="749.9" cy="795.9" r="1.1"/><circle cx="736.2" cy="801.6" r="1.1"/><circle cx="742.2" cy="774.2" r="1.1"/><circle cx="756.4" cy="801.8" r="1.1"/><circle cx="753.0" cy="770.7" r="1.1"/><circle cx="745.1" cy="803.5" r="1.1"/><circle cx="725.5" cy="793.8" r="1.1"/><circle cx="726.5" cy="782.0" r="1.1"/><circle cx="760.5" cy="781.3" r="1.1"/><circle cx="758.7" cy="793.1" r="1.1"/><circle cx="737.5" cy="787.8" r="1.1"/></g><path d="M861.1,768.0 L862.4,768.7 L861.3,769.3 L860.7,769.9 L860.4,770.6 L860.2,771.2 L860.1,771.8 L859.9,772.4 L859.8,773.1 L859.6,773.7 L859.5,774.3 L859.3,774.9 L859.1,775.5 L859.0,776.2 L858.7,776.8 L858.5,777.4 L858.2,777.9 L857.9,778.5 L857.5,779.0 L857.1,779.5 L856.6,780.0 L856.1,780.4 L855.5,780.7 L855.0,781.1 L854.4,781.4 L853.8,781.7 L853.2,782.0 L852.7,782.2 L852.1,782.5 L851.6,782.8 L851.1,783.1 L850.7,783.5 L850.2,783.9 L849.8,784.3 L849.4,784.7 L849.0,785.2 L848.7,785.7 L848.4,786.4 L848.3,787.6 L847.8,787.9 L847.0,787.6 L846.3,787.7 L845.8,788.0 L845.3,788.3 L844.7,788.7 L844.3,789.4 L843.9,790.4 L843.1,789.8 L842.4,789.6 L841.8,789.7 L841.1,789.9 L840.5,790.1 L839.9,790.3 L839.3,790.4 L838.6,790.6 L838.0,790.7 L837.4,790.7 L836.7,790.7 L836.1,790.7 L835.4,790.6 L834.8,790.4 L834.1,790.3 L833.5,790.0 L832.9,789.7 L832.4,789.5 L831.8,789.2 L831.2,788.9 L830.6,788.6 L830.1,788.4 L829.5,788.1 L828.9,787.9 L828.3,787.8 L827.7,787.6 L827.0,787.4 L826.4,787.3 L825.7,787.1 L825.1,786.9 L824.5,786.6 L823.9,786.3 L823.4,785.9 L822.9,785.5 L822.4,785.0 L822.0,784.5 L821.7,783.9 L821.4,783.3 L821.1,782.7 L820.8,782.0 L820.6,781.4 L820.3,780.8 L820.0,780.3 L819.5,779.9 L818.6,779.7 L817.5,779.6 L818.2,778.4 L818.2,777.7 L818.0,777.1 L817.6,776.6 L817.3,776.1 L816.9,775.5 L816.6,775.0 L816.3,774.4 L816.0,773.8 L815.7,773.2 L815.2,772.6 L814.3,772.1 L815.1,771.3 L815.4,770.6 L815.6,769.9 L815.7,769.3 L815.8,768.6 L815.8,768.0 L815.9,767.4 L816.0,766.7 L816.1,766.1 L816.3,765.5 L816.4,764.9 L816.5,764.3 L816.7,763.7 L816.9,763.1 L817.1,762.5 L817.3,761.9 L817.6,761.4 L817.9,760.8 L818.2,760.3 L818.5,759.8 L818.8,759.2 L819.1,758.7 L819.4,758.2 L819.7,757.6 L819.9,757.1 L820.1,756.5 L820.3,755.9 L820.5,755.3 L820.7,754.7 L821.0,754.1 L821.2,753.4 L821.4,752.8 L821.7,752.2 L822.0,751.5 L822.1,750.7 L822.0,749.5 L823.1,749.7 L823.9,749.7 L824.5,749.4 L825.1,749.2 L825.8,749.0 L826.4,748.8 L827.0,748.6 L827.7,748.4 L828.3,748.3 L828.9,748.1 L829.5,748.0 L830.2,747.9 L830.8,747.7 L831.4,747.6 L832.0,747.4 L832.6,747.3 L833.2,747.2 L833.7,747.0 L834.3,746.6 L834.8,745.8 L835.5,746.2 L836.2,746.7 L836.8,747.0 L837.4,747.1 L838.0,747.1 L838.6,747.2 L839.2,747.2 L839.8,747.2 L840.4,747.2 L841.0,747.1 L841.6,747.0 L842.3,747.0 L842.9,746.9 L843.6,746.9 L844.2,746.9 L844.9,746.9 L845.5,747.0 L846.1,747.1 L846.7,747.3 L847.3,747.6 L847.9,747.9 L848.4,748.3 L848.9,748.7 L849.4,749.1 L849.9,749.5 L850.3,750.0 L850.8,750.4 L851.2,750.8 L851.7,751.2 L852.2,751.6 L852.8,751.9 L853.3,752.2 L853.9,752.6 L854.5,752.9 L855.1,753.2 L855.7,753.5 L856.3,753.9 L856.8,754.3 L857.4,754.8 L857.9,755.2 L858.6,755.6 L859.3,756.0 L859.0,756.9 L859.0,757.7 L859.1,758.4 L859.2,759.1 L859.2,759.7 L859.3,760.4 L859.3,761.1 L859.4,761.7 L859.5,762.4 L859.5,763.0 L859.6,763.6 L859.7,764.2 L859.9,764.9 L860.0,765.5 L860.1,766.1 L860.3,766.7 L860.6,767.4Z" fill="#f5a6a8" stroke="#bb6a70" stroke-width="1.3" stroke-linejoin="round"/><g fill="#e28a8d"><circle cx="832.0" cy="769.6" r="1.1"/><circle cx="835.6" cy="779.9" r="1.1"/><circle cx="822.3" cy="757.7" r="1.1"/><circle cx="845.5" cy="770.0" r="1.1"/><circle cx="823.4" cy="772.4" r="1.1"/><circle cx="849.9" cy="761.2" r="1.1"/><circle cx="830.2" cy="755.0" r="1.1"/><circle cx="842.5" cy="785.7" r="1.1"/><circle cx="854.2" cy="768.7" r="1.1"/><circle cx="838.4" cy="752.7" r="1.1"/><circle cx="849.2" cy="752.7" r="1.1"/></g><path d="M835.3,742.0 L835.4,742.5 L835.4,743.1 L835.4,743.6 L835.4,744.1 L835.3,744.6 L835.3,745.2 L835.2,745.7 L835.0,746.2 L834.9,746.7 L834.8,747.2 L835.0,747.9 L834.5,748.2 L833.8,748.5 L833.3,748.9 L832.9,749.2 L832.5,749.6 L832.1,750.0 L831.8,750.4 L831.5,750.7 L831.2,751.1 L831.0,751.6 L830.7,752.0 L830.5,752.4 L830.4,752.9 L830.2,753.4 L830.0,753.9 L829.8,754.4 L829.5,754.9 L829.3,755.3 L829.0,755.8 L828.6,756.2 L828.2,756.6 L827.8,756.9 L827.4,757.2 L827.0,757.5 L826.6,757.9 L826.2,758.4 L826.1,759.3 L825.4,759.1 L824.7,758.8 L824.1,758.8 L823.7,759.1 L823.4,759.8 L822.7,759.7 L822.1,759.5 L821.6,759.6 L821.1,759.7 L820.6,759.8 L820.1,759.9 L819.6,760.1 L819.1,760.2 L818.6,760.2 L818.0,760.3 L817.5,760.3 L817.0,760.4 L816.5,760.4 L815.9,760.4 L815.4,760.4 L814.9,760.3 L814.4,760.3 L813.8,760.3 L813.3,760.2 L812.8,760.1 L812.3,760.1 L811.7,759.9 L811.2,759.8 L810.7,759.6 L810.2,759.4 L809.8,759.2 L809.3,758.9 L808.8,758.6 L808.4,758.3 L807.9,758.1 L807.2,758.3 L807.0,757.5 L806.8,756.9 L806.5,756.5 L806.1,756.1 L805.7,755.8 L805.3,755.5 L804.9,755.2 L804.5,754.9 L804.0,754.6 L803.6,754.3 L803.1,754.0 L802.7,753.7 L802.3,753.3 L801.9,752.9 L801.6,752.5 L801.3,752.1 L801.1,751.6 L800.9,751.1 L800.7,750.6 L800.6,750.1 L800.6,749.5 L800.5,749.0 L800.5,748.4 L800.5,747.9 L800.5,747.4 L800.4,746.9 L800.4,746.4 L800.4,745.9 L800.3,745.4 L800.3,744.9 L800.2,744.4 L800.1,743.9 L799.9,743.5 L799.2,743.0 L799.4,742.5 L799.9,742.0 L800.1,741.5 L800.2,741.0 L800.3,740.6 L800.4,740.1 L800.5,739.6 L800.5,739.2 L800.6,738.7 L800.6,738.2 L800.6,737.7 L800.6,737.2 L800.6,736.7 L800.6,736.1 L800.5,735.6 L800.5,735.0 L800.5,734.5 L800.5,733.9 L800.6,733.3 L800.6,732.8 L800.6,732.1 L800.4,731.3 L800.8,730.9 L801.5,730.8 L802.0,730.5 L802.5,730.1 L802.9,729.8 L803.4,729.5 L803.9,729.2 L804.3,728.9 L804.8,728.7 L805.2,728.4 L805.6,728.1 L806.0,727.8 L806.4,727.5 L806.8,727.1 L807.2,726.8 L807.6,726.5 L808.0,726.1 L808.4,725.8 L808.9,725.4 L809.3,725.1 L809.8,724.8 L810.2,724.6 L810.7,724.4 L811.2,724.2 L811.7,724.0 L812.2,723.9 L812.8,723.8 L813.3,723.7 L813.8,723.6 L814.4,723.6 L814.9,723.5 L815.4,723.5 L815.9,723.5 L816.5,723.5 L817.0,723.5 L817.5,723.5 L818.1,723.4 L818.6,723.1 L819.3,722.1 L819.7,723.2 L820.1,723.8 L820.6,724.1 L821.1,724.4 L821.6,724.6 L822.1,724.8 L822.5,725.0 L823.0,725.2 L823.5,725.4 L824.0,725.5 L824.4,725.7 L824.9,725.9 L825.4,726.1 L825.9,726.2 L826.4,726.4 L826.9,726.7 L827.3,726.9 L827.7,727.2 L828.2,727.5 L828.5,727.9 L828.9,728.3 L829.2,728.7 L829.5,729.2 L829.7,729.6 L829.9,730.1 L830.2,730.6 L830.4,731.1 L830.7,731.5 L831.1,731.8 L831.9,731.8 L832.2,732.2 L831.8,733.1 L831.9,733.6 L832.1,734.0 L832.4,734.4 L832.7,734.8 L833.0,735.2 L833.4,735.6 L833.7,736.1 L834.0,736.5 L834.2,736.9 L834.4,737.4 L834.6,737.9 L834.8,738.4 L834.9,738.9 L835.0,739.4 L835.1,739.9 L835.2,740.4 L835.2,741.0 L835.3,741.5Z" fill="#dd8b8e" stroke="#a5555b" stroke-width="1.3" stroke-linejoin="round"/><g fill="#c7727a"><circle cx="824.2" cy="731.2" r="1.1"/><circle cx="820.8" cy="744.5" r="1.1"/><circle cx="807.4" cy="752.4" r="1.1"/><circle cx="813.3" cy="734.8" r="1.1"/><circle cx="829.5" cy="742.7" r="1.1"/><circle cx="821.8" cy="754.7" r="1.1"/><circle cx="809.4" cy="742.5" r="1.1"/></g><path d="M758.7,762.0 L758.4,762.5 L758.2,762.9 L758.0,763.4 L757.8,763.8 L757.7,764.3 L757.6,764.7 L757.5,765.1 L757.4,765.6 L757.3,766.0 L757.3,766.5 L757.2,767.0 L757.2,767.4 L757.2,767.9 L757.2,768.4 L757.2,768.9 L757.1,769.4 L757.0,769.9 L756.9,770.4 L756.7,770.8 L756.4,771.3 L756.1,771.6 L755.8,772.0 L755.4,772.3 L755.0,772.6 L754.5,772.9 L754.1,773.1 L753.6,773.3 L753.2,773.5 L752.8,773.8 L752.4,774.0 L752.0,774.2 L751.7,774.5 L751.4,774.9 L751.3,775.6 L750.7,775.5 L750.2,775.6 L749.8,775.8 L749.4,776.0 L749.0,776.2 L748.6,776.4 L748.2,776.6 L747.7,776.7 L747.3,776.8 L746.8,776.9 L746.4,777.0 L745.9,777.0 L745.5,777.0 L745.0,777.0 L744.6,777.1 L744.2,777.1 L743.7,777.1 L743.3,777.1 L742.9,777.1 L742.4,777.1 L742.0,777.1 L741.6,777.1 L741.1,777.1 L740.7,777.1 L740.3,777.1 L739.8,777.0 L739.4,776.9 L739.0,776.8 L738.6,776.8 L738.1,776.7 L737.7,776.7 L737.1,777.0 L736.4,777.6 L736.3,776.7 L735.9,776.4 L735.5,776.2 L735.1,776.1 L734.6,776.1 L734.1,776.0 L733.6,775.9 L733.1,775.8 L732.6,775.7 L732.2,775.5 L731.7,775.3 L731.3,775.0 L730.9,774.8 L730.6,774.4 L730.3,774.1 L730.0,773.7 L729.7,773.3 L729.5,772.8 L729.2,772.4 L729.0,772.0 L728.7,771.6 L728.3,771.4 L727.8,771.1 L728.0,770.4 L727.9,769.9 L727.8,769.5 L727.6,769.1 L727.3,768.7 L727.1,768.3 L726.9,767.9 L726.7,767.4 L726.6,767.0 L726.4,766.6 L726.2,766.2 L725.8,765.8 L725.0,765.5 L725.5,764.8 L725.8,764.3 L725.8,763.9 L725.8,763.4 L725.7,762.9 L725.7,762.5 L725.6,762.0 L725.5,761.5 L725.4,761.1 L725.3,760.6 L725.3,760.1 L725.3,759.6 L725.3,759.1 L725.4,758.6 L725.5,758.2 L725.7,757.7 L725.9,757.3 L726.2,756.9 L726.5,756.5 L726.9,756.1 L727.2,755.8 L727.6,755.4 L728.0,755.1 L728.3,754.8 L728.6,754.4 L728.8,754.0 L728.7,753.5 L728.7,752.9 L729.4,752.9 L729.8,752.6 L730.1,752.2 L730.3,751.8 L730.5,751.4 L730.7,751.0 L730.9,750.6 L731.2,750.2 L731.5,749.9 L731.8,749.6 L732.2,749.3 L732.6,749.0 L733.0,748.8 L733.4,748.6 L733.8,748.4 L734.2,748.2 L734.7,748.1 L735.1,747.9 L735.5,747.8 L735.9,747.6 L736.3,747.4 L736.7,747.3 L737.2,747.1 L737.6,746.9 L738.0,746.7 L738.4,746.5 L738.8,746.4 L739.3,746.2 L739.7,746.1 L740.2,746.0 L740.6,746.0 L741.1,745.9 L741.5,745.9 L742.0,745.9 L742.5,745.9 L742.9,745.9 L743.4,746.0 L743.8,746.0 L744.3,746.0 L744.8,746.1 L745.2,746.1 L745.7,746.0 L746.3,745.8 L747.0,745.0 L747.2,746.0 L747.5,746.6 L747.9,746.9 L748.3,747.2 L748.6,747.5 L749.0,747.8 L749.3,748.1 L749.7,748.5 L750.0,748.8 L750.3,749.1 L750.7,749.3 L751.2,749.3 L751.5,749.6 L751.6,750.2 L751.9,750.6 L752.2,750.9 L752.6,751.1 L753.0,751.3 L753.4,751.6 L753.8,751.8 L754.2,752.1 L754.6,752.3 L754.9,752.6 L755.3,752.9 L755.6,753.2 L755.9,753.6 L756.2,754.0 L756.5,754.4 L756.7,754.8 L756.9,755.2 L757.1,755.6 L757.3,756.0 L757.5,756.5 L757.6,756.9 L757.8,757.4 L757.9,757.8 L758.1,758.3 L758.2,758.7 L758.3,759.2 L758.4,759.6 L758.5,760.1 L758.8,760.6 L759.2,761.0 L759.4,761.5Z" fill="#dd8b8e" stroke="#a5555b" stroke-width="1.3" stroke-linejoin="round"/><g fill="#c7727a"><circle cx="749.8" cy="751.4" r="1.1"/><circle cx="735.6" cy="752.6" r="1.1"/><circle cx="737.0" cy="772.5" r="1.1"/><circle cx="746.4" cy="772.6" r="1.1"/><circle cx="729.5" cy="765.1" r="1.1"/><circle cx="747.8" cy="762.8" r="1.1"/></g><path d="M786.9,708.0 L787.2,709.1 L787.6,710.2 L788.1,711.3 L788.5,712.4 L788.8,713.6 L788.9,714.7 L788.9,715.9 L789.0,717.1 L790.0,718.5 L788.2,719.2 L786.3,719.8 L785.1,720.5 L784.3,721.4 L783.8,722.3 L783.4,723.3 L783.1,724.3 L782.9,725.3 L782.6,726.4 L782.2,727.4 L781.7,728.4 L781.1,729.3 L780.4,730.1 L779.7,730.9 L778.9,731.6 L778.2,732.4 L777.4,733.2 L776.7,733.9 L775.9,734.6 L775.0,735.3 L774.1,735.9 L773.2,736.4 L772.5,737.1 L772.2,738.5 L771.0,738.7 L769.1,737.7 L767.9,737.6 L766.9,737.9 L766.1,738.5 L765.4,739.3 L764.7,740.1 L763.9,741.0 L763.2,741.8 L762.3,742.5 L761.3,742.9 L760.3,743.2 L759.3,743.4 L758.2,743.4 L757.2,743.4 L756.2,743.6 L755.2,743.8 L754.2,744.5 L753.3,746.0 L752.2,746.2 L751.1,745.1 L750.0,744.7 L749.0,744.4 L747.9,744.3 L746.9,744.1 L745.9,743.9 L744.9,743.8 L743.8,743.8 L742.7,743.9 L741.6,744.2 L740.4,744.4 L739.2,744.7 L738.1,744.7 L736.9,744.6 L735.9,744.3 L734.9,743.7 L734.0,742.9 L733.3,742.1 L732.5,741.1 L731.8,740.2 L731.1,739.4 L730.3,738.7 L729.4,738.1 L728.6,737.5 L727.7,736.9 L726.9,736.3 L726.1,735.6 L725.3,734.9 L724.6,734.1 L723.9,733.3 L723.2,732.6 L722.5,731.9 L721.6,731.2 L720.8,730.5 L719.9,729.9 L719.0,729.2 L718.2,728.4 L717.5,727.6 L716.8,726.8 L715.7,726.1 L714.2,725.6 L715.9,723.6 L716.5,722.2 L716.6,721.0 L716.4,720.0 L715.9,719.1 L715.3,718.2 L714.5,717.3 L713.6,716.5 L712.8,715.5 L712.2,714.5 L711.8,713.5 L711.5,712.4 L711.5,711.3 L711.7,710.2 L711.9,709.1 L712.2,708.0 L712.4,706.9 L712.6,705.9 L712.7,704.8 L712.8,703.7 L713.0,702.7 L713.1,701.6 L713.1,700.5 L712.7,699.3 L711.3,697.8 L712.5,697.0 L714.0,696.3 L714.6,695.4 L714.9,694.3 L715.1,693.2 L715.2,692.1 L715.4,691.0 L715.6,689.8 L715.7,688.6 L715.4,687.1 L717.5,687.1 L719.0,686.8 L720.2,686.3 L721.2,685.8 L722.1,685.2 L722.8,684.4 L723.4,683.6 L723.8,682.6 L724.2,681.5 L724.7,680.4 L725.2,679.3 L725.8,678.4 L726.5,677.5 L727.4,676.9 L728.4,676.3 L729.4,675.9 L730.4,675.5 L731.4,675.1 L732.4,674.7 L733.4,674.3 L734.4,673.8 L735.4,673.5 L736.5,673.2 L737.5,673.1 L738.6,673.1 L739.8,673.1 L740.9,673.2 L741.9,673.3 L743.0,673.3 L744.0,673.2 L745.0,672.9 L745.9,672.5 L746.9,672.1 L747.9,671.6 L749.0,671.3 L750.0,671.1 L751.1,671.2 L752.1,671.4 L753.1,671.8 L754.1,672.1 L755.2,671.9 L756.5,670.5 L757.3,672.1 L758.0,673.6 L758.9,674.3 L759.8,674.7 L760.7,675.0 L761.7,675.3 L762.6,675.6 L763.5,676.0 L764.4,676.5 L765.3,676.9 L766.2,677.2 L767.2,677.5 L768.3,677.6 L769.5,677.7 L770.7,677.8 L771.9,677.9 L773.1,678.1 L774.1,678.5 L775.1,679.1 L775.9,679.8 L776.6,680.6 L777.5,681.3 L778.9,681.5 L779.6,682.3 L779.1,684.2 L779.3,685.4 L779.9,686.3 L780.7,687.0 L781.6,687.7 L782.5,688.4 L783.3,689.2 L784.1,690.0 L784.7,690.9 L785.2,691.9 L785.6,692.9 L786.1,694.0 L786.4,695.0 L786.8,696.0 L787.2,697.1 L787.5,698.1 L787.7,699.2 L787.8,700.3 L787.8,701.5 L787.6,702.6 L787.4,703.7 L787.1,704.8 L786.9,705.9 L786.8,706.9Z" fill="#f5a6a8" stroke="#bb6a70" stroke-width="1.3" stroke-linejoin="round"/><g fill="#e28a8d"><circle cx="746.4" cy="704.7" r="1.1"/><circle cx="768.7" cy="713.0" r="1.1"/><circle cx="753.8" cy="678.3" r="1.1"/><circle cx="748.7" cy="724.4" r="1.1"/><circle cx="727.0" cy="694.5" r="1.1"/><circle cx="759.7" cy="716.9" r="1.1"/><circle cx="760.7" cy="735.8" r="1.1"/><circle cx="763.4" cy="691.8" r="1.1"/><circle cx="775.9" cy="707.3" r="1.1"/><circle cx="737.1" cy="711.6" r="1.1"/><circle cx="762.0" cy="724.7" r="1.1"/><circle cx="771.7" cy="685.1" r="1.1"/><circle cx="736.1" cy="721.1" r="1.1"/><circle cx="745.4" cy="696.8" r="1.1"/><circle cx="742.5" cy="676.5" r="1.1"/><circle cx="754.3" cy="708.1" r="1.1"/><circle cx="736.9" cy="682.3" r="1.1"/><circle cx="718.4" cy="708.6" r="1.1"/><circle cx="745.7" cy="687.7" r="1.1"/><circle cx="775.9" cy="727.5" r="1.1"/><circle cx="774.2" cy="719.3" r="1.1"/><circle cx="767.3" cy="701.2" r="1.1"/><circle cx="737.2" cy="735.2" r="1.1"/><circle cx="725.9" cy="704.9" r="1.1"/><circle cx="778.3" cy="697.3" r="1.1"/><circle cx="747.3" cy="739.9" r="1.1"/><circle cx="721.4" cy="723.2" r="1.1"/><circle cx="755.1" cy="686.6" r="1.1"/><circle cx="725.3" cy="713.6" r="1.1"/><circle cx="726.7" cy="729.7" r="1.1"/><circle cx="768.6" cy="731.5" r="1.1"/><circle cx="734.8" cy="699.3" r="1.1"/></g><path d="M775.5,709.0 L775.3,710.2 L775.1,711.4 L774.8,712.6 L774.3,713.7 L773.6,714.7 L773.0,715.7 L772.4,716.7 L771.9,717.7 L771.5,718.8 L771.1,720.0 L770.6,721.2 L769.9,722.2 L768.9,723.0 L767.8,723.5 L766.5,723.8 L765.2,723.9 L764.0,723.9 L762.9,724.1 L761.8,724.4 L760.8,724.9 L759.7,725.3 L758.6,725.6 L757.4,725.8 L756.2,725.9 L755.0,725.8 L753.9,725.6 L752.7,725.4 L751.5,725.1 L750.4,724.6 L749.4,723.9 L748.6,723.0 L747.9,722.0 L747.3,720.9 L746.8,719.8 L746.2,718.9 L745.5,718.1 L744.7,717.3 L743.8,716.6 L742.8,715.7 L742.0,714.8 L741.3,713.8 L740.7,712.7 L740.2,711.5 L739.7,710.3 L739.4,709.0 L739.2,707.7 L739.2,706.4 L739.4,705.1 L740.0,703.8 L740.8,702.7 L741.8,701.8 L742.7,700.9 L743.5,699.9 L744.2,699.0 L744.8,697.9 L745.5,696.9 L746.3,696.0 L747.3,695.3 L748.4,694.8 L749.6,694.5 L750.9,694.4 L752.0,694.2 L753.1,694.1 L754.2,693.8 L755.3,693.5 L756.3,693.2 L757.4,693.1 L758.6,693.1 L759.7,693.3 L760.7,693.5 L761.8,693.7 L762.9,693.9 L764.0,694.1 L765.2,694.3 L766.3,694.6 L767.4,695.1 L768.4,695.7 L769.4,696.4 L770.3,697.1 L771.2,697.9 L772.2,698.7 L773.2,699.5 L774.2,700.4 L775.0,701.4 L775.5,702.6 L775.8,703.9 L775.9,705.2 L775.8,706.5 L775.6,707.8Z" fill="#d9777b" stroke="#c4656a" stroke-width="1"/><path d="M870.9,692.0 L871.1,693.4 L870.9,694.7 L870.7,696.1 L870.6,697.5 L870.4,698.8 L870.4,700.2 L870.5,701.6 L870.8,703.1 L872.0,704.9 L870.5,706.0 L868.2,706.7 L866.7,707.6 L865.6,708.6 L864.9,709.7 L864.6,711.0 L864.5,712.4 L864.5,713.9 L864.4,715.4 L864.1,716.8 L863.4,718.0 L862.4,718.9 L861.1,719.7 L859.8,720.4 L858.6,721.1 L857.7,722.0 L857.3,723.4 L858.0,726.1 L855.4,725.3 L853.8,725.5 L852.5,726.1 L851.4,726.7 L850.3,727.4 L849.3,728.2 L848.4,729.2 L847.6,730.3 L846.8,731.5 L846.0,732.7 L845.0,733.6 L843.8,734.3 L842.4,734.5 L840.9,734.5 L839.5,734.3 L838.1,734.2 L836.8,734.4 L835.7,735.2 L834.8,736.8 L834.2,740.0 L832.6,739.4 L831.2,739.2 L829.8,739.5 L828.5,739.7 L827.1,739.6 L825.7,739.4 L824.3,739.2 L823.0,738.9 L821.7,738.8 L820.3,738.7 L819.0,738.4 L817.7,738.1 L816.4,737.6 L815.2,737.0 L814.0,736.4 L812.8,735.9 L811.5,735.7 L810.2,735.7 L808.7,735.9 L807.3,736.0 L805.9,735.9 L804.6,735.4 L803.5,734.6 L802.6,733.4 L801.9,732.0 L801.2,730.7 L800.4,729.4 L799.6,728.5 L798.5,727.8 L797.4,727.2 L796.2,726.7 L795.0,726.2 L794.0,725.5 L793.0,724.7 L792.0,723.9 L791.1,723.0 L790.1,722.2 L788.9,721.5 L787.7,720.9 L786.2,720.4 L784.4,720.0 L783.3,719.2 L783.9,717.1 L784.1,715.4 L784.2,713.9 L784.1,712.5 L783.9,711.2 L783.3,710.1 L782.4,709.2 L781.3,708.2 L780.2,707.3 L779.0,706.3 L777.6,705.3 L775.2,704.6 L776.2,702.9 L777.0,701.3 L777.1,699.9 L776.9,698.6 L776.6,697.3 L776.3,696.0 L776.1,694.7 L776.2,693.3 L776.7,692.0 L777.3,690.7 L778.0,689.4 L778.6,688.2 L778.9,686.9 L778.8,685.6 L778.5,684.3 L777.9,682.9 L777.4,681.4 L777.1,679.9 L777.1,678.5 L777.5,677.2 L778.0,675.9 L778.7,674.7 L779.3,673.5 L779.9,672.3 L780.2,671.0 L780.3,669.5 L779.7,667.5 L780.5,666.4 L782.6,666.0 L784.0,665.3 L785.1,664.4 L786.0,663.4 L786.6,662.2 L787.1,660.9 L787.4,659.3 L787.8,657.8 L788.3,656.3 L789.1,655.1 L790.3,654.3 L791.7,653.8 L793.3,653.5 L795.0,653.4 L796.5,653.2 L797.8,652.8 L799.0,652.2 L800.1,651.5 L801.2,650.6 L802.3,649.8 L803.5,649.2 L804.7,648.7 L806.0,648.4 L807.3,648.1 L808.6,647.8 L809.9,647.5 L811.2,647.1 L812.5,646.7 L813.7,646.3 L814.9,645.3 L816.4,646.4 L817.9,647.9 L819.3,648.8 L820.6,649.4 L821.8,649.5 L823.0,649.2 L824.2,648.6 L825.5,647.9 L826.8,647.3 L828.2,646.9 L829.5,647.0 L830.7,647.5 L831.9,648.2 L833.0,649.1 L834.1,649.8 L835.2,650.4 L836.4,650.8 L837.6,651.1 L838.9,651.2 L840.1,651.5 L841.3,651.9 L842.5,652.3 L843.7,652.8 L844.9,653.3 L846.2,653.6 L847.6,653.8 L849.1,653.8 L850.9,653.6 L853.2,652.8 L854.6,653.3 L854.3,655.9 L854.5,657.7 L854.7,659.3 L855.1,660.8 L855.6,662.1 L856.4,663.1 L857.4,663.9 L858.5,664.6 L859.7,665.3 L860.9,666.1 L861.8,667.0 L862.6,668.1 L863.3,669.3 L863.9,670.4 L864.6,671.6 L865.3,672.7 L866.2,673.8 L867.0,674.9 L867.6,676.1 L867.9,677.4 L867.9,678.8 L867.7,680.2 L867.4,681.7 L867.2,683.1 L867.2,684.4 L867.5,685.6 L868.2,686.8 L869.0,688.0 L869.9,689.3 L870.5,690.6Z" fill="#f9b7b8" stroke="#c57478" stroke-width="1.3" stroke-linejoin="round"/><g fill="#eb9fa1"><circle cx="816.8" cy="705.7" r="1.1"/><circle cx="821.0" cy="666.7" r="1.1"/><circle cx="805.7" cy="659.2" r="1.1"/><circle cx="841.2" cy="718.5" r="1.1"/><circle cx="852.5" cy="685.8" r="1.1"/><circle cx="815.7" cy="690.6" r="1.1"/><circle cx="857.1" cy="705.9" r="1.1"/><circle cx="849.8" cy="673.4" r="1.1"/><circle cx="858.3" cy="696.3" r="1.1"/><circle cx="793.3" cy="689.1" r="1.1"/><circle cx="835.3" cy="723.9" r="1.1"/><circle cx="791.8" cy="701.7" r="1.1"/><circle cx="849.7" cy="713.5" r="1.1"/><circle cx="842.2" cy="662.8" r="1.1"/><circle cx="828.8" cy="718.9" r="1.1"/><circle cx="803.2" cy="699.5" r="1.1"/><circle cx="838.4" cy="706.9" r="1.1"/><circle cx="795.6" cy="709.1" r="1.1"/><circle cx="826.6" cy="658.2" r="1.1"/><circle cx="834.4" cy="676.8" r="1.1"/><circle cx="825.9" cy="692.5" r="1.1"/><circle cx="829.9" cy="700.9" r="1.1"/><circle cx="794.3" cy="666.3" r="1.1"/><circle cx="811.2" cy="684.2" r="1.1"/><circle cx="845.2" cy="681.6" r="1.1"/><circle cx="783.7" cy="694.8" r="1.1"/><circle cx="834.4" cy="685.5" r="1.1"/><circle cx="846.0" cy="700.8" r="1.1"/><circle cx="825.4" cy="730.5" r="1.1"/><circle cx="807.6" cy="715.3" r="1.1"/><circle cx="817.7" cy="656.0" r="1.1"/><circle cx="786.7" cy="680.7" r="1.1"/><circle cx="808.6" cy="729.8" r="1.1"/><circle cx="798.7" cy="720.6" r="1.1"/><circle cx="803.5" cy="670.2" r="1.1"/><circle cx="819.5" cy="722.4" r="1.1"/><circle cx="821.4" cy="685.0" r="1.1"/><circle cx="823.6" cy="677.1" r="1.1"/><circle cx="852.8" cy="664.6" r="1.1"/><circle cx="861.1" cy="680.2" r="1.1"/><circle cx="815.7" cy="715.1" r="1.1"/><circle cx="821.7" cy="699.4" r="1.1"/><circle cx="803.2" cy="683.2" r="1.1"/><circle cx="858.0" cy="672.0" r="1.1"/><circle cx="840.5" cy="693.6" r="1.1"/><circle cx="836.2" cy="656.4" r="1.1"/><circle cx="862.9" cy="689.8" r="1.1"/><circle cx="791.4" cy="717.0" r="1.1"/><circle cx="848.4" cy="722.1" r="1.1"/><circle cx="828.0" cy="708.9" r="1.1"/></g><path d="M849.8,691.0 L849.3,692.3 L848.8,693.6 L848.5,694.9 L848.4,696.3 L848.3,697.7 L848.1,699.1 L847.7,700.4 L847.2,701.7 L846.5,703.0 L845.7,704.2 L844.9,705.4 L844.0,706.5 L843.0,707.6 L841.8,708.5 L840.5,709.2 L839.0,709.5 L837.5,709.6 L836.0,709.4 L834.5,709.2 L833.2,709.1 L831.9,709.1 L830.6,709.2 L829.4,709.4 L828.0,709.6 L826.7,709.7 L825.4,709.6 L824.0,709.4 L822.7,709.1 L821.4,708.7 L820.1,708.2 L818.8,707.6 L817.7,706.7 L816.7,705.7 L815.9,704.6 L815.2,703.4 L814.5,702.3 L813.6,701.2 L812.6,700.2 L811.4,699.3 L810.2,698.2 L809.0,697.0 L808.1,695.7 L807.6,694.2 L807.4,692.6 L807.7,691.0 L808.1,689.5 L808.6,688.0 L809.2,686.6 L809.8,685.2 L810.5,683.9 L811.3,682.7 L812.3,681.6 L813.5,680.7 L814.6,679.8 L815.7,679.0 L816.7,678.1 L817.6,677.2 L818.4,676.2 L819.3,675.2 L820.4,674.3 L821.5,673.6 L822.8,673.2 L824.1,672.9 L825.5,672.8 L826.8,672.6 L828.0,672.4 L829.3,672.2 L830.7,672.0 L832.0,671.8 L833.4,671.8 L834.7,672.0 L836.1,672.2 L837.5,672.6 L838.8,672.9 L840.2,673.3 L841.6,673.8 L842.9,674.5 L844.1,675.4 L845.1,676.4 L845.9,677.6 L846.7,678.9 L847.5,680.1 L848.2,681.3 L849.1,682.5 L849.9,683.8 L850.5,685.1 L850.8,686.6 L850.7,688.1 L850.4,689.6Z" fill="#d9898b" stroke="#c8787b" stroke-width="1"/><path d="M898.6,738.0 L898.4,739.0 L898.6,740.0 L898.9,741.1 L899.4,742.2 L900.0,743.3 L900.5,744.5 L900.8,745.7 L901.0,746.8 L900.8,747.9 L900.5,749.0 L899.9,750.0 L899.2,750.9 L898.6,751.8 L897.9,752.8 L897.4,753.7 L897.0,754.7 L896.7,755.8 L896.5,756.9 L896.4,758.1 L896.6,759.6 L896.9,761.2 L895.3,761.5 L894.3,762.1 L893.5,762.9 L892.7,763.7 L892.0,764.6 L891.2,765.4 L890.5,766.3 L889.7,767.1 L888.8,767.8 L887.8,768.3 L886.7,768.8 L885.6,769.0 L884.3,769.2 L883.1,769.3 L881.9,769.4 L880.8,769.6 L879.8,769.9 L878.9,770.4 L878.1,771.0 L877.3,771.8 L876.4,772.5 L875.6,773.2 L874.6,773.8 L873.6,774.2 L872.5,774.3 L871.4,774.3 L870.3,774.2 L869.3,774.1 L868.2,774.4 L867.3,775.2 L866.1,774.0 L865.0,773.6 L864.0,773.5 L863.0,773.5 L862.0,773.6 L861.0,773.5 L860.0,773.4 L859.0,773.3 L858.0,773.1 L857.0,772.9 L855.9,772.9 L854.9,772.9 L853.8,773.0 L852.7,773.2 L851.5,773.3 L850.4,773.3 L849.3,773.1 L848.3,772.7 L847.4,772.1 L846.6,771.3 L845.9,770.4 L845.2,769.5 L844.5,768.6 L843.9,767.8 L843.1,767.1 L842.3,766.5 L841.4,766.0 L840.4,765.6 L839.5,765.2 L838.4,764.8 L837.1,764.6 L835.1,765.1 L835.4,763.3 L835.3,762.0 L834.8,761.1 L834.1,760.3 L833.3,759.6 L832.5,758.9 L831.6,758.2 L830.8,757.4 L830.1,756.6 L829.6,755.6 L829.2,754.6 L829.1,753.5 L829.0,752.4 L829.0,751.2 L829.0,750.1 L828.8,749.1 L828.5,748.1 L827.9,747.2 L827.2,746.3 L826.2,745.5 L824.8,744.6 L823.2,743.7 L824.0,742.5 L824.1,741.3 L824.2,740.2 L824.3,739.1 L824.5,738.0 L824.7,736.9 L825.0,735.8 L825.2,734.8 L825.4,733.7 L825.7,732.6 L825.9,731.6 L826.3,730.6 L826.7,729.6 L827.2,728.6 L827.8,727.7 L828.3,726.7 L828.7,725.8 L829.1,724.8 L829.3,723.8 L829.4,722.7 L829.6,721.6 L829.7,720.4 L830.0,719.4 L830.4,718.4 L831.1,717.5 L831.9,716.8 L832.9,716.2 L834.0,715.7 L835.1,715.2 L836.1,714.7 L836.9,714.1 L837.6,713.3 L838.1,712.4 L838.6,711.4 L839.0,710.3 L839.4,709.1 L839.8,707.9 L840.2,706.6 L840.1,704.6 L841.2,704.1 L842.9,704.6 L844.1,704.5 L845.2,704.2 L846.2,703.9 L847.2,703.4 L848.2,703.0 L849.2,702.5 L850.2,702.2 L851.3,701.9 L852.3,701.7 L853.4,701.6 L854.5,701.5 L855.6,701.4 L856.6,700.9 L857.5,699.7 L858.5,698.9 L859.7,699.8 L860.8,699.8 L861.9,699.5 L863.0,699.3 L864.1,699.2 L865.2,699.3 L866.3,699.6 L867.3,700.2 L868.3,700.9 L869.3,701.7 L870.2,702.4 L871.1,703.0 L872.1,703.5 L873.0,703.9 L874.0,704.1 L875.0,704.4 L876.0,704.7 L876.9,705.0 L877.9,705.5 L878.7,706.0 L879.6,706.5 L880.5,707.0 L881.4,707.5 L882.4,707.9 L883.4,708.2 L884.4,708.5 L885.5,708.8 L886.5,709.2 L887.5,709.8 L888.4,710.4 L889.3,711.0 L890.5,711.3 L891.2,712.1 L890.6,714.1 L890.6,715.5 L890.8,716.6 L891.3,717.5 L891.9,718.3 L892.6,719.0 L893.4,719.7 L894.2,720.4 L894.9,721.2 L895.6,722.0 L896.1,722.9 L896.6,723.8 L897.0,724.8 L897.3,725.8 L897.7,726.7 L898.0,727.7 L898.4,728.7 L898.8,729.7 L899.2,730.7 L899.4,731.7 L899.6,732.7 L899.9,733.8 L900.7,734.8 L901.1,735.8 L899.4,737.0Z" fill="#f5a6a8" stroke="#bb6a70" stroke-width="1.3" stroke-linejoin="round"/><g fill="#e28a8d"><circle cx="865.4" cy="725.4" r="1.1"/><circle cx="860.0" cy="763.4" r="1.1"/><circle cx="882.4" cy="716.6" r="1.1"/><circle cx="866.3" cy="745.3" r="1.1"/><circle cx="859.6" cy="707.7" r="1.1"/><circle cx="877.1" cy="748.6" r="1.1"/><circle cx="842.1" cy="747.5" r="1.1"/><circle cx="835.6" cy="723.2" r="1.1"/><circle cx="834.6" cy="734.5" r="1.1"/><circle cx="851.0" cy="764.7" r="1.1"/><circle cx="874.7" cy="724.5" r="1.1"/><circle cx="853.3" cy="737.6" r="1.1"/><circle cx="887.7" cy="741.0" r="1.1"/><circle cx="880.4" cy="756.8" r="1.1"/><circle cx="844.8" cy="734.9" r="1.1"/><circle cx="850.0" cy="745.3" r="1.1"/><circle cx="850.6" cy="720.7" r="1.1"/><circle cx="858.4" cy="747.3" r="1.1"/><circle cx="853.8" cy="753.7" r="1.1"/><circle cx="890.5" cy="729.8" r="1.1"/><circle cx="867.6" cy="711.5" r="1.1"/><circle cx="869.7" cy="769.4" r="1.1"/><circle cx="858.5" cy="719.2" r="1.1"/><circle cx="833.6" cy="746.4" r="1.1"/><circle cx="867.7" cy="734.5" r="1.1"/><circle cx="878.3" cy="765.0" r="1.1"/><circle cx="865.4" cy="753.1" r="1.1"/><circle cx="855.1" cy="728.4" r="1.1"/><circle cx="845.2" cy="759.1" r="1.1"/><circle cx="843.1" cy="717.7" r="1.1"/><circle cx="850.0" cy="711.3" r="1.1"/><circle cx="837.5" cy="754.1" r="1.1"/></g><path d="M869.5,739.0 L869.2,740.1 L868.7,741.2 L868.2,742.2 L867.8,743.3 L867.6,744.3 L867.5,745.5 L867.6,746.7 L867.6,748.1 L867.4,749.5 L867.0,750.7 L866.4,751.9 L865.5,752.9 L864.5,753.7 L863.4,754.5 L862.3,755.2 L861.2,755.8 L860.0,756.3 L858.7,756.6 L857.4,756.7 L856.1,756.7 L854.8,756.6 L853.6,756.4 L852.4,756.2 L851.2,756.0 L850.1,755.7 L848.9,755.3 L847.9,754.7 L846.9,754.1 L846.0,753.3 L845.2,752.5 L844.4,751.8 L843.5,751.2 L842.5,750.6 L841.5,750.1 L840.5,749.5 L839.6,748.7 L838.9,747.8 L838.4,746.8 L838.0,745.7 L837.6,744.6 L837.2,743.5 L836.8,742.4 L836.4,741.3 L836.0,740.2 L835.8,739.0 L835.8,737.8 L836.0,736.6 L836.3,735.4 L836.6,734.3 L836.8,733.1 L837.1,731.9 L837.3,730.7 L837.7,729.4 L838.3,728.3 L839.1,727.3 L840.2,726.6 L841.3,726.0 L842.5,725.6 L843.7,725.2 L844.8,724.8 L845.8,724.3 L846.8,723.7 L847.9,723.2 L848.9,722.6 L850.0,722.1 L851.2,721.7 L852.4,721.4 L853.6,721.1 L854.9,720.9 L856.2,720.9 L857.4,721.2 L858.6,721.7 L859.7,722.5 L860.5,723.5 L861.3,724.6 L862.1,725.6 L862.8,726.4 L863.7,727.2 L864.6,727.8 L865.5,728.5 L866.3,729.3 L867.1,730.2 L867.6,731.2 L868.1,732.3 L868.5,733.4 L868.9,734.5 L869.2,735.6 L869.5,736.7 L869.6,737.8Z" fill="#d9777b" stroke="#c4656a" stroke-width="1"/><path d="M908.7,791.0 L908.6,792.0 L908.3,793.0 L907.9,793.9 L907.4,794.8 L906.8,795.7 L906.1,796.6 L905.5,797.4 L904.9,798.2 L904.3,799.0 L903.9,799.8 L903.6,800.6 L903.4,801.5 L903.3,802.4 L903.2,803.4 L903.1,804.3 L903.0,805.3 L902.8,806.2 L902.4,807.1 L902.0,807.9 L901.4,808.6 L900.8,809.3 L900.1,809.9 L899.3,810.5 L898.6,811.1 L897.9,811.7 L897.2,812.3 L896.6,812.9 L896.0,813.6 L895.4,814.3 L894.7,814.9 L894.1,815.6 L893.4,816.2 L892.7,816.7 L891.9,817.2 L891.1,817.6 L890.3,818.1 L889.6,818.7 L889.0,819.5 L888.8,821.1 L887.9,821.4 L886.7,821.1 L885.8,821.4 L885.1,822.0 L884.3,822.6 L883.5,823.2 L882.6,823.7 L881.7,824.0 L880.7,824.3 L879.8,824.4 L878.8,824.4 L877.8,824.5 L876.9,824.8 L876.0,825.6 L874.9,824.2 L874.0,823.7 L873.1,823.4 L872.2,823.3 L871.2,823.3 L870.3,823.3 L869.4,823.3 L868.4,823.3 L867.5,823.1 L866.6,823.0 L865.7,822.8 L864.7,822.5 L863.8,822.3 L862.9,822.0 L862.0,821.8 L861.0,821.7 L860.0,821.6 L859.0,821.5 L858.0,821.4 L856.9,821.2 L855.9,821.0 L855.0,820.6 L854.1,820.1 L853.4,819.4 L852.7,818.6 L852.1,817.7 L851.7,816.8 L851.2,815.8 L850.8,814.9 L850.4,814.0 L849.9,813.1 L849.3,812.4 L848.7,811.7 L848.0,811.1 L847.2,810.5 L846.5,809.8 L845.7,809.2 L844.9,808.6 L843.9,808.0 L842.4,807.7 L842.0,806.7 L842.8,805.3 L843.0,804.1 L842.9,803.1 L842.8,802.1 L842.7,801.2 L842.6,800.2 L842.4,799.3 L842.3,798.4 L842.1,797.5 L842.0,796.5 L841.9,795.6 L841.9,794.7 L841.9,793.8 L841.9,792.8 L842.0,791.9 L842.0,791.0 L841.9,790.1 L841.8,789.2 L841.6,788.2 L841.4,787.3 L841.1,786.3 L840.8,785.3 L840.6,784.2 L840.3,783.2 L840.0,782.1 L839.2,780.8 L840.0,779.9 L841.2,779.3 L842.0,778.6 L842.8,777.8 L843.6,777.1 L844.3,776.4 L845.0,775.7 L845.7,775.0 L846.2,774.2 L846.7,773.5 L847.1,772.6 L847.5,771.8 L848.0,770.9 L848.4,770.1 L849.0,769.3 L849.6,768.6 L850.2,767.9 L850.9,767.3 L851.7,766.7 L852.5,766.2 L853.3,765.6 L854.0,765.1 L854.7,764.4 L855.2,763.5 L855.4,762.1 L856.2,761.5 L857.5,761.8 L858.6,761.7 L859.5,761.5 L860.4,761.3 L861.4,761.2 L862.4,761.1 L863.3,761.1 L864.3,761.2 L865.2,761.2 L866.2,761.1 L867.0,761.0 L867.9,760.8 L868.7,760.5 L869.6,760.1 L870.4,759.6 L871.3,759.0 L872.1,758.4 L873.0,757.4 L874.0,755.3 L875.0,756.4 L875.9,757.4 L876.8,757.9 L877.8,758.1 L878.7,758.3 L879.6,758.5 L880.6,758.6 L881.5,758.8 L882.4,758.9 L883.4,759.1 L884.3,759.3 L885.2,759.6 L886.1,760.0 L886.9,760.5 L887.7,761.1 L888.4,761.7 L889.1,762.4 L889.8,763.1 L890.5,763.7 L891.2,764.3 L892.0,764.7 L892.8,765.1 L893.7,765.4 L894.7,765.7 L895.7,765.9 L896.8,766.2 L897.8,766.5 L898.7,767.0 L899.6,767.5 L900.3,768.2 L900.9,769.0 L901.5,769.8 L901.9,770.7 L902.3,771.6 L902.8,772.5 L903.5,773.2 L905.0,773.5 L904.5,774.9 L904.6,776.0 L904.9,776.9 L905.4,777.7 L905.9,778.6 L906.4,779.4 L906.9,780.3 L907.3,781.2 L907.6,782.2 L907.9,783.1 L908.2,784.1 L908.7,785.0 L909.8,785.8 L909.5,786.9 L909.0,788.0 L908.9,789.0 L908.8,790.0Z" fill="#dd8b8e" stroke="#a5555b" stroke-width="1.3" stroke-linejoin="round"/><g fill="#c7727a"><circle cx="861.4" cy="797.7" r="1.1"/><circle cx="876.3" cy="817.2" r="1.1"/><circle cx="879.1" cy="807.0" r="1.1"/><circle cx="873.3" cy="795.2" r="1.1"/><circle cx="888.8" cy="796.9" r="1.1"/><circle cx="865.0" cy="814.6" r="1.1"/><circle cx="896.6" cy="774.0" r="1.1"/><circle cx="856.2" cy="809.1" r="1.1"/><circle cx="860.5" cy="771.9" r="1.1"/><circle cx="866.4" cy="763.3" r="1.1"/><circle cx="852.9" cy="776.2" r="1.1"/><circle cx="885.3" cy="773.0" r="1.1"/><circle cx="877.6" cy="766.7" r="1.1"/><circle cx="874.2" cy="782.4" r="1.1"/><circle cx="879.9" cy="789.6" r="1.1"/><circle cx="851.6" cy="790.5" r="1.1"/><circle cx="848.7" cy="802.3" r="1.1"/><circle cx="893.1" cy="786.0" r="1.1"/><circle cx="901.3" cy="799.9" r="1.1"/><circle cx="888.3" cy="814.9" r="1.1"/><circle cx="863.1" cy="785.9" r="1.1"/><circle cx="868.3" cy="804.4" r="1.1"/><circle cx="893.3" cy="807.7" r="1.1"/><circle cx="901.7" cy="783.4" r="1.1"/><circle cx="873.7" cy="774.5" r="1.1"/></g><path d="M889.7,797.0 L889.6,798.0 L889.6,798.9 L889.7,799.9 L889.8,801.0 L889.9,802.1 L889.8,803.1 L889.5,804.2 L889.1,805.2 L888.5,806.1 L887.8,806.9 L887.1,807.8 L886.4,808.6 L885.6,809.3 L884.8,810.0 L883.9,810.6 L882.9,811.1 L881.8,811.4 L880.8,811.6 L879.7,811.9 L878.7,812.1 L877.6,812.2 L876.5,812.2 L875.5,812.1 L874.4,811.9 L873.4,811.5 L872.5,811.1 L871.5,810.7 L870.6,810.4 L869.5,810.2 L868.4,810.1 L867.3,809.9 L866.2,809.6 L865.2,809.0 L864.4,808.2 L863.8,807.3 L863.3,806.2 L862.9,805.2 L862.5,804.2 L862.2,803.1 L862.0,802.1 L861.8,801.1 L861.8,800.0 L862.0,799.0 L862.2,798.0 L862.3,797.0 L862.4,796.1 L862.4,795.1 L862.3,794.1 L862.2,793.0 L862.2,792.0 L862.4,790.9 L862.8,790.0 L863.5,789.2 L864.2,788.4 L865.0,787.8 L865.8,787.1 L866.5,786.5 L867.2,785.8 L867.9,785.0 L868.7,784.3 L869.5,783.6 L870.3,782.9 L871.2,782.2 L872.1,781.5 L873.1,780.8 L874.2,780.3 L875.4,779.9 L876.6,779.8 L877.8,780.1 L878.9,780.6 L879.9,781.3 L880.8,782.1 L881.7,782.9 L882.6,783.5 L883.4,784.1 L884.3,784.7 L885.2,785.3 L885.9,786.0 L886.6,786.8 L887.1,787.7 L887.6,788.6 L888.1,789.4 L888.6,790.3 L889.1,791.1 L889.6,792.0 L890.0,793.0 L890.1,794.0 L890.1,795.0 L889.9,796.0Z" fill="#b65a60" stroke="#9c474d" stroke-width="1"/><path d="M746.2,821.0 L746.2,821.9 L746.2,822.9 L746.4,823.9 L746.6,824.9 L746.9,825.9 L747.0,826.9 L747.1,827.9 L747.0,828.9 L746.9,829.9 L746.6,830.9 L746.4,831.9 L746.2,832.8 L746.0,833.8 L745.8,834.8 L745.6,835.9 L745.4,836.9 L745.1,837.9 L744.7,838.9 L744.1,839.8 L743.4,840.5 L742.5,841.2 L741.6,841.8 L740.6,842.3 L739.6,842.7 L738.7,843.2 L737.8,843.8 L737.1,844.4 L736.5,845.1 L735.9,845.9 L735.3,846.7 L734.8,847.6 L734.2,848.5 L733.7,849.5 L733.6,851.2 L733.1,852.3 L731.3,851.4 L730.1,851.3 L729.1,851.5 L728.2,851.9 L727.3,852.4 L726.5,852.9 L725.6,853.4 L724.7,853.8 L723.8,854.2 L722.8,854.4 L721.8,854.4 L720.8,854.4 L719.8,854.3 L718.8,854.2 L717.8,854.2 L716.8,854.3 L715.9,854.6 L714.9,855.0 L714.0,855.6 L713.0,856.2 L712.0,856.8 L710.9,857.3 L709.9,857.6 L708.8,857.8 L707.7,857.7 L706.7,857.5 L705.7,857.1 L704.7,856.8 L703.6,856.8 L702.2,857.9 L701.6,856.2 L700.8,855.1 L700.0,854.5 L699.0,854.0 L698.1,853.7 L697.1,853.3 L696.2,852.8 L695.3,852.3 L694.5,851.8 L693.6,851.2 L692.7,850.6 L691.8,850.1 L690.9,849.6 L689.9,849.2 L688.8,848.9 L687.3,849.0 L686.4,848.4 L686.3,846.9 L686.0,845.8 L685.6,844.7 L685.4,843.6 L685.1,842.5 L684.9,841.4 L684.7,840.4 L684.3,839.4 L683.9,838.6 L683.3,837.8 L682.5,837.1 L681.7,836.4 L680.9,835.6 L680.2,834.9 L679.5,834.0 L679.0,833.1 L678.7,832.2 L678.4,831.2 L678.1,830.2 L677.5,829.2 L675.9,828.5 L677.5,827.1 L678.1,826.0 L678.3,825.0 L678.4,824.0 L678.4,823.0 L678.5,822.0 L678.8,821.0 L679.1,820.0 L679.5,819.1 L679.9,818.2 L680.3,817.3 L680.7,816.4 L680.9,815.5 L681.0,814.5 L681.0,813.6 L681.0,812.6 L680.9,811.6 L680.8,810.5 L680.8,809.5 L681.0,808.5 L681.4,807.6 L681.8,806.8 L682.4,806.0 L683.1,805.2 L683.6,804.4 L683.9,803.5 L683.5,802.1 L684.5,801.5 L685.7,801.1 L686.4,800.5 L686.9,799.7 L687.5,798.9 L688.1,798.2 L688.8,797.4 L689.5,796.8 L690.2,796.1 L690.9,795.5 L691.5,794.8 L692.2,794.0 L692.7,793.1 L693.2,792.1 L693.7,791.0 L694.3,790.0 L694.9,789.0 L695.7,788.1 L696.5,787.4 L697.5,787.0 L698.5,786.6 L699.6,786.5 L700.7,786.5 L701.8,786.5 L702.9,786.5 L703.9,786.4 L704.9,786.3 L705.9,786.0 L706.9,785.8 L707.9,785.5 L708.9,785.3 L709.9,785.2 L710.9,785.1 L712.0,785.1 L713.0,785.1 L714.0,785.1 L715.0,785.2 L716.1,785.1 L717.1,784.9 L718.3,784.3 L719.6,782.8 L720.5,783.9 L721.4,785.0 L722.3,785.7 L723.2,786.3 L724.0,787.1 L724.8,787.8 L725.6,788.6 L726.4,789.4 L727.1,790.0 L728.0,790.5 L728.9,790.9 L729.9,791.1 L731.0,791.2 L732.1,791.3 L733.2,791.5 L734.3,791.7 L735.2,792.2 L736.1,792.8 L736.8,793.5 L737.4,794.4 L737.9,795.4 L738.4,796.3 L738.8,797.3 L739.3,798.2 L739.9,799.0 L740.5,799.8 L741.2,800.5 L742.1,801.1 L743.7,801.3 L744.1,802.2 L743.5,803.8 L743.5,804.9 L743.7,805.9 L744.0,806.8 L744.5,807.7 L745.1,808.5 L746.0,809.2 L747.7,809.7 L748.2,810.7 L747.7,811.9 L747.7,812.9 L747.8,814.0 L747.8,815.0 L747.7,816.0 L747.4,817.1 L747.1,818.1 L746.7,819.1 L746.4,820.0Z" fill="#f5a6a8" stroke="#bb6a70" stroke-width="1.3" stroke-linejoin="round"/><g fill="#e28a8d"><circle cx="733.4" cy="811.6" r="1.1"/><circle cx="692.0" cy="824.2" r="1.1"/><circle cx="700.9" cy="848.6" r="1.1"/><circle cx="740.8" cy="831.1" r="1.1"/><circle cx="699.7" cy="799.9" r="1.1"/><circle cx="730.4" cy="833.2" r="1.1"/><circle cx="730.8" cy="822.5" r="1.1"/><circle cx="687.8" cy="834.9" r="1.1"/><circle cx="699.7" cy="810.8" r="1.1"/><circle cx="731.9" cy="843.3" r="1.1"/><circle cx="709.2" cy="838.0" r="1.1"/><circle cx="735.4" cy="800.3" r="1.1"/><circle cx="726.1" cy="816.0" r="1.1"/><circle cx="708.3" cy="817.8" r="1.1"/><circle cx="718.0" cy="842.2" r="1.1"/><circle cx="709.8" cy="830.0" r="1.1"/><circle cx="689.8" cy="807.4" r="1.1"/><circle cx="704.6" cy="793.3" r="1.1"/><circle cx="700.1" cy="819.8" r="1.1"/><circle cx="721.2" cy="796.0" r="1.1"/><circle cx="718.5" cy="809.9" r="1.1"/><circle cx="717.8" cy="850.5" r="1.1"/><circle cx="709.1" cy="846.6" r="1.1"/><circle cx="701.1" cy="828.5" r="1.1"/><circle cx="718.8" cy="831.2" r="1.1"/><circle cx="706.9" cy="803.0" r="1.1"/><circle cx="697.8" cy="839.5" r="1.1"/><circle cx="742.3" cy="817.1" r="1.1"/><circle cx="725.4" cy="805.7" r="1.1"/></g><path d="M726.1,817.0 L726.1,818.1 L726.0,819.1 L725.9,820.2 L725.7,821.2 L725.4,822.2 L725.1,823.3 L724.7,824.3 L724.4,825.4 L724.1,826.5 L723.8,827.8 L723.4,829.0 L722.7,830.0 L721.8,830.9 L720.7,831.4 L719.4,831.6 L718.2,831.7 L716.9,831.6 L715.8,831.7 L714.7,831.9 L713.7,832.2 L712.6,832.6 L711.6,832.9 L710.4,833.1 L709.3,833.2 L708.2,833.1 L707.0,832.9 L705.9,832.7 L704.8,832.4 L703.6,832.1 L702.6,831.6 L701.6,830.9 L700.8,830.1 L700.1,829.1 L699.5,828.1 L698.9,827.2 L698.3,826.2 L697.7,825.3 L697.0,824.4 L696.4,823.5 L695.9,822.5 L695.6,821.4 L695.5,820.3 L695.5,819.2 L695.5,818.1 L695.6,817.0 L695.6,815.9 L695.7,814.9 L695.9,813.8 L696.3,812.8 L696.9,811.9 L697.5,811.0 L698.1,810.1 L698.7,809.3 L699.1,808.3 L699.5,807.3 L699.9,806.2 L700.4,805.2 L701.0,804.3 L701.9,803.5 L702.9,802.9 L703.9,802.4 L704.9,801.9 L705.9,801.3 L706.9,800.6 L708.0,799.9 L709.1,799.3 L710.4,798.9 L711.6,798.8 L712.9,799.0 L714.1,799.5 L715.2,800.1 L716.2,800.9 L717.2,801.6 L718.2,802.3 L719.0,803.1 L719.8,804.0 L720.4,804.9 L721.0,805.8 L721.6,806.7 L722.2,807.6 L722.9,808.3 L723.7,809.0 L724.6,809.8 L725.3,810.6 L725.9,811.6 L726.2,812.6 L726.3,813.7 L726.3,814.8 L726.2,815.9Z" fill="#d9777b" stroke="#c4656a" stroke-width="1"/><path d="M750.4,760.0 L750.1,761.3 L749.7,762.6 L749.4,763.8 L749.3,765.1 L749.7,766.4 L751.0,768.0 L750.5,769.2 L748.8,770.2 L747.8,771.2 L746.9,772.3 L746.2,773.4 L745.6,774.5 L745.4,775.7 L745.3,777.0 L745.4,778.5 L745.5,779.9 L745.5,781.4 L745.1,782.7 L744.4,783.8 L743.4,784.7 L742.1,785.4 L740.8,786.0 L739.6,786.7 L738.5,787.4 L737.7,788.3 L737.0,789.4 L736.5,790.6 L736.1,792.0 L736.2,794.0 L736.0,795.7 L733.7,795.1 L732.3,795.4 L731.3,796.2 L730.4,797.2 L729.6,798.3 L728.7,799.3 L727.7,800.2 L726.5,800.8 L725.2,801.0 L723.8,801.1 L722.4,801.1 L721.0,801.2 L719.8,801.5 L718.7,802.3 L717.7,803.4 L716.7,804.6 L715.7,805.9 L714.5,806.9 L713.2,807.5 L711.9,807.8 L710.5,807.8 L709.1,807.5 L707.7,807.3 L706.3,807.1 L705.0,807.0 L703.7,807.0 L702.3,807.0 L701.0,807.0 L699.6,806.9 L698.2,807.1 L696.7,808.1 L695.4,807.2 L694.3,806.0 L693.0,805.7 L691.6,805.6 L690.2,805.5 L688.9,805.2 L687.7,804.6 L686.6,803.5 L685.7,802.2 L685.0,800.7 L684.3,799.3 L683.5,798.1 L682.6,797.2 L681.5,796.6 L680.3,796.2 L679.0,795.8 L677.8,795.3 L676.7,794.6 L675.8,793.7 L674.9,792.8 L674.1,791.8 L673.3,790.8 L672.4,790.0 L671.3,789.2 L669.8,788.8 L667.5,788.9 L667.2,787.5 L668.2,785.1 L668.6,783.4 L668.6,781.9 L668.5,780.6 L668.0,779.5 L667.3,778.5 L666.2,777.7 L665.1,776.9 L663.9,776.0 L663.0,775.0 L662.3,773.9 L661.9,772.6 L661.8,771.4 L661.8,770.1 L661.7,768.8 L661.6,767.5 L661.4,766.3 L661.2,765.0 L661.1,763.8 L661.2,762.5 L661.5,761.2 L661.9,760.0 L662.4,758.8 L662.7,757.6 L662.7,756.4 L662.5,755.1 L662.0,753.8 L661.3,752.4 L660.8,751.0 L660.4,749.6 L660.1,748.2 L659.2,746.6 L661.0,745.7 L662.5,744.8 L663.5,743.9 L664.2,742.8 L664.8,741.6 L665.1,740.4 L665.5,739.1 L665.7,737.8 L665.5,736.2 L665.9,734.9 L667.6,734.4 L668.6,733.5 L669.1,732.4 L669.5,731.0 L669.8,729.5 L670.1,728.0 L670.6,726.6 L671.5,725.5 L672.6,724.7 L674.0,724.2 L675.5,723.9 L677.0,723.6 L678.3,723.3 L679.5,722.6 L680.4,721.8 L681.3,720.7 L682.2,719.6 L683.1,718.6 L684.2,717.7 L685.4,717.0 L686.6,716.5 L687.9,716.0 L689.0,715.1 L689.7,712.9 L691.6,714.5 L693.1,714.9 L694.6,715.1 L695.9,715.3 L697.3,715.7 L698.7,716.1 L700.0,716.5 L701.3,716.7 L702.5,716.6 L703.7,716.1 L705.0,715.5 L706.3,714.7 L707.6,714.2 L708.9,714.0 L710.2,714.3 L711.5,714.9 L712.7,715.8 L713.8,716.7 L714.9,717.5 L716.0,718.1 L717.2,718.3 L718.5,718.4 L719.8,718.4 L721.2,718.5 L722.5,718.7 L723.7,719.1 L724.9,719.5 L726.1,720.0 L727.4,720.4 L728.7,720.7 L730.0,721.1 L731.3,721.5 L732.5,722.2 L733.5,723.1 L734.2,724.2 L734.8,725.6 L735.3,727.0 L735.9,728.2 L736.8,729.1 L738.4,729.4 L740.6,729.2 L740.5,730.9 L741.3,732.0 L742.3,732.9 L743.1,733.9 L743.8,735.1 L744.3,736.3 L744.6,737.6 L745.0,738.9 L745.5,740.1 L746.0,741.3 L746.5,742.5 L746.9,743.7 L747.0,745.0 L747.0,746.4 L746.8,747.7 L746.5,749.1 L746.4,750.4 L746.6,751.6 L747.1,752.7 L747.8,753.8 L748.7,755.0 L749.6,756.2 L750.2,757.4 L750.4,758.7Z" fill="#f9b7b8" stroke="#c57478" stroke-width="1.3" stroke-linejoin="round"/><g fill="#eb9fa1"><circle cx="727.9" cy="774.4" r="1.1"/><circle cx="718.0" cy="733.1" r="1.1"/><circle cx="683.4" cy="779.4" r="1.1"/><circle cx="709.5" cy="774.6" r="1.1"/><circle cx="699.1" cy="739.2" r="1.1"/><circle cx="694.7" cy="732.0" r="1.1"/><circle cx="712.1" cy="791.5" r="1.1"/><circle cx="732.4" cy="740.5" r="1.1"/><circle cx="699.5" cy="777.8" r="1.1"/><circle cx="698.7" cy="767.2" r="1.1"/><circle cx="681.2" cy="730.8" r="1.1"/><circle cx="727.6" cy="764.2" r="1.1"/><circle cx="674.3" cy="737.5" r="1.1"/><circle cx="722.3" cy="749.6" r="1.1"/><circle cx="701.3" cy="799.4" r="1.1"/><circle cx="675.4" cy="769.0" r="1.1"/><circle cx="689.5" cy="742.3" r="1.1"/><circle cx="740.0" cy="754.4" r="1.1"/><circle cx="722.0" cy="781.8" r="1.1"/><circle cx="714.8" cy="741.7" r="1.1"/><circle cx="689.0" cy="758.2" r="1.1"/><circle cx="701.8" cy="759.0" r="1.1"/><circle cx="710.2" cy="764.6" r="1.1"/><circle cx="722.8" cy="757.9" r="1.1"/><circle cx="670.6" cy="775.6" r="1.1"/><circle cx="688.5" cy="773.5" r="1.1"/><circle cx="687.7" cy="788.8" r="1.1"/><circle cx="722.8" cy="739.4" r="1.1"/><circle cx="702.8" cy="726.4" r="1.1"/><circle cx="731.9" cy="784.7" r="1.1"/><circle cx="667.0" cy="759.0" r="1.1"/><circle cx="681.6" cy="745.3" r="1.1"/><circle cx="699.3" cy="749.2" r="1.1"/><circle cx="678.4" cy="786.8" r="1.1"/><circle cx="742.5" cy="771.2" r="1.1"/><circle cx="707.7" cy="746.0" r="1.1"/><circle cx="675.5" cy="761.0" r="1.1"/><circle cx="697.8" cy="788.7" r="1.1"/><circle cx="721.7" cy="793.4" r="1.1"/><circle cx="717.6" cy="771.2" r="1.1"/><circle cx="679.5" cy="753.7" r="1.1"/><circle cx="669.6" cy="749.4" r="1.1"/><circle cx="727.5" cy="728.0" r="1.1"/><circle cx="731.1" cy="755.9" r="1.1"/><circle cx="713.5" cy="722.4" r="1.1"/><circle cx="682.7" cy="765.3" r="1.1"/><circle cx="738.5" cy="780.4" r="1.1"/><circle cx="706.4" cy="733.9" r="1.1"/></g><path d="M731.1,767.0 L731.4,768.4 L731.6,769.9 L731.7,771.4 L731.6,772.9 L731.2,774.3 L730.4,775.6 L729.4,776.8 L728.2,777.8 L727.0,778.6 L725.9,779.5 L724.9,780.4 L724.0,781.4 L723.1,782.5 L722.2,783.6 L721.2,784.6 L720.0,785.5 L718.8,786.4 L717.5,787.1 L716.2,787.7 L714.7,788.2 L713.2,788.4 L711.7,788.3 L710.3,788.0 L708.9,787.3 L707.6,786.4 L706.4,785.5 L705.3,784.6 L704.1,784.0 L703.0,783.5 L701.7,783.1 L700.5,782.6 L699.3,782.0 L698.3,781.1 L697.4,780.1 L696.7,779.0 L696.0,777.9 L695.3,776.8 L694.5,775.8 L693.6,774.7 L692.8,773.6 L692.1,772.4 L691.6,771.1 L691.3,769.8 L691.2,768.4 L691.0,767.0 L690.8,765.6 L690.5,764.1 L690.3,762.6 L690.2,761.0 L690.3,759.5 L690.7,758.0 L691.5,756.6 L692.4,755.4 L693.5,754.3 L694.6,753.2 L695.7,752.2 L696.8,751.3 L698.0,750.4 L699.3,749.6 L700.7,749.1 L702.1,748.7 L703.5,748.6 L705.0,748.5 L706.4,748.4 L707.7,748.3 L709.0,748.3 L710.3,748.3 L711.6,748.5 L712.9,748.8 L714.2,749.1 L715.4,749.4 L716.7,749.6 L718.0,749.6 L719.5,749.6 L721.0,749.7 L722.5,750.0 L723.8,750.6 L724.9,751.5 L725.8,752.7 L726.4,754.1 L726.9,755.4 L727.4,756.7 L728.0,758.0 L728.6,759.1 L729.3,760.3 L729.9,761.6 L730.4,762.9 L730.7,764.2 L730.9,765.6Z" fill="#d9898b" stroke="#c8787b" stroke-width="1"/><path d="M815.9,855.0 L815.8,856.0 L815.7,857.0 L815.7,858.0 L815.7,859.0 L815.9,860.0 L816.0,861.1 L816.2,862.1 L816.3,863.2 L816.3,864.3 L816.1,865.3 L815.7,866.3 L815.1,867.2 L814.4,868.0 L813.6,868.8 L812.7,869.5 L811.9,870.2 L811.2,870.9 L810.6,871.7 L810.1,872.5 L809.7,873.5 L809.5,874.5 L809.3,875.5 L809.2,876.7 L809.5,878.3 L809.0,879.2 L807.7,879.5 L806.8,880.1 L806.1,880.8 L805.4,881.6 L804.7,882.4 L804.1,883.2 L803.4,884.0 L802.7,884.8 L801.9,885.6 L801.1,886.3 L800.2,886.8 L799.2,887.2 L798.2,887.6 L797.2,887.9 L796.1,888.1 L795.2,888.5 L794.2,889.0 L793.3,889.6 L792.5,890.5 L791.8,891.8 L791.2,893.9 L790.1,894.3 L788.9,893.9 L787.7,894.0 L786.6,894.1 L785.5,894.0 L784.3,893.8 L783.2,893.4 L782.1,892.9 L781.0,892.4 L779.9,892.0 L778.9,891.6 L777.9,891.4 L776.8,891.2 L775.8,891.1 L774.8,891.0 L773.7,890.8 L772.7,890.5 L771.7,890.2 L770.8,889.8 L769.8,889.4 L768.9,888.9 L767.9,888.5 L767.0,888.2 L766.0,887.9 L765.0,887.6 L763.9,887.4 L762.8,887.3 L761.2,887.8 L759.9,887.9 L760.1,885.5 L759.9,884.0 L759.5,882.9 L759.1,881.8 L758.6,880.8 L758.1,879.9 L757.5,879.2 L756.8,878.5 L756.0,878.0 L755.1,877.4 L754.2,876.9 L753.3,876.4 L752.4,875.7 L751.7,875.0 L751.1,874.2 L750.5,873.4 L750.1,872.5 L749.6,871.5 L749.2,870.6 L748.8,869.7 L748.3,868.8 L747.8,867.9 L747.3,867.0 L746.9,866.1 L746.7,865.1 L746.5,864.1 L746.6,863.0 L746.7,861.9 L746.9,860.9 L747.2,859.9 L747.3,858.9 L747.3,857.9 L746.8,857.0 L745.4,856.0 L745.8,855.0 L746.1,854.0 L745.9,853.0 L745.6,852.0 L745.4,850.9 L745.3,849.9 L745.3,848.8 L745.4,847.8 L745.7,846.8 L745.9,845.8 L746.2,844.8 L746.5,843.8 L746.7,842.8 L746.9,841.7 L747.2,840.7 L747.5,839.7 L748.0,838.8 L748.5,837.9 L749.1,837.0 L749.8,836.2 L750.6,835.4 L751.3,834.7 L751.9,833.8 L752.4,833.0 L752.9,832.0 L753.2,830.9 L753.5,829.8 L753.8,828.5 L753.9,827.1 L753.6,825.2 L754.6,824.5 L756.3,824.8 L757.6,824.7 L758.8,824.5 L760.1,824.4 L761.3,824.3 L762.4,824.2 L763.5,824.0 L764.5,823.7 L765.4,823.3 L766.3,822.8 L767.2,822.2 L768.0,821.7 L769.0,821.2 L769.9,820.8 L770.9,820.5 L771.9,820.2 L772.8,820.0 L773.8,819.7 L774.8,819.2 L775.7,818.4 L776.6,816.6 L777.7,817.0 L778.9,818.0 L780.0,818.4 L781.0,818.6 L782.0,818.8 L783.1,819.1 L784.0,819.5 L785.0,819.9 L786.0,820.3 L787.0,820.6 L787.9,820.7 L789.0,820.7 L790.1,820.5 L791.2,820.3 L792.3,820.1 L793.5,819.9 L794.7,819.9 L795.7,820.1 L796.8,820.5 L797.7,821.0 L798.6,821.7 L799.3,822.5 L800.1,823.3 L800.9,824.1 L801.7,824.8 L802.7,825.2 L804.1,825.1 L806.1,824.3 L805.5,826.8 L805.7,828.1 L806.1,829.2 L806.6,830.1 L807.1,831.0 L807.6,832.0 L808.1,832.9 L808.6,833.7 L809.3,834.5 L810.0,835.2 L810.8,835.9 L811.6,836.5 L812.5,837.2 L813.2,838.0 L813.9,838.8 L814.4,839.8 L814.7,840.8 L814.9,841.8 L814.9,842.9 L814.9,844.0 L815.0,845.0 L815.2,846.0 L816.0,846.9 L816.5,847.8 L815.8,849.0 L815.7,850.0 L815.8,851.0 L815.9,852.0 L816.0,853.0 L816.0,854.0Z" fill="#dd8b8e" stroke="#a5555b" stroke-width="1.3" stroke-linejoin="round"/><g fill="#c7727a"><circle cx="770.4" cy="856.0" r="1.1"/><circle cx="775.6" cy="864.0" r="1.1"/><circle cx="765.9" cy="837.5" r="1.1"/><circle cx="786.1" cy="868.6" r="1.1"/><circle cx="774.3" cy="824.9" r="1.1"/><circle cx="768.3" cy="875.2" r="1.1"/><circle cx="786.9" cy="838.6" r="1.1"/><circle cx="755.9" cy="837.8" r="1.1"/><circle cx="805.2" cy="835.3" r="1.1"/><circle cx="807.2" cy="866.3" r="1.1"/><circle cx="776.9" cy="846.3" r="1.1"/><circle cx="784.3" cy="880.3" r="1.1"/><circle cx="793.1" cy="882.7" r="1.1"/><circle cx="763.0" cy="845.8" r="1.1"/><circle cx="759.1" cy="854.4" r="1.1"/><circle cx="791.1" cy="826.4" r="1.1"/><circle cx="809.9" cy="855.4" r="1.1"/><circle cx="801.3" cy="860.2" r="1.1"/><circle cx="790.9" cy="855.4" r="1.1"/><circle cx="784.1" cy="850.9" r="1.1"/><circle cx="800.0" cy="847.5" r="1.1"/><circle cx="795.1" cy="835.3" r="1.1"/><circle cx="795.3" cy="875.1" r="1.1"/><circle cx="764.2" cy="864.2" r="1.1"/><circle cx="756.0" cy="869.1" r="1.1"/><circle cx="749.6" cy="858.3" r="1.1"/><circle cx="772.2" cy="883.4" r="1.1"/><circle cx="775.9" cy="834.1" r="1.1"/><circle cx="751.8" cy="846.0" r="1.1"/><circle cx="793.1" cy="863.8" r="1.1"/></g><path d="M802.4,855.0 L802.4,856.1 L802.2,857.1 L801.9,858.2 L801.7,859.2 L801.5,860.3 L801.4,861.4 L801.4,862.6 L801.3,863.9 L801.1,865.3 L800.7,866.5 L800.0,867.6 L799.1,868.4 L798.0,869.1 L796.8,869.5 L795.6,869.9 L794.4,870.2 L793.3,870.5 L792.1,870.7 L790.9,870.8 L789.8,870.8 L788.7,870.8 L787.5,870.7 L786.4,870.8 L785.3,870.8 L784.2,870.8 L783.1,870.8 L782.0,870.5 L781.0,869.9 L780.1,869.2 L779.4,868.2 L778.7,867.3 L778.1,866.4 L777.5,865.6 L776.8,864.8 L776.1,864.2 L775.3,863.5 L774.6,862.8 L773.9,862.0 L773.2,861.1 L772.6,860.3 L771.9,859.3 L771.1,858.4 L770.4,857.3 L769.8,856.2 L769.5,855.0 L769.5,853.8 L769.9,852.6 L770.5,851.5 L771.2,850.5 L772.0,849.5 L772.6,848.6 L773.1,847.6 L773.5,846.6 L774.0,845.5 L774.6,844.6 L775.3,843.7 L776.1,842.9 L777.0,842.2 L778.0,841.6 L778.9,841.0 L779.9,840.4 L780.9,839.9 L781.9,839.4 L783.0,839.1 L784.2,838.9 L785.3,838.8 L786.4,838.8 L787.6,838.8 L788.7,838.8 L789.8,838.9 L791.0,839.0 L792.1,839.3 L793.2,839.8 L794.1,840.4 L794.9,841.2 L795.7,842.1 L796.5,842.9 L797.3,843.6 L798.1,844.3 L798.9,845.0 L799.6,845.8 L800.2,846.8 L800.6,847.8 L800.9,848.8 L801.1,849.9 L801.3,850.9 L801.6,851.9 L801.9,852.9 L802.2,853.9Z" fill="#b65a60" stroke="#9c474d" stroke-width="1"/><path d="M883.9,831.0 L883.8,832.1 L883.8,833.2 L883.7,834.3 L883.7,835.4 L883.7,836.6 L883.6,837.7 L883.5,838.8 L883.2,839.9 L882.9,841.0 L882.6,842.1 L882.4,843.1 L882.1,844.2 L881.9,845.4 L881.8,846.6 L881.7,847.8 L881.6,849.0 L881.3,850.1 L880.8,851.2 L880.1,852.2 L879.2,853.0 L878.1,853.6 L876.9,854.2 L875.7,854.7 L874.6,855.2 L873.5,855.7 L872.7,856.4 L871.9,857.2 L871.3,858.1 L870.8,859.1 L870.2,860.1 L869.5,861.0 L868.8,861.9 L867.9,862.6 L867.1,863.2 L866.2,864.0 L865.6,865.1 L865.6,867.6 L863.5,866.0 L862.0,865.6 L860.9,865.8 L859.8,866.1 L858.8,866.4 L857.7,866.6 L856.6,866.7 L855.5,866.7 L854.4,866.6 L853.3,866.5 L852.2,866.4 L851.1,866.5 L850.1,866.7 L849.1,867.1 L848.1,867.6 L847.1,868.1 L846.1,868.6 L845.0,869.0 L843.9,869.3 L842.8,869.4 L841.7,869.5 L840.5,870.0 L839.5,869.3 L838.6,867.9 L837.7,867.1 L836.7,866.5 L835.8,866.1 L834.8,865.8 L833.8,865.5 L832.8,865.1 L831.9,864.6 L831.0,864.1 L830.1,863.6 L829.2,863.1 L828.3,862.7 L827.0,862.9 L825.0,864.2 L824.8,862.4 L824.1,861.5 L823.1,861.2 L821.9,860.9 L820.8,860.6 L819.7,860.1 L818.8,859.5 L818.1,858.7 L817.5,857.7 L817.0,856.7 L816.6,855.6 L816.1,854.6 L815.5,853.7 L814.8,852.9 L814.0,852.2 L813.1,851.5 L812.2,850.8 L811.3,850.0 L810.5,849.2 L809.7,848.3 L809.1,847.4 L808.5,846.4 L808.0,845.4 L807.5,844.4 L807.1,843.3 L806.6,842.3 L806.2,841.2 L805.9,840.1 L805.7,839.0 L805.6,837.8 L805.7,836.6 L805.9,835.5 L806.1,834.3 L805.7,833.2 L804.0,832.2 L806.0,831.0 L806.9,829.9 L807.1,828.8 L806.9,827.7 L806.5,826.6 L806.2,825.4 L806.1,824.3 L806.2,823.1 L806.5,822.1 L807.1,821.0 L807.9,820.1 L808.8,819.2 L809.6,818.4 L810.4,817.5 L811.1,816.7 L811.5,815.7 L811.9,814.7 L812.2,813.7 L812.4,812.6 L812.7,811.5 L813.1,810.5 L813.5,809.5 L814.1,808.5 L814.7,807.6 L815.3,806.7 L815.9,805.8 L816.5,804.9 L817.1,803.9 L817.8,803.0 L818.5,802.2 L819.3,801.4 L820.3,800.8 L821.3,800.3 L822.4,799.9 L823.6,799.7 L824.7,799.4 L825.7,799.0 L826.4,798.1 L826.6,796.1 L827.7,795.9 L829.1,796.3 L830.1,795.8 L831.0,795.1 L832.0,794.5 L833.0,793.9 L834.0,793.6 L835.1,793.4 L836.3,793.4 L837.4,793.4 L838.5,793.5 L839.6,793.5 L840.7,793.2 L841.7,792.5 L842.8,792.1 L843.9,793.0 L845.0,793.3 L846.1,793.6 L847.1,793.9 L848.2,794.3 L849.2,794.6 L850.2,795.0 L851.2,795.2 L852.3,795.2 L853.3,795.1 L854.5,794.9 L855.7,794.7 L856.9,794.5 L858.1,794.4 L859.2,794.5 L860.3,794.9 L861.2,795.4 L862.1,796.2 L862.9,797.0 L863.7,797.9 L864.4,798.8 L865.2,799.6 L866.0,800.3 L866.8,800.9 L867.7,801.6 L868.5,802.2 L869.4,802.9 L870.1,803.7 L870.8,804.5 L871.4,805.3 L872.1,806.1 L872.8,806.9 L873.5,807.7 L874.3,808.4 L875.2,809.0 L876.1,809.7 L877.0,810.4 L877.9,811.1 L879.0,811.8 L880.3,812.4 L879.3,814.1 L878.9,815.5 L878.7,816.8 L878.6,817.9 L878.6,819.0 L879.0,820.0 L879.7,820.8 L881.1,821.5 L882.3,822.3 L882.2,823.5 L882.7,824.5 L883.2,825.5 L883.7,826.6 L883.9,827.7 L884.1,828.8 L884.0,829.9Z" fill="#f5a6a8" stroke="#bb6a70" stroke-width="1.3" stroke-linejoin="round"/><g fill="#e28a8d"><circle cx="871.7" cy="837.2" r="1.1"/><circle cx="823.0" cy="822.5" r="1.1"/><circle cx="867.9" cy="821.8" r="1.1"/><circle cx="826.6" cy="858.5" r="1.1"/><circle cx="822.7" cy="851.3" r="1.1"/><circle cx="831.7" cy="811.9" r="1.1"/><circle cx="851.7" cy="852.1" r="1.1"/><circle cx="851.7" cy="828.3" r="1.1"/><circle cx="838.1" cy="832.9" r="1.1"/><circle cx="860.7" cy="827.6" r="1.1"/><circle cx="825.0" cy="835.4" r="1.1"/><circle cx="875.9" cy="829.8" r="1.1"/><circle cx="848.4" cy="799.1" r="1.1"/><circle cx="813.2" cy="831.2" r="1.1"/><circle cx="861.3" cy="845.5" r="1.1"/><circle cx="845.8" cy="840.4" r="1.1"/><circle cx="853.5" cy="817.6" r="1.1"/><circle cx="866.2" cy="813.4" r="1.1"/><circle cx="841.6" cy="857.2" r="1.1"/><circle cx="855.9" cy="835.4" r="1.1"/><circle cx="873.1" cy="847.4" r="1.1"/><circle cx="862.2" cy="804.0" r="1.1"/><circle cx="854.8" cy="809.6" r="1.1"/><circle cx="844.4" cy="815.5" r="1.1"/><circle cx="835.9" cy="845.1" r="1.1"/><circle cx="856.9" cy="860.9" r="1.1"/><circle cx="832.9" cy="801.6" r="1.1"/><circle cx="844.4" cy="806.8" r="1.1"/><circle cx="814.8" cy="844.1" r="1.1"/><circle cx="863.7" cy="836.0" r="1.1"/><circle cx="825.3" cy="806.5" r="1.1"/><circle cx="826.2" cy="843.6" r="1.1"/><circle cx="815.0" cy="822.8" r="1.1"/><circle cx="832.8" cy="822.2" r="1.1"/></g><path d="M866.1,838.0 L866.1,839.2 L866.0,840.4 L865.7,841.5 L865.2,842.6 L864.7,843.7 L864.2,844.8 L863.9,845.9 L863.6,847.1 L863.3,848.4 L862.8,849.6 L862.1,850.7 L861.2,851.5 L860.0,852.1 L858.7,852.4 L857.4,852.5 L856.1,852.6 L855.0,852.8 L853.9,853.1 L852.8,853.4 L851.8,853.7 L850.7,854.0 L849.6,854.1 L848.4,854.2 L847.3,854.2 L846.1,854.2 L845.0,854.2 L843.8,854.1 L842.6,853.8 L841.6,853.3 L840.6,852.5 L839.8,851.6 L839.1,850.7 L838.4,849.8 L837.6,849.0 L836.8,848.3 L835.8,847.6 L834.7,846.9 L833.7,846.1 L832.8,845.2 L832.0,844.2 L831.3,843.1 L830.7,841.9 L830.2,840.6 L829.8,839.3 L829.6,838.0 L829.7,836.6 L830.1,835.3 L830.8,834.1 L831.8,833.1 L832.8,832.1 L833.8,831.3 L834.7,830.4 L835.3,829.5 L835.9,828.5 L836.4,827.5 L837.1,826.5 L837.9,825.7 L838.9,825.1 L840.0,824.6 L841.1,824.3 L842.1,823.9 L843.1,823.5 L844.1,823.0 L845.1,822.6 L846.2,822.2 L847.3,821.9 L848.4,821.8 L849.6,821.8 L850.7,821.8 L851.9,821.8 L853.1,821.7 L854.3,821.8 L855.5,821.9 L856.7,822.2 L857.8,822.7 L858.8,823.4 L859.8,824.2 L860.6,825.1 L861.5,825.9 L862.4,826.7 L863.3,827.6 L864.1,828.6 L864.8,829.6 L865.2,830.8 L865.5,832.0 L865.6,833.2 L865.7,834.4 L865.8,835.6 L866.0,836.8Z" fill="#d9777b" stroke="#c4656a" stroke-width="1"/><path d="M845.6,794.0 L845.1,795.5 L844.5,796.9 L843.8,798.3 L843.1,799.7 L842.7,801.1 L842.4,802.5 L842.1,803.8 L841.9,805.3 L842.1,806.8 L843.3,808.6 L842.4,809.9 L840.6,810.8 L839.8,812.0 L839.6,813.5 L839.5,815.0 L839.3,816.5 L838.7,817.8 L837.7,818.9 L836.3,819.8 L834.7,820.5 L833.2,821.2 L832.0,821.9 L831.1,823.0 L830.5,824.2 L830.1,825.7 L829.8,827.3 L829.3,828.8 L828.5,830.0 L827.4,831.0 L826.1,831.7 L824.8,832.3 L823.5,832.9 L822.6,834.0 L822.3,836.1 L821.1,836.9 L818.8,835.9 L817.1,835.8 L815.6,835.8 L814.1,836.0 L812.8,836.3 L811.6,836.8 L810.5,837.7 L809.5,838.7 L808.4,839.9 L807.3,840.9 L806.0,841.5 L804.6,841.7 L803.1,841.5 L801.6,841.0 L800.2,840.4 L798.8,840.0 L797.4,839.9 L796.1,840.2 L794.8,840.6 L793.5,841.2 L792.1,841.6 L790.8,841.9 L789.4,842.1 L787.9,842.6 L786.3,843.8 L784.8,844.2 L783.5,843.2 L782.1,843.0 L780.6,843.0 L779.2,842.6 L777.9,842.0 L776.8,840.9 L775.7,839.7 L774.7,838.6 L773.6,837.6 L772.4,837.0 L771.0,836.7 L769.4,836.6 L767.9,836.5 L766.4,836.2 L765.0,835.6 L763.9,834.8 L762.8,833.8 L761.8,832.7 L760.8,831.7 L759.8,830.8 L758.7,829.8 L757.7,828.7 L757.0,827.5 L756.4,826.1 L756.1,824.6 L755.8,823.1 L755.5,821.6 L754.8,820.5 L753.6,819.6 L751.6,819.3 L747.8,819.8 L748.6,817.7 L748.4,816.2 L747.9,814.8 L747.7,813.4 L747.7,811.9 L747.7,810.3 L747.7,808.9 L747.6,807.5 L747.2,806.2 L746.7,804.9 L746.3,803.6 L745.8,802.2 L745.5,800.9 L745.3,799.5 L745.0,798.2 L744.5,796.8 L743.9,795.4 L743.1,794.0 L742.4,792.5 L741.9,791.0 L741.5,789.5 L740.9,788.0 L739.4,786.2 L743.1,785.3 L745.1,784.2 L746.0,783.0 L746.3,781.6 L746.1,780.1 L745.8,778.5 L745.4,776.8 L745.4,775.3 L745.8,773.8 L746.5,772.5 L747.6,771.4 L748.7,770.4 L749.8,769.3 L750.9,768.3 L751.7,767.2 L752.6,766.0 L753.5,764.9 L754.5,763.9 L755.6,763.0 L756.6,762.0 L757.5,761.0 L758.3,759.8 L759.0,758.5 L759.6,757.0 L760.2,755.6 L761.0,754.2 L761.8,752.9 L762.4,751.2 L764.0,750.9 L766.7,752.3 L768.6,752.7 L770.1,752.6 L771.3,751.9 L772.3,750.9 L773.2,749.6 L774.2,748.3 L775.2,746.9 L776.1,745.1 L776.7,742.3 L779.0,744.8 L780.8,745.6 L782.3,745.7 L783.7,745.6 L785.1,745.4 L786.5,745.3 L787.9,745.5 L789.4,746.0 L790.8,746.7 L792.2,747.3 L793.5,747.8 L794.8,747.9 L796.2,747.6 L797.5,747.1 L799.0,746.5 L800.4,746.1 L801.8,746.0 L803.1,746.4 L804.4,747.2 L805.6,748.2 L806.7,749.1 L807.8,749.9 L809.0,750.5 L810.2,751.0 L811.5,751.5 L812.6,752.1 L813.8,752.8 L814.8,753.6 L815.9,754.4 L817.0,755.0 L818.3,755.4 L819.8,755.5 L821.5,755.5 L823.1,755.6 L824.7,755.8 L826.0,756.4 L827.1,757.4 L828.0,758.5 L828.9,759.6 L830.4,760.1 L832.0,760.6 L831.5,762.9 L832.1,764.2 L833.2,765.2 L834.4,766.1 L835.5,767.0 L836.5,768.1 L837.4,769.2 L838.3,770.4 L839.2,771.5 L840.3,772.6 L841.4,773.8 L842.3,775.0 L843.0,776.3 L843.3,777.8 L843.1,779.4 L842.7,781.1 L842.2,782.7 L841.9,784.2 L842.0,785.6 L842.6,786.9 L843.4,788.3 L844.4,789.6 L845.2,791.0 L845.6,792.5Z" fill="#f9b7b8" stroke="#c57478" stroke-width="1.3" stroke-linejoin="round"/><g fill="#eb9fa1"><circle cx="786.2" cy="818.5" r="1.1"/><circle cx="805.5" cy="764.4" r="1.1"/><circle cx="790.8" cy="774.8" r="1.1"/><circle cx="797.1" cy="755.5" r="1.1"/><circle cx="780.0" cy="800.9" r="1.1"/><circle cx="781.9" cy="829.5" r="1.1"/><circle cx="770.4" cy="813.3" r="1.1"/><circle cx="828.9" cy="812.3" r="1.1"/><circle cx="772.3" cy="764.5" r="1.1"/><circle cx="792.9" cy="797.2" r="1.1"/><circle cx="824.2" cy="800.1" r="1.1"/><circle cx="806.0" cy="790.3" r="1.1"/><circle cx="771.4" cy="776.1" r="1.1"/><circle cx="767.2" cy="821.7" r="1.1"/><circle cx="824.4" cy="772.5" r="1.1"/><circle cx="810.9" cy="809.0" r="1.1"/><circle cx="796.7" cy="830.8" r="1.1"/><circle cx="780.4" cy="773.8" r="1.1"/><circle cx="763.1" cy="801.4" r="1.1"/><circle cx="803.1" cy="804.4" r="1.1"/><circle cx="807.3" cy="773.1" r="1.1"/><circle cx="751.1" cy="794.2" r="1.1"/><circle cx="821.7" cy="781.6" r="1.1"/><circle cx="753.8" cy="804.9" r="1.1"/><circle cx="757.3" cy="774.0" r="1.1"/><circle cx="776.8" cy="783.7" r="1.1"/><circle cx="804.1" cy="824.4" r="1.1"/><circle cx="786.7" cy="785.6" r="1.1"/><circle cx="762.0" cy="810.8" r="1.1"/><circle cx="757.7" cy="784.3" r="1.1"/><circle cx="828.3" cy="790.5" r="1.1"/><circle cx="820.7" cy="823.8" r="1.1"/><circle cx="771.0" cy="795.8" r="1.1"/><circle cx="817.4" cy="761.0" r="1.1"/><circle cx="784.9" cy="809.7" r="1.1"/><circle cx="771.5" cy="804.8" r="1.1"/><circle cx="808.6" cy="781.5" r="1.1"/><circle cx="815.1" cy="770.0" r="1.1"/><circle cx="794.7" cy="767.3" r="1.1"/><circle cx="786.4" cy="836.3" r="1.1"/><circle cx="809.1" cy="832.0" r="1.1"/><circle cx="793.4" cy="807.8" r="1.1"/><circle cx="767.8" cy="788.3" r="1.1"/><circle cx="812.9" cy="800.9" r="1.1"/><circle cx="786.7" cy="756.0" r="1.1"/><circle cx="795.2" cy="821.1" r="1.1"/><circle cx="834.2" cy="801.2" r="1.1"/><circle cx="799.1" cy="773.8" r="1.1"/><circle cx="799.3" cy="784.0" r="1.1"/><circle cx="784.9" cy="763.8" r="1.1"/><circle cx="780.9" cy="792.7" r="1.1"/><circle cx="820.3" cy="814.7" r="1.1"/><circle cx="764.3" cy="765.1" r="1.1"/><circle cx="777.7" cy="758.2" r="1.1"/><circle cx="817.6" cy="793.7" r="1.1"/><circle cx="802.1" cy="815.3" r="1.1"/><circle cx="763.8" cy="778.4" r="1.1"/></g><path d="M818.2,798.5 L817.6,799.8 L817.3,801.0 L817.2,802.3 L817.4,803.6 L817.6,805.1 L817.7,806.6 L817.6,808.1 L817.3,809.6 L816.8,811.1 L816.1,812.5 L815.4,813.8 L814.4,815.1 L813.4,816.3 L812.1,817.2 L810.7,817.9 L809.2,818.3 L807.6,818.6 L806.1,818.8 L804.6,819.1 L803.2,819.4 L801.7,819.8 L800.3,820.2 L798.7,820.5 L797.2,820.5 L795.7,820.3 L794.2,819.8 L792.8,819.2 L791.4,818.5 L790.1,817.8 L788.8,817.0 L787.6,816.2 L786.5,815.2 L785.6,814.0 L784.8,812.7 L784.2,811.4 L783.5,810.1 L782.8,808.9 L781.9,807.8 L780.9,806.8 L779.9,805.6 L779.1,804.4 L778.5,803.0 L778.3,801.5 L778.4,800.0 L778.7,798.5 L779.0,797.1 L779.2,795.7 L779.4,794.2 L779.5,792.8 L779.8,791.3 L780.3,789.9 L781.0,788.7 L782.0,787.5 L783.1,786.6 L784.2,785.6 L785.2,784.7 L786.3,783.8 L787.3,782.9 L788.4,782.0 L789.5,781.2 L790.7,780.4 L791.9,779.7 L793.2,779.0 L794.4,778.2 L795.8,777.3 L797.2,776.4 L798.7,775.7 L800.3,775.2 L802.0,775.1 L803.6,775.5 L805.1,776.1 L806.5,776.9 L807.9,777.8 L809.2,778.7 L810.4,779.5 L811.7,780.4 L812.8,781.5 L813.8,782.6 L814.7,783.8 L815.4,785.1 L816.2,786.4 L816.9,787.6 L817.7,788.8 L818.6,790.0 L819.3,791.3 L819.7,792.7 L819.8,794.2 L819.4,795.7 L818.8,797.1Z" fill="#d9898b" stroke="#c8787b" stroke-width="1"/></g><circle cx="1266.0" cy="783.0" r="80.0" fill="#a1cdea" stroke="#2f6c98" stroke-width="2.4"/><circle cx="1274.0" cy="774.7" r="49.0" fill="#86b1cb" stroke="#6e9bb8" stroke-width="1.2"/><g transform="translate(1155.0,786.2) rotate(0.0) scale(1.120)"><path d="M1,-1.5 C-2.5,-2.5 -2.5,-6.3 2,-6.3 L16,-6.3 C19.5,-6.3 19.5,-11 16,-11" fill="#ffffff" stroke="#2b2152" stroke-width="1.4"/><rect x="0" y="-2.4" width="15" height="4.8" rx="2.4" fill="#593d8e"/><rect x="1.5" y="-13.6" width="15" height="4.8" rx="2.4" fill="#593d8e"/><line x1="14" y1="0" x2="61" y2="0" stroke="#2b2152" stroke-width="1.6"/><rect x="28.0" y="-2.8" width="9" height="5.6" rx="2.4" fill="#593d8e"/><rect x="40.0" y="-2.8" width="9" height="5.6" rx="2.4" fill="#593d8e"/><rect x="52.0" y="-2.8" width="9" height="5.6" rx="2.4" fill="#593d8e"/></g><path d="M1321.4,801.5 L1370,827.5" stroke="#4b3f90" stroke-width="3.8" stroke-linecap="round"/><ellipse cx="1375" cy="822" rx="5" ry="7.5" transform="rotate(35 1375 822)" fill="#4b3f90"/><text x="1389.3" y="832.3" font-family='"Liberation Sans", sans-serif' font-size="24.0" font-weight="bold" fill="#2e2158" text-anchor="start" textLength="47.1" lengthAdjust="spacingAndGlyphs" >PD1</text><path d="M724.0,945.0 V963.0 M718.0,956.5 L724.0,963.0 L730.0,956.5" fill="none" stroke="#b83232" stroke-width="3.2" stroke-linejoin="miter"/><path d="M791.0,945.0 V963.0 M785.0,956.5 L791.0,963.0 L797.0,956.5" fill="none" stroke="#b83232" stroke-width="3.2" stroke-linejoin="miter"/><text x="740.4" y="963.5" font-family='"Liberation Sans", sans-serif' font-size="25.0" font-weight="bold" fill="#b83232" text-anchor="start" textLength="20.2" lengthAdjust="spacingAndGlyphs" >O</text><text x="757.9" y="966.0" font-family='"Liberation Sans", sans-serif' font-size="15.0" font-weight="normal" fill="#b83232" text-anchor="start" textLength="11.2" lengthAdjust="spacingAndGlyphs" >2</text><text x="807.8" y="963.5" font-family='"Liberation Sans", sans-serif' font-size="25.0" font-weight="bold" fill="#b83232" text-anchor="start" textLength="95.2" lengthAdjust="spacingAndGlyphs" >Glucose</text></svg></div></body></html>
